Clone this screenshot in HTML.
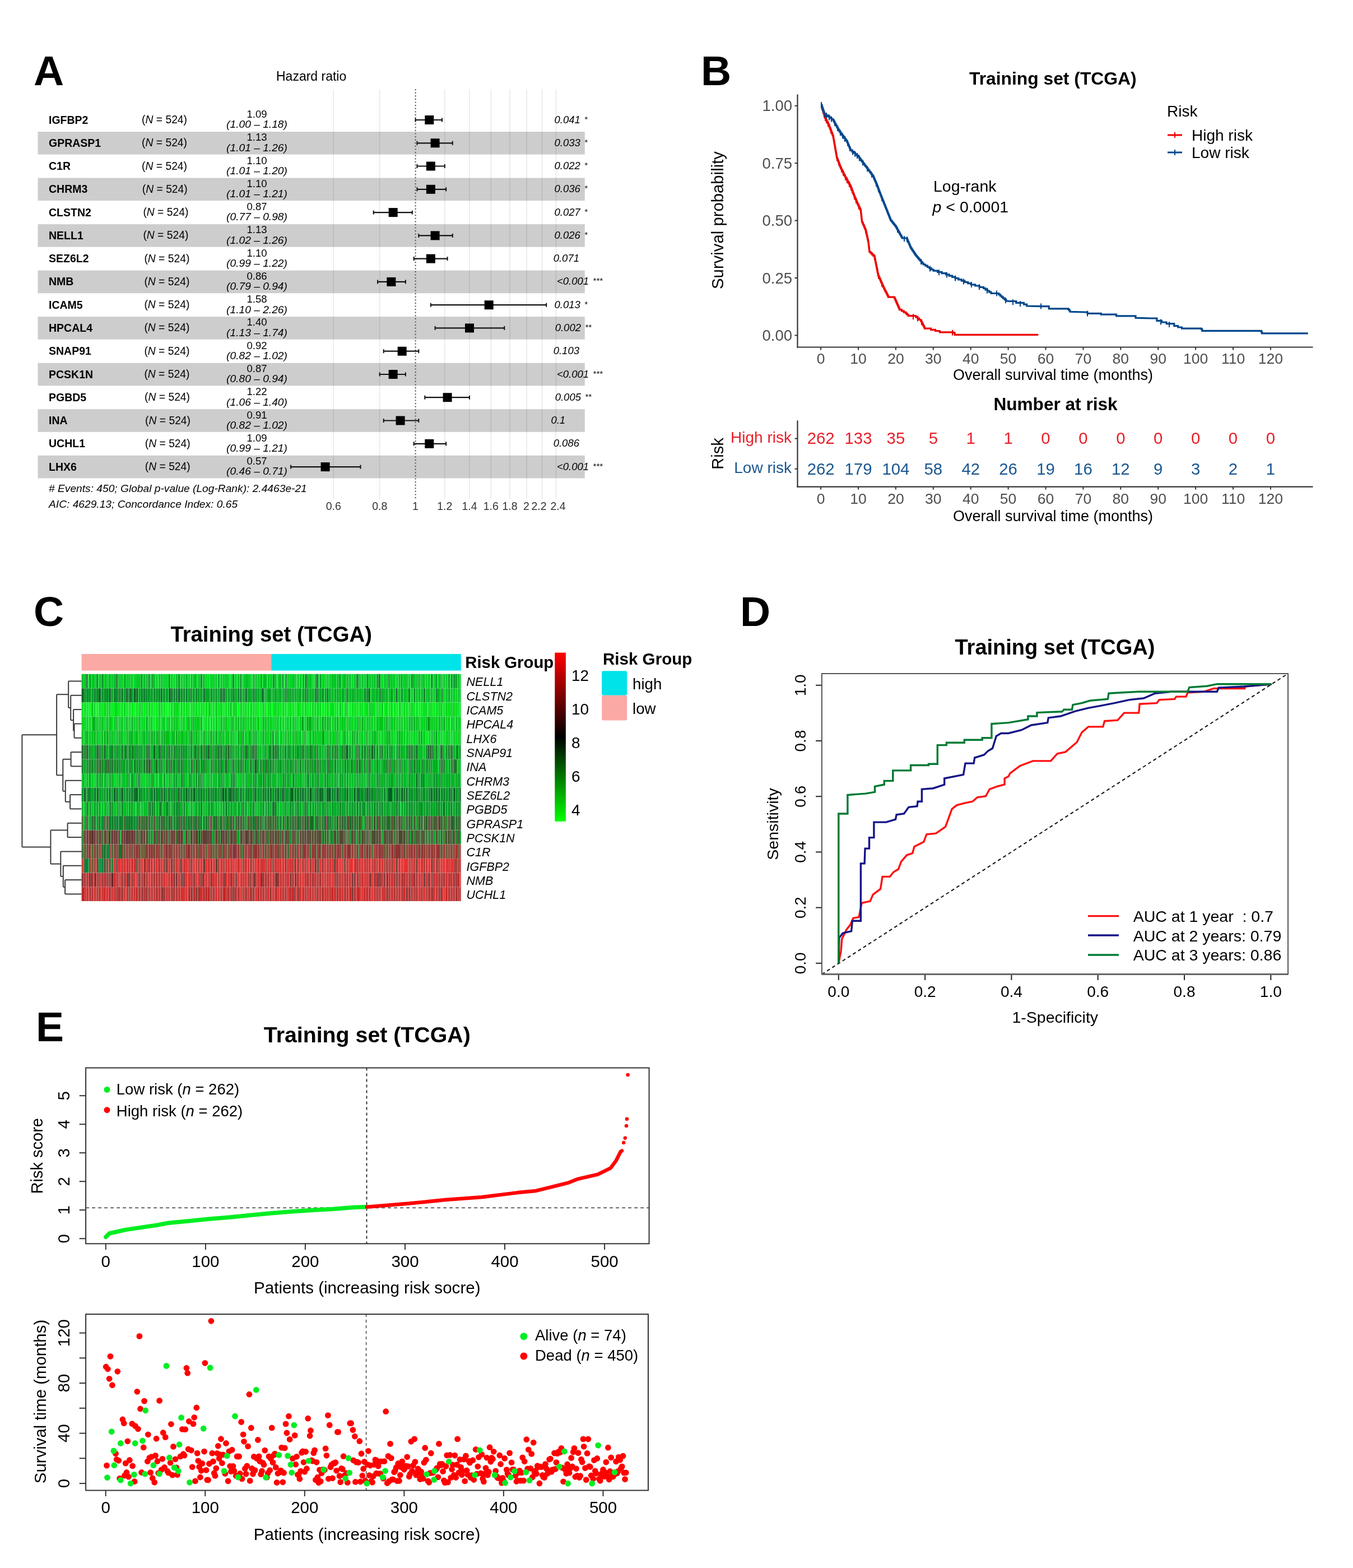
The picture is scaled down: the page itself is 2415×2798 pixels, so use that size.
<!DOCTYPE html>
<html><head><meta charset="utf-8"><title>Figure</title>
<style>html,body{margin:0;padding:0;background:#fff;}svg{display:block;}
text{font-family:"Liberation Sans",Arial,Helvetica,sans-serif;}</style></head>
<body><svg width="2415" height="2798" viewBox="0 0 2415 2798">
<rect width="2415" height="2798" fill="#fff"/>
<text x="60.0" y="152.0" font-size="75" font-weight="bold">A</text>
<text x="493.0" y="143.7" font-size="23">Hazard ratio</text>
<rect x="67.5" y="235.0" width="976.3" height="40.6" fill="#cdcdcd" />
<rect x="67.5" y="317.5" width="976.3" height="40.6" fill="#cdcdcd" />
<rect x="67.5" y="400.1" width="976.3" height="40.6" fill="#cdcdcd" />
<rect x="67.5" y="482.6" width="976.3" height="40.6" fill="#cdcdcd" />
<rect x="67.5" y="565.1" width="976.3" height="40.6" fill="#cdcdcd" />
<rect x="67.5" y="647.7" width="976.3" height="40.6" fill="#cdcdcd" />
<rect x="67.5" y="730.2" width="976.3" height="40.6" fill="#cdcdcd" />
<rect x="67.5" y="812.8" width="976.3" height="40.6" fill="#cdcdcd" />
<line x1="595.2" y1="159.0" x2="595.2" y2="890.0" stroke="rgba(0,0,0,0.09)" stroke-width="1.6" />
<line x1="677.7" y1="159.0" x2="677.7" y2="890.0" stroke="rgba(0,0,0,0.09)" stroke-width="1.6" />
<line x1="793.8" y1="159.0" x2="793.8" y2="890.0" stroke="rgba(0,0,0,0.09)" stroke-width="1.6" />
<line x1="838.0" y1="159.0" x2="838.0" y2="890.0" stroke="rgba(0,0,0,0.09)" stroke-width="1.6" />
<line x1="876.3" y1="159.0" x2="876.3" y2="890.0" stroke="rgba(0,0,0,0.09)" stroke-width="1.6" />
<line x1="910.0" y1="159.0" x2="910.0" y2="890.0" stroke="rgba(0,0,0,0.09)" stroke-width="1.6" />
<line x1="940.2" y1="159.0" x2="940.2" y2="890.0" stroke="rgba(0,0,0,0.09)" stroke-width="1.6" />
<line x1="967.5" y1="159.0" x2="967.5" y2="890.0" stroke="rgba(0,0,0,0.09)" stroke-width="1.6" />
<line x1="992.4" y1="159.0" x2="992.4" y2="890.0" stroke="rgba(0,0,0,0.09)" stroke-width="1.6" />
<line x1="741.6" y1="159.0" x2="741.6" y2="890.0" stroke="#555" stroke-width="2" stroke-dasharray="2.2,3.4"/>
<text x="87.0" y="220.5" font-size="19.5" font-weight="bold">IGFBP2</text>
<text x="253.1" y="220.0" font-size="19.3">(<tspan font-style="italic">N</tspan> = 524)</text>
<text x="458.5" y="210.0" font-size="18.5" text-anchor="middle">1.09</text>
<text x="458.5" y="228.3" font-size="19.2" font-style="italic" text-anchor="middle">(1.00 – 1.18)</text>
<line x1="741.6" y1="214.0" x2="789.0" y2="214.0" stroke="#111" stroke-width="2.2" />
<line x1="741.6" y1="210.5" x2="741.6" y2="217.5" stroke="#111" stroke-width="2" />
<line x1="789.0" y1="210.5" x2="789.0" y2="217.5" stroke="#111" stroke-width="2" />
<rect x="758.3" y="206.0" width="16.0" height="16.0" fill="#000" />
<text x="989.5" y="219.5" font-size="18.5" font-style="italic">0.041<tspan dx="7" dy="-2" font-size="15">*</tspan></text>
<text x="87.0" y="261.8" font-size="19.5" font-weight="bold">GPRASP1</text>
<text x="253.1" y="261.3" font-size="19.3">(<tspan font-style="italic">N</tspan> = 524)</text>
<text x="458.5" y="251.3" font-size="18.5" text-anchor="middle">1.13</text>
<text x="458.5" y="269.6" font-size="19.2" font-style="italic" text-anchor="middle">(1.01 – 1.26)</text>
<line x1="744.5" y1="255.3" x2="807.8" y2="255.3" stroke="#111" stroke-width="2.2" />
<line x1="744.5" y1="251.8" x2="744.5" y2="258.8" stroke="#111" stroke-width="2" />
<line x1="807.8" y1="251.8" x2="807.8" y2="258.8" stroke="#111" stroke-width="2" />
<rect x="768.6" y="247.3" width="16.0" height="16.0" fill="#000" />
<text x="989.5" y="260.8" font-size="18.5" font-style="italic">0.033<tspan dx="7" dy="-2" font-size="15">*</tspan></text>
<text x="87.0" y="303.0" font-size="19.5" font-weight="bold">C1R</text>
<text x="253.1" y="302.5" font-size="19.3">(<tspan font-style="italic">N</tspan> = 524)</text>
<text x="458.5" y="292.5" font-size="18.5" text-anchor="middle">1.10</text>
<text x="458.5" y="310.8" font-size="19.2" font-style="italic" text-anchor="middle">(1.01 – 1.20)</text>
<line x1="744.5" y1="296.5" x2="793.8" y2="296.5" stroke="#111" stroke-width="2.2" />
<line x1="744.5" y1="293.0" x2="744.5" y2="300.0" stroke="#111" stroke-width="2" />
<line x1="793.8" y1="293.0" x2="793.8" y2="300.0" stroke="#111" stroke-width="2" />
<rect x="760.9" y="288.5" width="16.0" height="16.0" fill="#000" />
<text x="989.5" y="302.0" font-size="18.5" font-style="italic">0.022<tspan dx="7" dy="-2" font-size="15">*</tspan></text>
<text x="87.0" y="344.3" font-size="19.5" font-weight="bold">CHRM3</text>
<text x="253.8" y="343.8" font-size="19.3">(<tspan font-style="italic">N</tspan> = 524)</text>
<text x="458.5" y="333.8" font-size="18.5" text-anchor="middle">1.10</text>
<text x="458.5" y="352.1" font-size="19.2" font-style="italic" text-anchor="middle">(1.01 – 1.21)</text>
<line x1="744.5" y1="337.8" x2="796.2" y2="337.8" stroke="#111" stroke-width="2.2" />
<line x1="744.5" y1="334.3" x2="744.5" y2="341.3" stroke="#111" stroke-width="2" />
<line x1="796.2" y1="334.3" x2="796.2" y2="341.3" stroke="#111" stroke-width="2" />
<rect x="760.9" y="329.8" width="16.0" height="16.0" fill="#000" />
<text x="989.5" y="343.3" font-size="18.5" font-style="italic">0.036<tspan dx="7" dy="-2" font-size="15">*</tspan></text>
<text x="87.0" y="385.6" font-size="19.5" font-weight="bold">CLSTN2</text>
<text x="255.4" y="385.1" font-size="19.3">(<tspan font-style="italic">N</tspan> = 524)</text>
<text x="458.5" y="375.1" font-size="18.5" text-anchor="middle">0.87</text>
<text x="458.5" y="393.4" font-size="19.2" font-style="italic" text-anchor="middle">(0.77 – 0.98)</text>
<line x1="666.7" y1="379.1" x2="735.8" y2="379.1" stroke="#111" stroke-width="2.2" />
<line x1="666.7" y1="375.6" x2="666.7" y2="382.6" stroke="#111" stroke-width="2" />
<line x1="735.8" y1="375.6" x2="735.8" y2="382.6" stroke="#111" stroke-width="2" />
<rect x="693.7" y="371.1" width="16.0" height="16.0" fill="#000" />
<text x="989.5" y="384.6" font-size="18.5" font-style="italic">0.027<tspan dx="7" dy="-2" font-size="15">*</tspan></text>
<text x="87.0" y="426.9" font-size="19.5" font-weight="bold">NELL1</text>
<text x="255.4" y="426.4" font-size="19.3">(<tspan font-style="italic">N</tspan> = 524)</text>
<text x="458.5" y="416.4" font-size="18.5" text-anchor="middle">1.13</text>
<text x="458.5" y="434.7" font-size="19.2" font-style="italic" text-anchor="middle">(1.02 – 1.26)</text>
<line x1="747.3" y1="420.4" x2="807.8" y2="420.4" stroke="#111" stroke-width="2.2" />
<line x1="747.3" y1="416.9" x2="747.3" y2="423.9" stroke="#111" stroke-width="2" />
<line x1="807.8" y1="416.9" x2="807.8" y2="423.9" stroke="#111" stroke-width="2" />
<rect x="768.6" y="412.4" width="16.0" height="16.0" fill="#000" />
<text x="989.5" y="425.9" font-size="18.5" font-style="italic">0.026<tspan dx="7" dy="-2" font-size="15">*</tspan></text>
<text x="87.0" y="468.1" font-size="19.5" font-weight="bold">SEZ6L2</text>
<text x="257.4" y="467.6" font-size="19.3">(<tspan font-style="italic">N</tspan> = 524)</text>
<text x="458.5" y="457.6" font-size="18.5" text-anchor="middle">1.10</text>
<text x="458.5" y="475.9" font-size="19.2" font-style="italic" text-anchor="middle">(0.99 – 1.22)</text>
<line x1="738.7" y1="461.6" x2="798.6" y2="461.6" stroke="#111" stroke-width="2.2" />
<line x1="738.7" y1="458.1" x2="738.7" y2="465.1" stroke="#111" stroke-width="2" />
<line x1="798.6" y1="458.1" x2="798.6" y2="465.1" stroke="#111" stroke-width="2" />
<rect x="760.9" y="453.6" width="16.0" height="16.0" fill="#000" />
<text x="987.7" y="467.1" font-size="18.5" font-style="italic">0.071</text>
<text x="87.0" y="509.4" font-size="19.5" font-weight="bold">NMB</text>
<text x="257.4" y="508.9" font-size="19.3">(<tspan font-style="italic">N</tspan> = 524)</text>
<text x="458.5" y="498.9" font-size="18.5" text-anchor="middle">0.86</text>
<text x="458.5" y="517.2" font-size="19.2" font-style="italic" text-anchor="middle">(0.79 – 0.94)</text>
<line x1="674.1" y1="502.9" x2="723.9" y2="502.9" stroke="#111" stroke-width="2.2" />
<line x1="674.1" y1="499.4" x2="674.1" y2="506.4" stroke="#111" stroke-width="2" />
<line x1="723.9" y1="499.4" x2="723.9" y2="506.4" stroke="#111" stroke-width="2" />
<rect x="690.4" y="494.9" width="16.0" height="16.0" fill="#000" />
<text x="994.0" y="508.4" font-size="18.5" font-style="italic">&lt;0.001<tspan dx="7" dy="-2" font-size="15">***</tspan></text>
<text x="87.0" y="550.7" font-size="19.5" font-weight="bold">ICAM5</text>
<text x="257.4" y="550.2" font-size="19.3">(<tspan font-style="italic">N</tspan> = 524)</text>
<text x="458.5" y="540.2" font-size="18.5" text-anchor="middle">1.58</text>
<text x="458.5" y="558.5" font-size="19.2" font-style="italic" text-anchor="middle">(1.10 – 2.26)</text>
<line x1="768.9" y1="544.2" x2="975.2" y2="544.2" stroke="#111" stroke-width="2.2" />
<line x1="768.9" y1="540.7" x2="768.9" y2="547.7" stroke="#111" stroke-width="2" />
<line x1="975.2" y1="540.7" x2="975.2" y2="547.7" stroke="#111" stroke-width="2" />
<rect x="864.7" y="536.2" width="16.0" height="16.0" fill="#000" />
<text x="989.5" y="549.7" font-size="18.5" font-style="italic">0.013<tspan dx="7" dy="-2" font-size="15">*</tspan></text>
<text x="87.0" y="591.9" font-size="19.5" font-weight="bold">HPCAL4</text>
<text x="257.4" y="591.4" font-size="19.3">(<tspan font-style="italic">N</tspan> = 524)</text>
<text x="458.5" y="581.4" font-size="18.5" text-anchor="middle">1.40</text>
<text x="458.5" y="599.7" font-size="19.2" font-style="italic" text-anchor="middle">(1.13 – 1.74)</text>
<line x1="776.6" y1="585.4" x2="900.3" y2="585.4" stroke="#111" stroke-width="2.2" />
<line x1="776.6" y1="581.9" x2="776.6" y2="588.9" stroke="#111" stroke-width="2" />
<line x1="900.3" y1="581.9" x2="900.3" y2="588.9" stroke="#111" stroke-width="2" />
<rect x="830.0" y="577.4" width="16.0" height="16.0" fill="#000" />
<text x="990.7" y="590.9" font-size="18.5" font-style="italic">0.002<tspan dx="7" dy="-2" font-size="15">**</tspan></text>
<text x="87.0" y="633.2" font-size="19.5" font-weight="bold">SNAP91</text>
<text x="257.4" y="632.7" font-size="19.3">(<tspan font-style="italic">N</tspan> = 524)</text>
<text x="458.5" y="622.7" font-size="18.5" text-anchor="middle">0.92</text>
<text x="458.5" y="641.0" font-size="19.2" font-style="italic" text-anchor="middle">(0.82 – 1.02)</text>
<line x1="684.7" y1="626.7" x2="747.3" y2="626.7" stroke="#111" stroke-width="2.2" />
<line x1="684.7" y1="623.2" x2="684.7" y2="630.2" stroke="#111" stroke-width="2" />
<line x1="747.3" y1="623.2" x2="747.3" y2="630.2" stroke="#111" stroke-width="2" />
<rect x="709.7" y="618.7" width="16.0" height="16.0" fill="#000" />
<text x="987.7" y="632.2" font-size="18.5" font-style="italic">0.103</text>
<text x="87.0" y="674.5" font-size="19.5" font-weight="bold">PCSK1N</text>
<text x="257.4" y="674.0" font-size="19.3">(<tspan font-style="italic">N</tspan> = 524)</text>
<text x="458.5" y="664.0" font-size="18.5" text-anchor="middle">0.87</text>
<text x="458.5" y="682.3" font-size="19.2" font-style="italic" text-anchor="middle">(0.80 – 0.94)</text>
<line x1="677.7" y1="668.0" x2="723.9" y2="668.0" stroke="#111" stroke-width="2.2" />
<line x1="677.7" y1="664.5" x2="677.7" y2="671.5" stroke="#111" stroke-width="2" />
<line x1="723.9" y1="664.5" x2="723.9" y2="671.5" stroke="#111" stroke-width="2" />
<rect x="693.7" y="660.0" width="16.0" height="16.0" fill="#000" />
<text x="994.0" y="673.5" font-size="18.5" font-style="italic">&lt;0.001<tspan dx="7" dy="-2" font-size="15">***</tspan></text>
<text x="87.0" y="715.7" font-size="19.5" font-weight="bold">PGBD5</text>
<text x="258.1" y="715.2" font-size="19.3">(<tspan font-style="italic">N</tspan> = 524)</text>
<text x="458.5" y="705.2" font-size="18.5" text-anchor="middle">1.22</text>
<text x="458.5" y="723.5" font-size="19.2" font-style="italic" text-anchor="middle">(1.06 – 1.40)</text>
<line x1="758.3" y1="709.2" x2="838.0" y2="709.2" stroke="#111" stroke-width="2.2" />
<line x1="758.3" y1="705.7" x2="758.3" y2="712.7" stroke="#111" stroke-width="2" />
<line x1="838.0" y1="705.7" x2="838.0" y2="712.7" stroke="#111" stroke-width="2" />
<rect x="790.6" y="701.2" width="16.0" height="16.0" fill="#000" />
<text x="990.7" y="714.7" font-size="18.5" font-style="italic">0.005<tspan dx="7" dy="-2" font-size="15">**</tspan></text>
<text x="87.0" y="757.0" font-size="19.5" font-weight="bold">INA</text>
<text x="259.1" y="756.5" font-size="19.3">(<tspan font-style="italic">N</tspan> = 524)</text>
<text x="458.5" y="746.5" font-size="18.5" text-anchor="middle">0.91</text>
<text x="458.5" y="764.8" font-size="19.2" font-style="italic" text-anchor="middle">(0.82 – 1.02)</text>
<line x1="684.7" y1="750.5" x2="747.3" y2="750.5" stroke="#111" stroke-width="2.2" />
<line x1="684.7" y1="747.0" x2="684.7" y2="754.0" stroke="#111" stroke-width="2" />
<line x1="747.3" y1="747.0" x2="747.3" y2="754.0" stroke="#111" stroke-width="2" />
<rect x="706.6" y="742.5" width="16.0" height="16.0" fill="#000" />
<text x="983.4" y="756.0" font-size="18.5" font-style="italic">0.1</text>
<text x="87.0" y="798.3" font-size="19.5" font-weight="bold">UCHL1</text>
<text x="258.8" y="797.8" font-size="19.3">(<tspan font-style="italic">N</tspan> = 524)</text>
<text x="458.5" y="787.8" font-size="18.5" text-anchor="middle">1.09</text>
<text x="458.5" y="806.1" font-size="19.2" font-style="italic" text-anchor="middle">(0.99 – 1.21)</text>
<line x1="738.7" y1="791.8" x2="796.2" y2="791.8" stroke="#111" stroke-width="2.2" />
<line x1="738.7" y1="788.3" x2="738.7" y2="795.3" stroke="#111" stroke-width="2" />
<line x1="796.2" y1="788.3" x2="796.2" y2="795.3" stroke="#111" stroke-width="2" />
<rect x="758.3" y="783.8" width="16.0" height="16.0" fill="#000" />
<text x="987.7" y="797.3" font-size="18.5" font-style="italic">0.086</text>
<text x="87.0" y="839.6" font-size="19.5" font-weight="bold">LHX6</text>
<text x="258.8" y="839.1" font-size="19.3">(<tspan font-style="italic">N</tspan> = 524)</text>
<text x="458.5" y="829.1" font-size="18.5" text-anchor="middle">0.57</text>
<text x="458.5" y="847.4" font-size="19.2" font-style="italic" text-anchor="middle">(0.46 – 0.71)</text>
<line x1="519.1" y1="833.1" x2="643.5" y2="833.1" stroke="#111" stroke-width="2.2" />
<line x1="519.1" y1="829.6" x2="519.1" y2="836.6" stroke="#111" stroke-width="2" />
<line x1="643.5" y1="829.6" x2="643.5" y2="836.6" stroke="#111" stroke-width="2" />
<rect x="572.6" y="825.1" width="16.0" height="16.0" fill="#000" />
<text x="994.0" y="838.6" font-size="18.5" font-style="italic">&lt;0.001<tspan dx="7" dy="-2" font-size="15">***</tspan></text>
<text x="87.0" y="877.7" font-size="19.2" font-style="italic"># Events: 450; Global p-value (Log-Rank): 2.4463e-21</text>
<text x="87.0" y="905.6" font-size="19.2" font-style="italic">AIC: 4629.13; Concordance Index: 0.65</text>
<text x="595.2" y="910.0" font-size="19.5" text-anchor="middle" fill="#333">0.6</text>
<text x="677.7" y="910.0" font-size="19.5" text-anchor="middle" fill="#333">0.8</text>
<text x="741.5" y="910.0" font-size="19.5" text-anchor="middle" fill="#333">1</text>
<text x="793.8" y="910.0" font-size="19.5" text-anchor="middle" fill="#333">1.2</text>
<text x="838.0" y="910.0" font-size="19.5" text-anchor="middle" fill="#333">1.4</text>
<text x="876.3" y="910.0" font-size="19.5" text-anchor="middle" fill="#333">1.6</text>
<text x="910.0" y="910.0" font-size="19.5" text-anchor="middle" fill="#333">1.8</text>
<text x="939.5" y="910.0" font-size="19.5" text-anchor="middle" fill="#333">2</text>
<text x="962.0" y="910.0" font-size="19.5" text-anchor="middle" fill="#333">2.2</text>
<text x="996.0" y="910.0" font-size="19.5" text-anchor="middle" fill="#333">2.4</text>
<text x="1251.0" y="152.0" font-size="75" font-weight="bold">B</text>
<text x="1730.0" y="150.8" font-size="31.8" font-weight="bold">Training set (TCGA)</text>
<line x1="1423.5" y1="168.5" x2="1423.5" y2="620.5" stroke="#333333" stroke-width="2.2" />
<line x1="1422.4" y1="619.5" x2="2343.5" y2="619.5" stroke="#333333" stroke-width="2.2" />
<line x1="1418.5" y1="188.8" x2="1423.5" y2="188.8" stroke="#333333" stroke-width="2" />
<text x="1414.0" y="198.4" font-size="27.5" text-anchor="end" fill="#4D4D4D">1.00</text>
<line x1="1418.5" y1="291.2" x2="1423.5" y2="291.2" stroke="#333333" stroke-width="2" />
<text x="1414.0" y="300.8" font-size="27.5" text-anchor="end" fill="#4D4D4D">0.75</text>
<line x1="1418.5" y1="393.6" x2="1423.5" y2="393.6" stroke="#333333" stroke-width="2" />
<text x="1414.0" y="403.2" font-size="27.5" text-anchor="end" fill="#4D4D4D">0.50</text>
<line x1="1418.5" y1="496.0" x2="1423.5" y2="496.0" stroke="#333333" stroke-width="2" />
<text x="1414.0" y="505.6" font-size="27.5" text-anchor="end" fill="#4D4D4D">0.25</text>
<line x1="1418.5" y1="598.4" x2="1423.5" y2="598.4" stroke="#333333" stroke-width="2" />
<text x="1414.0" y="608.0" font-size="27.5" text-anchor="end" fill="#4D4D4D">0.00</text>
<line x1="1465.1" y1="619.5" x2="1465.1" y2="624.5" stroke="#333333" stroke-width="2" />
<text x="1465.1" y="648.5" font-size="26.5" text-anchor="middle" fill="#4D4D4D">0</text>
<line x1="1532.0" y1="619.5" x2="1532.0" y2="624.5" stroke="#333333" stroke-width="2" />
<text x="1532.0" y="648.5" font-size="26.5" text-anchor="middle" fill="#4D4D4D">10</text>
<line x1="1598.9" y1="619.5" x2="1598.9" y2="624.5" stroke="#333333" stroke-width="2" />
<text x="1598.9" y="648.5" font-size="26.5" text-anchor="middle" fill="#4D4D4D">20</text>
<line x1="1665.8" y1="619.5" x2="1665.8" y2="624.5" stroke="#333333" stroke-width="2" />
<text x="1665.8" y="648.5" font-size="26.5" text-anchor="middle" fill="#4D4D4D">30</text>
<line x1="1732.7" y1="619.5" x2="1732.7" y2="624.5" stroke="#333333" stroke-width="2" />
<text x="1732.7" y="648.5" font-size="26.5" text-anchor="middle" fill="#4D4D4D">40</text>
<line x1="1799.6" y1="619.5" x2="1799.6" y2="624.5" stroke="#333333" stroke-width="2" />
<text x="1799.6" y="648.5" font-size="26.5" text-anchor="middle" fill="#4D4D4D">50</text>
<line x1="1866.5" y1="619.5" x2="1866.5" y2="624.5" stroke="#333333" stroke-width="2" />
<text x="1866.5" y="648.5" font-size="26.5" text-anchor="middle" fill="#4D4D4D">60</text>
<line x1="1933.4" y1="619.5" x2="1933.4" y2="624.5" stroke="#333333" stroke-width="2" />
<text x="1933.4" y="648.5" font-size="26.5" text-anchor="middle" fill="#4D4D4D">70</text>
<line x1="2000.3" y1="619.5" x2="2000.3" y2="624.5" stroke="#333333" stroke-width="2" />
<text x="2000.3" y="648.5" font-size="26.5" text-anchor="middle" fill="#4D4D4D">80</text>
<line x1="2067.2" y1="619.5" x2="2067.2" y2="624.5" stroke="#333333" stroke-width="2" />
<text x="2067.2" y="648.5" font-size="26.5" text-anchor="middle" fill="#4D4D4D">90</text>
<line x1="2134.1" y1="619.5" x2="2134.1" y2="624.5" stroke="#333333" stroke-width="2" />
<text x="2134.1" y="648.5" font-size="26.5" text-anchor="middle" fill="#4D4D4D">100</text>
<line x1="2201.0" y1="619.5" x2="2201.0" y2="624.5" stroke="#333333" stroke-width="2" />
<text x="2201.0" y="648.5" font-size="26.5" text-anchor="middle" fill="#4D4D4D">110</text>
<line x1="2267.9" y1="619.5" x2="2267.9" y2="624.5" stroke="#333333" stroke-width="2" />
<text x="2267.9" y="648.5" font-size="26.5" text-anchor="middle" fill="#4D4D4D">120</text>
<text x="1879.5" y="677.6" font-size="27" text-anchor="middle">Overall survival time (months)</text>
<text transform="translate(1291.0,393.0) rotate(-90)" font-size="29.3" text-anchor="middle" >Survival probability</text>
<text x="2083.0" y="208.0" font-size="28">Risk</text>
<line x1="2084.0" y1="241.0" x2="2110.0" y2="241.0" stroke="#ED0000" stroke-width="3" />
<line x1="2097.0" y1="236.0" x2="2097.0" y2="246.0" stroke="#ED0000" stroke-width="2" />
<line x1="2084.0" y1="272.0" x2="2110.0" y2="272.0" stroke="#00468B" stroke-width="3" />
<line x1="2097.0" y1="267.0" x2="2097.0" y2="277.0" stroke="#00468B" stroke-width="2" />
<text x="2127.0" y="251.0" font-size="28">High risk</text>
<text x="2127.0" y="282.0" font-size="28">Low risk</text>
<text x="1666.0" y="341.7" font-size="28.5">Log-rank</text>
<text x="1664.6" y="379" font-size="28.5"><tspan font-style="italic">p</tspan> &lt; 0.0001</text>
<polyline points="1465.9,187.9 1466.6,187.9 1466.6,190.1 1467.2,190.1 1467.2,192.4 1467.9,192.4 1467.9,194.6 1468.6,194.6 1468.6,196.9 1469.2,196.9 1469.2,199.1 1469.9,199.1 1469.9,201.3 1470.6,201.3 1470.6,203.6 1471.3,203.6 1471.3,205.8 1471.9,205.8 1471.9,208.1 1472.6,208.1 1472.6,210.3 1473.7,210.3 1473.7,212.5 1474.8,212.5 1474.8,214.8 1475.9,214.8 1475.9,217.0 1477.1,217.0 1477.1,219.2 1478.2,219.2 1478.2,221.5 1479.3,221.5 1479.3,223.7 1480.2,223.7 1480.2,225.9 1481.0,225.9 1481.0,228.2 1481.9,228.2 1481.9,230.4 1482.8,230.4 1482.8,232.6 1483.6,232.6 1483.6,234.9 1484.5,234.9 1484.5,237.1 1485.4,237.1 1485.4,239.3 1486.2,239.3 1486.2,241.6 1487.1,241.6 1487.1,243.8 1487.5,243.8 1487.5,246.0 1487.9,246.0 1487.9,248.3 1488.3,248.3 1488.3,250.5 1488.7,250.5 1488.7,252.8 1489.1,252.8 1489.1,255.0 1489.5,255.0 1489.5,257.2 1489.9,257.2 1489.9,259.5 1490.3,259.5 1490.3,261.7 1490.6,261.7 1490.6,264.0 1491.0,264.0 1491.0,266.2 1491.4,266.2 1491.4,268.5 1491.8,268.5 1491.8,270.7 1492.2,270.7 1492.2,272.9 1492.6,272.9 1492.6,275.2 1493.0,275.2 1493.0,277.4 1493.4,277.4 1493.4,279.7 1493.8,279.7 1493.8,281.9 1494.6,281.9 1494.6,284.1 1495.5,284.1 1495.5,286.4 1496.3,286.4 1496.3,288.6 1497.2,288.6 1497.2,290.9 1498.0,290.9 1498.0,293.1 1498.8,293.1 1498.8,295.3 1499.7,295.3 1499.7,297.6 1500.5,297.6 1500.5,299.8 1501.6,299.8 1501.6,302.0 1502.8,302.0 1502.8,304.3 1503.9,304.3 1503.9,306.5 1505.0,306.5 1505.0,308.8 1506.1,308.8 1506.1,311.0 1507.2,311.0 1507.2,313.2 1508.4,313.2 1508.4,315.5 1509.5,315.5 1509.5,317.7 1510.8,317.7 1510.8,319.9 1512.0,319.9 1512.0,322.2 1513.3,322.2 1513.3,324.4 1514.6,324.4 1514.6,326.6 1515.9,326.6 1515.9,328.8 1517.1,328.8 1517.1,331.1 1518.4,331.1 1518.4,333.3 1519.2,333.3 1519.2,335.5 1520.1,335.5 1520.1,337.8 1520.9,337.8 1520.9,340.0 1521.8,340.0 1521.8,342.2 1522.6,342.2 1522.6,344.5 1523.4,344.5 1523.4,346.7 1524.3,346.7 1524.3,349.0 1525.1,349.0 1525.1,351.2 1526.1,351.2 1526.1,353.4 1527.0,353.4 1527.0,355.7 1528.0,355.7 1528.0,357.9 1529.0,357.9 1529.0,360.2 1530.0,360.2 1530.0,362.4 1530.9,362.4 1530.9,364.7 1531.9,364.7 1531.9,366.9 1533.0,366.9 1533.0,369.1 1534.1,369.1 1534.1,371.4 1535.2,371.4 1535.2,373.6 1536.3,373.6 1536.3,375.8 1536.6,375.8 1536.6,378.0 1536.8,378.0 1536.8,380.3 1537.1,380.3 1537.1,382.5 1537.3,382.5 1537.3,384.8 1537.6,384.8 1537.6,387.0 1537.8,387.0 1537.8,389.3 1538.1,389.3 1538.1,391.5 1538.3,391.5 1538.3,393.8 1538.6,393.8 1538.6,396.0 1539.6,396.0 1539.6,398.2 1540.5,398.2 1540.5,400.5 1541.5,400.5 1541.5,402.7 1542.4,402.7 1542.4,404.9 1543.4,404.9 1543.4,407.1 1544.3,407.1 1544.3,409.4 1545.3,409.4 1545.3,411.6 1545.8,411.6 1545.8,413.8 1546.3,413.8 1546.3,416.1 1546.8,416.1 1546.8,418.3 1547.3,418.3 1547.3,420.5 1547.8,420.5 1547.8,422.8 1548.3,422.8 1548.3,425.0 1548.8,425.0 1548.8,427.2 1549.3,427.2 1549.3,429.5 1549.8,429.5 1549.8,431.7 1550.1,431.7 1550.1,433.9 1550.3,433.9 1550.3,436.2 1550.6,436.2 1550.6,438.4 1550.9,438.4 1550.9,440.6 1551.2,440.6 1551.2,442.9 1551.5,442.9 1551.5,445.1 1551.7,445.1 1551.7,447.4 1552.0,447.4 1552.0,449.6 1554.2,449.6 1554.2,451.9 1556.5,451.9 1556.5,454.1 1558.7,454.1 1558.7,456.4 1560.9,456.4 1560.9,458.6 1561.4,458.6 1561.4,460.8 1561.8,460.8 1561.8,463.1 1562.3,463.1 1562.3,465.3 1562.7,465.3 1562.7,467.5 1563.2,467.5 1563.2,469.8 1563.6,469.8 1563.6,472.0 1564.1,472.0 1564.1,474.2 1564.5,474.2 1564.5,476.5 1565.0,476.5 1565.0,478.7 1565.4,478.7 1565.4,480.9 1565.9,480.9 1565.9,483.2 1566.3,483.2 1566.3,485.4 1566.8,485.4 1566.8,487.6 1567.2,487.6 1567.2,489.9 1567.7,489.9 1567.7,492.1 1568.7,492.1 1568.7,494.3 1569.7,494.3 1569.7,496.6 1570.7,496.6 1570.7,498.8 1571.7,498.8 1571.7,501.1 1572.6,501.1 1572.6,503.3 1573.6,503.3 1573.6,505.6 1574.6,505.6 1574.6,507.8 1575.6,507.8 1575.6,510.1 1576.6,510.1 1576.6,512.3 1577.7,512.3 1577.7,514.5 1578.8,514.5 1578.8,516.8 1579.9,516.8 1579.9,519.0 1581.0,519.0 1581.0,521.2 1582.2,521.2 1582.2,523.5 1583.3,523.5 1583.3,525.7 1584.4,525.7 1584.4,528.0 1585.5,528.0 1585.5,530.2 1596.7,530.2 1596.7,532.4 1597.7,532.4 1597.7,534.6 1598.7,534.6 1598.7,536.9 1599.7,536.9 1599.7,539.1 1600.7,539.1 1600.7,541.4 1601.7,541.4 1601.7,543.6 1602.7,543.6 1602.7,545.9 1603.7,545.9 1603.7,548.1 1604.7,548.1 1604.7,550.4 1605.7,550.4 1605.7,552.6 1609.4,552.6 1609.4,554.8 1613.2,554.8 1613.2,557.1 1616.9,557.1 1616.9,559.3 1619.1,559.3 1619.1,561.5 1621.3,561.5 1621.3,563.7 1634.8,563.7 1634.8,566.0 1637.8,566.0 1637.8,568.2 1640.7,568.2 1640.7,570.5 1643.7,570.5 1643.7,572.7 1644.8,572.7 1644.8,574.9 1645.9,574.9 1645.9,577.2 1647.1,577.2 1647.1,579.4 1648.2,579.4 1648.2,581.6 1649.3,581.6 1649.3,583.9 1650.4,583.9 1650.4,586.1 1661.6,586.1 1661.6,588.3 1669.4,588.3 1669.4,590.5 1677.3,590.5 1677.3,592.8 1701.9,592.8 1701.9,593.9 1704.1,593.9 1704.1,597.3 1853.3,597.3" fill="none" stroke="#ED0000" stroke-width="3.2" stroke-linejoin="miter"/>
<polyline points="1465.9,186.8 1466.7,186.8 1466.7,189.2 1467.5,189.2 1467.5,191.6 1468.3,191.6 1468.3,194.0 1469.1,194.0 1469.1,196.4 1469.9,196.4 1469.9,198.8 1470.7,198.8 1470.7,201.2 1471.5,201.2 1471.5,203.6 1474.6,203.6 1474.6,205.8 1477.7,205.8 1477.7,208.0 1480.9,208.0 1480.9,210.3 1484.0,210.3 1484.0,212.5 1487.1,212.5 1487.1,214.7 1488.3,214.7 1488.3,216.9 1489.6,216.9 1489.6,219.2 1490.8,219.2 1490.8,221.4 1492.1,221.4 1492.1,223.7 1493.3,223.7 1493.3,225.9 1494.6,225.9 1494.6,228.2 1495.8,228.2 1495.8,230.4 1497.1,230.4 1497.1,232.7 1498.3,232.7 1498.3,234.9 1500.0,234.9 1500.0,237.1 1501.7,237.1 1501.7,239.4 1503.3,239.4 1503.3,241.6 1505.0,241.6 1505.0,243.9 1506.7,243.9 1506.7,246.1 1508.3,246.1 1508.3,248.3 1510.0,248.3 1510.0,250.6 1511.7,250.6 1511.7,252.8 1512.7,252.8 1512.7,255.0 1513.6,255.0 1513.6,257.3 1514.6,257.3 1514.6,259.5 1515.5,259.5 1515.5,261.7 1516.5,261.7 1516.5,263.9 1517.4,263.9 1517.4,266.2 1518.4,266.2 1518.4,268.4 1521.1,268.4 1521.1,270.6 1523.8,270.6 1523.8,272.9 1526.5,272.9 1526.5,275.1 1529.2,275.1 1529.2,277.4 1531.9,277.4 1531.9,279.6 1533.6,279.6 1533.6,281.8 1535.2,281.8 1535.2,284.1 1536.9,284.1 1536.9,286.3 1538.6,286.3 1538.6,288.6 1540.3,288.6 1540.3,290.8 1542.0,290.8 1542.0,293.0 1543.6,293.0 1543.6,295.3 1545.3,295.3 1545.3,297.5 1547.0,297.5 1547.0,299.7 1548.7,299.7 1548.7,302.0 1550.3,302.0 1550.3,304.2 1552.0,304.2 1552.0,306.4 1553.7,306.4 1553.7,308.7 1555.3,308.7 1555.3,310.9 1557.0,310.9 1557.0,313.2 1558.7,313.2 1558.7,315.4 1559.7,315.4 1559.7,317.6 1560.6,317.6 1560.6,319.9 1561.6,319.9 1561.6,322.1 1562.5,322.1 1562.5,324.4 1563.5,324.4 1563.5,326.6 1564.4,326.6 1564.4,328.9 1565.4,328.9 1565.4,331.1 1566.2,331.1 1566.2,333.3 1567.1,333.3 1567.1,335.6 1567.9,335.6 1567.9,337.8 1568.8,337.8 1568.8,340.1 1569.6,340.1 1569.6,342.3 1570.4,342.3 1570.4,344.5 1571.3,344.5 1571.3,346.8 1572.1,346.8 1572.1,349.0 1573.0,349.0 1573.0,351.2 1573.9,351.2 1573.9,353.5 1574.8,353.5 1574.8,355.7 1575.7,355.7 1575.7,357.9 1576.6,357.9 1576.6,360.1 1577.5,360.1 1577.5,362.4 1578.4,362.4 1578.4,364.6 1579.3,364.6 1579.3,366.8 1580.2,366.8 1580.2,369.1 1581.1,369.1 1581.1,371.3 1582.0,371.3 1582.0,373.5 1582.9,373.5 1582.9,375.8 1583.8,375.8 1583.8,378.0 1584.7,378.0 1584.7,380.3 1585.5,380.3 1585.5,382.5 1586.4,382.5 1586.4,384.7 1587.3,384.7 1587.3,387.0 1588.2,387.0 1588.2,389.2 1589.1,389.2 1589.1,391.5 1590.0,391.5 1590.0,393.7 1591.8,393.7 1591.8,395.9 1593.6,395.9 1593.6,398.2 1595.4,398.2 1595.4,400.4 1597.2,400.4 1597.2,402.7 1599.0,402.7 1599.0,404.9 1600.2,404.9 1600.2,407.1 1601.5,407.1 1601.5,409.4 1602.7,409.4 1602.7,411.6 1604.0,411.6 1604.0,413.8 1605.2,413.8 1605.2,416.1 1606.5,416.1 1606.5,418.3 1607.7,418.3 1607.7,420.5 1609.0,420.5 1609.0,422.8 1610.2,422.8 1610.2,425.0 1619.1,425.0 1619.1,427.3 1620.1,427.3 1620.1,429.5 1621.0,429.5 1621.0,431.8 1622.0,431.8 1622.0,434.0 1622.9,434.0 1622.9,436.2 1623.9,436.2 1623.9,438.4 1624.8,438.4 1624.8,440.7 1625.8,440.7 1625.8,442.9 1627.3,442.9 1627.3,445.1 1628.8,445.1 1628.8,447.4 1630.3,447.4 1630.3,449.6 1631.8,449.6 1631.8,451.9 1633.3,451.9 1633.3,454.1 1634.8,454.1 1634.8,456.4 1636.7,456.4 1636.7,458.6 1638.6,458.6 1638.6,460.9 1640.5,460.9 1640.5,463.1 1642.5,463.1 1642.5,465.3 1644.4,465.3 1644.4,467.5 1646.3,467.5 1646.3,469.8 1648.2,469.8 1648.2,472.0 1651.8,472.0 1651.8,474.2 1655.4,474.2 1655.4,476.5 1658.9,476.5 1658.9,478.7 1662.5,478.7 1662.5,481.0 1666.1,481.0 1666.1,483.2 1673.6,483.2 1673.6,485.4 1681.0,485.4 1681.0,487.7 1688.5,487.7 1688.5,489.9 1694.1,489.9 1694.1,492.1 1699.7,492.1 1699.7,494.4 1705.2,494.4 1705.2,496.6 1710.8,496.6 1710.8,498.9 1716.4,498.9 1716.4,501.1 1722.0,501.1 1722.0,503.4 1727.6,503.4 1727.6,505.6 1733.2,505.6 1733.2,507.8 1740.7,507.8 1740.7,510.0 1748.1,510.0 1748.1,512.3 1755.6,512.3 1755.6,514.5 1758.9,514.5 1758.9,516.8 1762.3,516.8 1762.3,519.0 1765.7,519.0 1765.7,521.2 1769.0,521.2 1769.0,523.5 1780.2,523.5 1782.8,523.5 1782.8,525.7 1785.4,525.7 1785.4,528.0 1788.0,528.0 1788.0,530.2 1790.6,530.2 1790.6,532.4 1793.2,532.4 1793.2,534.7 1795.8,534.7 1795.8,536.9 1800.0,537.5 1813.8,537.5 1813.8,540.4 1827.5,540.4 1827.5,543.2 1832.7,543.2 1832.7,546.0 1858.5,546.6 1872.2,546.6 1872.2,550.8 1906.6,550.8 1906.6,551.8 1908.3,551.8 1908.3,554.0 1910.0,554.0 1910.0,556.3 1937.6,557.0 1941.0,557.0 1941.0,559.4 1965.1,559.4 1965.1,561.1 1992.6,561.1 1992.6,563.8 2027.0,563.8 2027.0,567.3 2054.6,568.0 2064.9,568.0 2064.9,572.4 2073.5,572.4 2073.5,575.0 2082.1,575.0 2082.1,577.6 2095.8,577.6 2095.8,581.7 2102.7,581.7 2102.7,584.0 2109.6,584.0 2109.6,586.2 2144.0,586.2 2144.0,587.2 2145.7,587.2 2145.7,590.3 2250.6,590.3 2251.5,590.3 2251.5,592.5 2252.4,592.5 2252.4,594.8 2333.0,594.8 2333.0,596.5" fill="none" stroke="#00468B" stroke-width="3.2" stroke-linejoin="miter"/>
<path d="M1466.0 183.2v10M1467.0 186.6v10M1469.0 193.3v10M1471.0 200.0v10M1473.0 206.1v10M1475.0 210.1v10M1478.0 216.1v10M1483.0 228.2v10M1490.0 255.3v10M1494.0 277.4v10M1497.0 285.4v10M1502.0 297.8v10M1505.0 303.8v10M1509.0 311.7v10M1512.0 317.1v10M1516.0 324.1v10M1519.0 329.9v10M1521.0 335.2v10M1525.0 345.9v10M1528.0 352.9v10M1533.0 364.1v10M1545.0 405.9v10M1561.0 454.1v10M1568.0 487.8v10M1574.0 501.4v10M1630.0 560.2v10M1638.0 563.4v10M1645.0 570.3v10M1700.0 588.8v10" stroke="#ED0000" stroke-width="2" fill="none"/>
<path d="M1466.0 182.1v10M1467.5 186.6v10M1469.0 191.1v10M1472.0 199.0v10M1475.0 201.1v10M1480.0 204.6v10M1484.0 207.5v10M1490.0 214.9v10M1495.0 223.9v10M1500.0 232.2v10M1504.0 237.5v10M1508.0 242.9v10M1513.0 250.8v10M1517.0 260.1v10M1522.0 266.4v10M1526.0 269.7v10M1530.0 273.0v10M1534.0 277.4v10M1540.0 285.4v10M1548.0 296.1v10M1556.0 306.8v10M1564.0 322.8v10M1568.0 333.0v10M1574.0 348.7v10M1602.0 405.3v10M1614.0 421.0v10M1619.0 422.3v10M1644.0 462.1v10M1660.0 474.4v10M1676.0 481.2v10M1690.0 485.5v10M1705.0 491.6v10M1720.0 497.6v10M1734.0 503.0v10M1748.0 507.2v10M1762.0 513.8v10M1779.0 518.5v10M1795.0 531.2v10M1808.0 534.2v10M1821.0 536.9v10M1858.0 541.6v10M1941.0 554.4v10M2072.0 569.5v10M2087.0 574.1v10" stroke="#00468B" stroke-width="2" fill="none"/>
<text x="1884.0" y="732.0" font-size="31.6" font-weight="bold" text-anchor="middle">Number at risk</text>
<line x1="1423.5" y1="750.3" x2="1423.5" y2="869.6" stroke="#333333" stroke-width="2.2" />
<line x1="1422.4" y1="868.6" x2="2343.5" y2="868.6" stroke="#333333" stroke-width="2.2" />
<line x1="1418.6" y1="782.6" x2="1423.5" y2="782.6" stroke="#333333" stroke-width="2" />
<line x1="1418.6" y1="836.7" x2="1423.5" y2="836.7" stroke="#333333" stroke-width="2" />
<text x="1413.0" y="789.8" font-size="28" text-anchor="end" fill="#E8202A">High risk</text>
<text x="1413.0" y="843.5" font-size="28" text-anchor="end" fill="#1B5790">Low risk</text>
<text transform="translate(1291.0,809.5) rotate(-90)" font-size="29.3" text-anchor="middle" >Risk</text>
<text x="1465.1" y="792.3" font-size="29.3" text-anchor="middle" fill="#E8202A">262</text>
<text x="1465.1" y="847.0" font-size="29.3" text-anchor="middle" fill="#1B5790">262</text>
<line x1="1465.1" y1="868.6" x2="1465.1" y2="873.6" stroke="#333333" stroke-width="2" />
<text x="1465.1" y="898.5" font-size="26.5" text-anchor="middle" fill="#4D4D4D">0</text>
<text x="1532.0" y="792.3" font-size="29.3" text-anchor="middle" fill="#E8202A">133</text>
<text x="1532.0" y="847.0" font-size="29.3" text-anchor="middle" fill="#1B5790">179</text>
<line x1="1532.0" y1="868.6" x2="1532.0" y2="873.6" stroke="#333333" stroke-width="2" />
<text x="1532.0" y="898.5" font-size="26.5" text-anchor="middle" fill="#4D4D4D">10</text>
<text x="1598.9" y="792.3" font-size="29.3" text-anchor="middle" fill="#E8202A">35</text>
<text x="1598.9" y="847.0" font-size="29.3" text-anchor="middle" fill="#1B5790">104</text>
<line x1="1598.9" y1="868.6" x2="1598.9" y2="873.6" stroke="#333333" stroke-width="2" />
<text x="1598.9" y="898.5" font-size="26.5" text-anchor="middle" fill="#4D4D4D">20</text>
<text x="1665.8" y="792.3" font-size="29.3" text-anchor="middle" fill="#E8202A">5</text>
<text x="1665.8" y="847.0" font-size="29.3" text-anchor="middle" fill="#1B5790">58</text>
<line x1="1665.8" y1="868.6" x2="1665.8" y2="873.6" stroke="#333333" stroke-width="2" />
<text x="1665.8" y="898.5" font-size="26.5" text-anchor="middle" fill="#4D4D4D">30</text>
<text x="1732.7" y="792.3" font-size="29.3" text-anchor="middle" fill="#E8202A">1</text>
<text x="1732.7" y="847.0" font-size="29.3" text-anchor="middle" fill="#1B5790">42</text>
<line x1="1732.7" y1="868.6" x2="1732.7" y2="873.6" stroke="#333333" stroke-width="2" />
<text x="1732.7" y="898.5" font-size="26.5" text-anchor="middle" fill="#4D4D4D">40</text>
<text x="1799.6" y="792.3" font-size="29.3" text-anchor="middle" fill="#E8202A">1</text>
<text x="1799.6" y="847.0" font-size="29.3" text-anchor="middle" fill="#1B5790">26</text>
<line x1="1799.6" y1="868.6" x2="1799.6" y2="873.6" stroke="#333333" stroke-width="2" />
<text x="1799.6" y="898.5" font-size="26.5" text-anchor="middle" fill="#4D4D4D">50</text>
<text x="1866.5" y="792.3" font-size="29.3" text-anchor="middle" fill="#E8202A">0</text>
<text x="1866.5" y="847.0" font-size="29.3" text-anchor="middle" fill="#1B5790">19</text>
<line x1="1866.5" y1="868.6" x2="1866.5" y2="873.6" stroke="#333333" stroke-width="2" />
<text x="1866.5" y="898.5" font-size="26.5" text-anchor="middle" fill="#4D4D4D">60</text>
<text x="1933.4" y="792.3" font-size="29.3" text-anchor="middle" fill="#E8202A">0</text>
<text x="1933.4" y="847.0" font-size="29.3" text-anchor="middle" fill="#1B5790">16</text>
<line x1="1933.4" y1="868.6" x2="1933.4" y2="873.6" stroke="#333333" stroke-width="2" />
<text x="1933.4" y="898.5" font-size="26.5" text-anchor="middle" fill="#4D4D4D">70</text>
<text x="2000.3" y="792.3" font-size="29.3" text-anchor="middle" fill="#E8202A">0</text>
<text x="2000.3" y="847.0" font-size="29.3" text-anchor="middle" fill="#1B5790">12</text>
<line x1="2000.3" y1="868.6" x2="2000.3" y2="873.6" stroke="#333333" stroke-width="2" />
<text x="2000.3" y="898.5" font-size="26.5" text-anchor="middle" fill="#4D4D4D">80</text>
<text x="2067.2" y="792.3" font-size="29.3" text-anchor="middle" fill="#E8202A">0</text>
<text x="2067.2" y="847.0" font-size="29.3" text-anchor="middle" fill="#1B5790">9</text>
<line x1="2067.2" y1="868.6" x2="2067.2" y2="873.6" stroke="#333333" stroke-width="2" />
<text x="2067.2" y="898.5" font-size="26.5" text-anchor="middle" fill="#4D4D4D">90</text>
<text x="2134.1" y="792.3" font-size="29.3" text-anchor="middle" fill="#E8202A">0</text>
<text x="2134.1" y="847.0" font-size="29.3" text-anchor="middle" fill="#1B5790">3</text>
<line x1="2134.1" y1="868.6" x2="2134.1" y2="873.6" stroke="#333333" stroke-width="2" />
<text x="2134.1" y="898.5" font-size="26.5" text-anchor="middle" fill="#4D4D4D">100</text>
<text x="2201.0" y="792.3" font-size="29.3" text-anchor="middle" fill="#E8202A">0</text>
<text x="2201.0" y="847.0" font-size="29.3" text-anchor="middle" fill="#1B5790">2</text>
<line x1="2201.0" y1="868.6" x2="2201.0" y2="873.6" stroke="#333333" stroke-width="2" />
<text x="2201.0" y="898.5" font-size="26.5" text-anchor="middle" fill="#4D4D4D">110</text>
<text x="2267.9" y="792.3" font-size="29.3" text-anchor="middle" fill="#E8202A">0</text>
<text x="2267.9" y="847.0" font-size="29.3" text-anchor="middle" fill="#1B5790">1</text>
<line x1="2267.9" y1="868.6" x2="2267.9" y2="873.6" stroke="#333333" stroke-width="2" />
<text x="2267.9" y="898.5" font-size="26.5" text-anchor="middle" fill="#4D4D4D">120</text>
<text x="1879.5" y="930.0" font-size="27" text-anchor="middle">Overall survival time (months)</text>
<text x="60.0" y="1116.5" font-size="75" font-weight="bold">C</text>
<text x="304.4" y="1145.4" font-size="38.3" font-weight="bold">Training set (TCGA)</text>
<rect x="145.6" y="1167.0" width="338.6" height="29.6" fill="#FBA9A4" />
<rect x="484.2" y="1167.0" width="338.6" height="29.6" fill="#00E3E8" />
<g filter="url(#hblur)"><g transform="translate(145.60,1202.80) scale(1.29237,25.330)" fill="none" stroke-width="1">
<path d="M0 0.5h1M173 0.5h1M365 0.5h1M17 2.5h1M30 2.5h1M33 2.5h1M242 2.5h1M357 2.5h1M365 2.5h1M399 2.5h1M519 2.5h1M67 3.5h1M69 3.5h1M108 3.5h1M197 3.5h1M214 3.5h1M329 3.5h1M333 3.5h1M354 3.5h1M418 3.5h1M452 3.5h1M468 3.5h1M493 3.5h1M0 4.5h1M2 4.5h1M14 4.5h1M17 4.5h2M20 4.5h1M47 4.5h1M53 4.5h1M65 4.5h1M67 4.5h2M94 4.5h1M103 4.5h1M114 4.5h1M125 4.5h2M130 4.5h1M149 4.5h1M151 4.5h1M161 4.5h1M171 4.5h1M175 4.5h1M181 4.5h1M185 4.5h1M187 4.5h1M202 4.5h1M205 4.5h1M259 4.5h1M280 4.5h1M283 4.5h1M304 4.5h1M355 4.5h1M396 4.5h1M433 4.5h1" stroke="#00b418"/>
<path d="M1 0.5h2M15 0.5h3M29 0.5h1M37 0.5h2M41 0.5h1M55 0.5h1M58 0.5h2M63 0.5h1M67 0.5h1M74 0.5h2M81 0.5h1M84 0.5h1M86 0.5h1M90 0.5h1M94 0.5h1M99 0.5h1M107 0.5h1M110 0.5h1M118 0.5h1M130 0.5h1M136 0.5h1M139 0.5h1M145 0.5h1M149 0.5h1M153 0.5h1M161 0.5h1M166 0.5h1M179 0.5h1M194 0.5h1M196 0.5h1M217 0.5h1M220 0.5h1M227 0.5h2M231 0.5h2M237 0.5h1M241 0.5h1M251 0.5h5M264 0.5h1M268 0.5h1M272 0.5h3M279 0.5h1M283 0.5h1M292 0.5h2M299 0.5h1M302 0.5h2M311 0.5h2M316 0.5h2M323 0.5h1M337 0.5h1M342 0.5h1M345 0.5h2M351 0.5h1M361 0.5h4M366 0.5h1M378 0.5h1M385 0.5h1M389 0.5h1M395 0.5h2M406 0.5h1M414 0.5h1M418 0.5h1M423 0.5h1M434 0.5h1M439 0.5h1M443 0.5h1M448 0.5h1M451 0.5h1M462 0.5h1M464 0.5h1M467 0.5h1M471 0.5h2M475 0.5h1M486 0.5h1M490 0.5h1M494 0.5h1M498 0.5h1M501 0.5h1M503 0.5h1M505 0.5h1M509 0.5h1M512 0.5h1M515 0.5h2M521 0.5h1M201 1.5h1M229 1.5h1M246 1.5h1M254 1.5h1M262 1.5h1M265 1.5h1M271 1.5h1M277 1.5h1M289 1.5h2M297 1.5h2M304 1.5h1M322 1.5h1M327 1.5h1M345 1.5h2M348 1.5h1M352 1.5h1M355 1.5h4M364 1.5h1M370 1.5h1M373 1.5h1M378 1.5h2M383 1.5h4M388 1.5h1M400 1.5h2M408 1.5h3M413 1.5h3M417 1.5h1M419 1.5h1M425 1.5h3M429 1.5h1M432 1.5h1M437 1.5h2M441 1.5h1M446 1.5h3M450 1.5h2M455 1.5h1M457 1.5h1M462 1.5h2M465 1.5h3M469 1.5h1M476 1.5h1M478 1.5h3M483 1.5h1M486 1.5h1M488 1.5h1M505 1.5h1M516 1.5h1M521 1.5h1M523 1.5h1M64 3.5h1M250 3.5h1M284 3.5h1M426 3.5h1M12 5.5h1M43 5.5h2M63 5.5h1M72 5.5h1M97 5.5h2M148 5.5h2M162 5.5h1M167 5.5h1M209 5.5h1M211 5.5h1M213 5.5h1M217 5.5h1M231 5.5h1M243 5.5h1M246 5.5h2M250 5.5h2M257 5.5h1M278 5.5h2M291 5.5h1M293 5.5h1M309 5.5h2M312 5.5h2M319 5.5h1M326 5.5h1M332 5.5h1M334 5.5h1M336 5.5h1M344 5.5h1M347 5.5h1M369 5.5h1M389 5.5h1M394 5.5h1M406 5.5h1M410 5.5h1M416 5.5h1M421 5.5h1M424 5.5h1M440 5.5h1M442 5.5h5M458 5.5h1M461 5.5h1M464 5.5h2M467 5.5h3M471 5.5h1M475 5.5h1M487 5.5h1M502 5.5h1M513 5.5h1M517 5.5h1M521 5.5h1M60 6.5h1M71 6.5h1M114 6.5h1M163 6.5h1M176 6.5h1M206 6.5h1M224 6.5h1M227 6.5h1M231 6.5h1M246 6.5h1M262 6.5h1M267 6.5h1M297 6.5h1M314 6.5h1M316 6.5h1M319 6.5h1M352 6.5h1M360 6.5h1M362 6.5h1M388 6.5h1M400 6.5h2M409 6.5h2M412 6.5h1M422 6.5h1M435 6.5h1M441 6.5h1M467 6.5h2M474 6.5h1M483 6.5h1M493 6.5h1M502 6.5h1M506 6.5h1M509 6.5h1M518 6.5h1M520 6.5h1M523 6.5h1M4 7.5h1M6 7.5h1M8 7.5h1M20 7.5h1M23 7.5h2M31 7.5h2M34 7.5h1M37 7.5h2M51 7.5h2M58 7.5h2M61 7.5h3M70 7.5h1M73 7.5h1M88 7.5h1M92 7.5h2M95 7.5h3M103 7.5h2M107 7.5h4M115 7.5h1M119 7.5h1M121 7.5h2M125 7.5h1M133 7.5h1M135 7.5h1M144 7.5h1M148 7.5h1M152 7.5h1M154 7.5h3M159 7.5h1M167 7.5h1M169 7.5h1M171 7.5h1M177 7.5h1M179 7.5h1M181 7.5h1M183 7.5h2M186 7.5h1M188 7.5h1M191 7.5h2M196 7.5h1M198 7.5h1M200 7.5h3M204 7.5h1M221 7.5h1M225 7.5h1M227 7.5h1M229 7.5h3M234 7.5h2M244 7.5h1M253 7.5h1M261 7.5h1M265 7.5h4M271 7.5h1M285 7.5h1M287 7.5h2M291 7.5h1M295 7.5h1M299 7.5h2M306 7.5h1M309 7.5h2M317 7.5h1M323 7.5h2M326 7.5h1M329 7.5h1M332 7.5h1M335 7.5h1M338 7.5h1M343 7.5h1M350 7.5h1M352 7.5h1M354 7.5h1M356 7.5h1M362 7.5h1M370 7.5h2M373 7.5h2M377 7.5h1M380 7.5h1M385 7.5h1M388 7.5h1M392 7.5h1M399 7.5h1M402 7.5h2M405 7.5h1M407 7.5h1M411 7.5h1M418 7.5h1M422 7.5h2M429 7.5h1M440 7.5h1M446 7.5h3M451 7.5h1M458 7.5h2M467 7.5h1M477 7.5h1M480 7.5h1M500 7.5h1M506 7.5h2M515 7.5h1M3 9.5h1M11 9.5h1M13 9.5h1M15 9.5h1M20 9.5h1M22 9.5h1M25 9.5h2M29 9.5h1M34 9.5h1M46 9.5h2M53 9.5h1M61 9.5h1M65 9.5h1M67 9.5h1M72 9.5h2M80 9.5h1M84 9.5h1M86 9.5h2M89 9.5h2M93 9.5h1M111 9.5h1M114 9.5h3M120 9.5h1M124 9.5h2M129 9.5h2M138 9.5h1M140 9.5h1M143 9.5h1M148 9.5h1M150 9.5h1M152 9.5h1M154 9.5h1M161 9.5h1M168 9.5h2M171 9.5h2M189 9.5h1M191 9.5h1M193 9.5h1M195 9.5h1M198 9.5h1M201 9.5h1M205 9.5h1M213 9.5h1M215 9.5h1M225 9.5h1M230 9.5h1M242 9.5h1M244 9.5h1M257 9.5h1M262 9.5h1M273 9.5h1M278 9.5h1M285 9.5h1M293 9.5h1M304 9.5h1M313 9.5h1M318 9.5h1M337 9.5h1M339 9.5h1M343 9.5h2M364 9.5h1M369 9.5h1M383 9.5h1M439 9.5h1M444 9.5h1M502 9.5h1M11 10.5h1M26 10.5h1M103 10.5h1M176 10.5h1M189 10.5h1M195 10.5h1M346 10.5h1M351 10.5h1M414 10.5h1M436 10.5h1M471 10.5h1M499 10.5h1" stroke="#00c024"/>
<path d="M3 0.5h3M9 0.5h1M12 0.5h2M19 0.5h2M24 0.5h2M32 0.5h1M36 0.5h1M39 0.5h2M45 0.5h2M49 0.5h1M53 0.5h2M57 0.5h1M61 0.5h1M64 0.5h2M68 0.5h2M71 0.5h1M76 0.5h5M83 0.5h1M96 0.5h2M101 0.5h1M103 0.5h1M113 0.5h1M115 0.5h2M119 0.5h2M124 0.5h2M127 0.5h1M135 0.5h1M138 0.5h1M147 0.5h1M152 0.5h1M154 0.5h3M160 0.5h1M162 0.5h1M167 0.5h1M169 0.5h1M183 0.5h1M186 0.5h1M190 0.5h1M192 0.5h2M195 0.5h1M201 0.5h2M204 0.5h1M207 0.5h2M212 0.5h2M216 0.5h1M221 0.5h1M224 0.5h3M235 0.5h1M239 0.5h1M244 0.5h1M257 0.5h3M263 0.5h1M266 0.5h2M269 0.5h1M275 0.5h1M278 0.5h1M284 0.5h1M297 0.5h1M300 0.5h1M305 0.5h1M307 0.5h1M313 0.5h3M318 0.5h1M321 0.5h1M327 0.5h1M329 0.5h1M338 0.5h1M341 0.5h1M347 0.5h3M357 0.5h2M360 0.5h1M370 0.5h1M374 0.5h1M376 0.5h2M381 0.5h1M384 0.5h1M386 0.5h1M393 0.5h1M397 0.5h3M405 0.5h1M407 0.5h1M419 0.5h2M422 0.5h1M426 0.5h3M431 0.5h2M442 0.5h1M444 0.5h2M453 0.5h1M460 0.5h2M463 0.5h1M466 0.5h1M468 0.5h1M470 0.5h1M473 0.5h1M476 0.5h1M478 0.5h2M481 0.5h1M491 0.5h1M500 0.5h1M510 0.5h1M519 0.5h2M523 0.5h1M210 1.5h1M302 1.5h1M325 1.5h1M335 1.5h1M363 1.5h1M377 1.5h1M393 1.5h1M404 1.5h1M430 1.5h2M436 1.5h1M439 1.5h1M443 1.5h1M445 1.5h1M449 1.5h1M461 1.5h1M464 1.5h1M471 1.5h2M475 1.5h1M481 1.5h1M495 1.5h3M513 1.5h3M13 2.5h1M60 2.5h1M84 2.5h1M91 2.5h1M102 2.5h1M185 2.5h1M203 2.5h1M279 2.5h1M304 2.5h1M325 2.5h1M334 2.5h1M350 2.5h1M352 2.5h1M358 2.5h1M360 2.5h1M372 2.5h1M388 2.5h1M395 2.5h1M397 2.5h1M401 2.5h1M439 2.5h1M456 2.5h1M463 2.5h1M485 2.5h1M497 2.5h1M1 4.5h1M8 4.5h1M11 4.5h2M15 4.5h2M19 4.5h1M21 4.5h3M27 4.5h1M30 4.5h1M40 4.5h2M45 4.5h1M49 4.5h1M56 4.5h1M58 4.5h1M61 4.5h1M63 4.5h1M73 4.5h1M80 4.5h1M83 4.5h1M88 4.5h4M99 4.5h1M107 4.5h1M135 4.5h1M142 4.5h1M156 4.5h2M163 4.5h1M165 4.5h1M167 4.5h1M174 4.5h1M183 4.5h1M189 4.5h2M192 4.5h2M213 4.5h1M215 4.5h1M243 4.5h1M250 4.5h1M256 4.5h2M262 4.5h1M271 4.5h1M281 4.5h1M291 4.5h1M322 4.5h1M248 5.5h1M349 5.5h1M385 5.5h1M393 5.5h1M418 5.5h1M447 5.5h2M473 5.5h2M477 5.5h1M480 5.5h1M483 5.5h1M492 5.5h1M509 5.5h1M520 5.5h1M371 6.5h1M404 6.5h1M449 6.5h1M481 6.5h1M513 6.5h1M1 7.5h1M14 7.5h1M17 7.5h1M19 7.5h1M22 7.5h1M27 7.5h1M29 7.5h1M35 7.5h1M42 7.5h1M44 7.5h1M46 7.5h1M54 7.5h1M56 7.5h1M65 7.5h2M68 7.5h1M72 7.5h1M74 7.5h1M77 7.5h1M84 7.5h2M89 7.5h1M91 7.5h1M94 7.5h1M105 7.5h1M111 7.5h1M113 7.5h1M116 7.5h1M120 7.5h1M126 7.5h2M129 7.5h2M132 7.5h1M136 7.5h2M145 7.5h1M147 7.5h1M157 7.5h1M162 7.5h1M170 7.5h1M172 7.5h1M180 7.5h1M187 7.5h1M203 7.5h1M206 7.5h1M209 7.5h1M212 7.5h1M214 7.5h1M218 7.5h2M224 7.5h1M226 7.5h1M236 7.5h1M239 7.5h1M242 7.5h1M249 7.5h1M255 7.5h1M262 7.5h1M270 7.5h1M274 7.5h1M283 7.5h1M290 7.5h1M298 7.5h1M308 7.5h1M314 7.5h1M328 7.5h1M333 7.5h1M347 7.5h1M365 7.5h1M391 7.5h1M394 7.5h1M432 7.5h1M449 7.5h1M466 7.5h1M483 7.5h1M510 7.5h1M522 7.5h1M4 9.5h2M14 9.5h1M16 9.5h2M23 9.5h1M31 9.5h1M35 9.5h1M37 9.5h2M41 9.5h1M48 9.5h2M51 9.5h1M58 9.5h2M63 9.5h2M70 9.5h1M74 9.5h1M81 9.5h1M91 9.5h1M103 9.5h1M123 9.5h1M147 9.5h1M177 9.5h1M183 9.5h1M190 9.5h1M209 9.5h1M240 9.5h1M249 9.5h1M253 9.5h1M270 9.5h1M274 9.5h1M322 9.5h1M20 10.5h1M211 10.5h1M272 10.5h1M282 10.5h1M355 10.5h1M395 10.5h1M406 10.5h1M472 10.5h1" stroke="#00cc24"/>
<path d="M6 0.5h1M21 0.5h1M44 0.5h1M47 0.5h1M60 0.5h1M189 0.5h1M229 0.5h1M282 0.5h1M306 0.5h1M309 0.5h1M354 0.5h1M394 0.5h1M408 0.5h1M411 0.5h1M430 0.5h1M447 0.5h1M483 0.5h2M495 0.5h1M511 0.5h1M75 7.5h1M78 7.5h1M81 7.5h1M114 7.5h1M131 7.5h1M138 7.5h1M166 7.5h1M174 7.5h1M228 7.5h1M240 7.5h1M260 7.5h1M293 7.5h1M303 7.5h1M313 7.5h1M325 7.5h1M336 7.5h1M367 7.5h1M408 7.5h1M417 7.5h1M471 7.5h2M491 7.5h1M309 8.5h1M1 9.5h1M18 9.5h1M33 9.5h1M39 9.5h1M44 9.5h1M56 9.5h1M66 9.5h1M101 9.5h1M119 9.5h1M131 9.5h2M165 9.5h2M196 9.5h1M199 9.5h2M218 9.5h1M222 9.5h1M238 9.5h1M250 9.5h1M255 9.5h1M264 9.5h1M266 9.5h1M287 9.5h1M291 9.5h1M299 9.5h1M323 9.5h1M333 9.5h1M381 9.5h1M385 9.5h1M389 9.5h2M407 9.5h1M457 9.5h1M491 9.5h1M496 9.5h1M499 9.5h3M508 9.5h1M5 10.5h1M36 10.5h1M38 10.5h1M62 10.5h1M64 10.5h2M68 10.5h2M76 10.5h1M0 12.5h1M3 12.5h1M7 12.5h1M27 12.5h1M29 12.5h1M32 12.5h1M36 12.5h2M42 12.5h1M53 12.5h3M58 12.5h1M27 13.5h1M42 13.5h1" stroke="#007824"/>
<path d="M7 0.5h1M28 0.5h1M30 0.5h1M82 0.5h1M92 0.5h1M134 0.5h1M157 0.5h1M265 0.5h1M380 0.5h1M1 1.5h2M16 1.5h1M23 1.5h2M30 1.5h1M32 1.5h1M35 1.5h1M38 1.5h1M40 1.5h1M45 1.5h1M51 1.5h1M56 1.5h1M61 1.5h1M67 1.5h2M73 1.5h2M88 1.5h1M100 1.5h1M110 1.5h1M138 1.5h1M154 1.5h1M227 1.5h1M311 1.5h1M337 1.5h1M392 1.5h1M396 1.5h2M416 1.5h1M459 1.5h1M498 1.5h1M69 7.5h1M248 7.5h1M4 8.5h1M9 8.5h2M21 8.5h1M35 8.5h1M44 8.5h1M55 8.5h1M69 8.5h1M74 8.5h2M97 8.5h1M101 8.5h1M115 8.5h1M128 8.5h1M132 8.5h1M134 8.5h1M152 8.5h1M155 8.5h2M162 8.5h1M164 8.5h1M177 8.5h1M185 8.5h1M191 8.5h1M194 8.5h2M204 8.5h2M231 8.5h1M257 8.5h1M261 8.5h1M265 8.5h1M268 8.5h1M276 8.5h1M289 8.5h3M294 8.5h1M299 8.5h1M313 8.5h1M315 8.5h1M324 8.5h1M330 8.5h1M334 8.5h1M338 8.5h1M340 8.5h1M355 8.5h1M367 8.5h1M394 8.5h1M397 8.5h1M399 8.5h1M438 8.5h1M449 8.5h1M461 8.5h1M471 8.5h1M474 8.5h1M482 8.5h1M486 8.5h1M489 8.5h1M491 8.5h1M494 8.5h1M497 8.5h1M501 8.5h1M522 8.5h1M92 9.5h1M265 9.5h1" stroke="#006018"/>
<path d="M8 0.5h1M10 0.5h1M18 0.5h1M43 0.5h1M105 0.5h1M122 0.5h1M126 0.5h1M128 0.5h1M137 0.5h1M140 0.5h2M158 0.5h1M171 0.5h2M188 0.5h1M191 0.5h1M203 0.5h1M223 0.5h1M240 0.5h1M243 0.5h1M250 0.5h1M256 0.5h1M285 0.5h1M296 0.5h1M298 0.5h1M301 0.5h1M319 0.5h1M331 0.5h1M368 0.5h1M373 0.5h1M390 0.5h1M415 0.5h2M429 0.5h1M437 0.5h1M487 0.5h1M496 0.5h2M508 0.5h1M518 0.5h1M454 1.5h1M458 1.5h1M501 1.5h1M509 1.5h1M519 1.5h1M156 2.5h1M197 2.5h1M4 3.5h1M7 3.5h1M10 3.5h1M13 3.5h1M24 3.5h1M27 3.5h1M29 3.5h1M31 3.5h1M37 3.5h1M42 3.5h2M59 3.5h1M68 3.5h1M71 3.5h1M82 3.5h1M87 3.5h1M92 3.5h1M102 3.5h2M110 3.5h1M135 3.5h1M138 3.5h1M155 3.5h1M178 3.5h1M181 3.5h1M189 3.5h1M195 3.5h1M203 3.5h1M206 3.5h1M215 3.5h1M217 3.5h1M226 3.5h1M235 3.5h1M263 3.5h2M273 3.5h1M276 3.5h1M281 3.5h2M286 3.5h1M290 3.5h1M294 3.5h1M298 3.5h1M308 3.5h1M319 3.5h1M330 3.5h1M337 3.5h1M344 3.5h1M351 3.5h1M355 3.5h1M364 3.5h1M366 3.5h1M374 3.5h1M376 3.5h1M379 3.5h2M383 3.5h1M389 3.5h1M396 3.5h2M402 3.5h1M405 3.5h1M419 3.5h1M422 3.5h1M434 3.5h1M441 3.5h1M444 3.5h1M451 3.5h1M486 3.5h1M492 3.5h1M496 3.5h1M499 3.5h1M503 3.5h1M510 3.5h1M4 4.5h1M29 4.5h1M109 4.5h1M176 4.5h1M224 4.5h1M230 4.5h1M245 4.5h2M266 4.5h1M277 4.5h1M284 4.5h1M300 4.5h1M306 4.5h1M309 4.5h1M312 4.5h1M317 4.5h2M335 4.5h2M350 4.5h1M357 4.5h1M359 4.5h1M365 4.5h1M372 4.5h1M384 4.5h1M400 4.5h1M412 4.5h1M418 4.5h1M434 4.5h1M447 4.5h1M451 4.5h2M457 4.5h1M463 4.5h1M467 4.5h1M470 4.5h1M476 4.5h1M483 4.5h1M485 4.5h1M488 4.5h1M491 4.5h1M496 4.5h1M504 4.5h1M506 4.5h1M512 4.5h1M516 4.5h2M522 4.5h1M45 7.5h1M80 7.5h1M100 7.5h1M106 7.5h1M160 7.5h1M165 7.5h1M216 7.5h1M0 9.5h1M2 9.5h1M388 10.5h1M402 10.5h1M462 10.5h1" stroke="#00e424"/>
<path d="M11 0.5h1M33 0.5h1M121 0.5h1M165 0.5h1M219 0.5h1M277 0.5h1M324 0.5h1M382 0.5h1M441 0.5h1M517 0.5h1M18 1.5h1M25 1.5h1M39 1.5h1M53 1.5h1M83 1.5h1M86 1.5h1M89 1.5h1M123 1.5h1M131 1.5h1M141 1.5h1M169 1.5h1M191 1.5h1M196 1.5h1M228 1.5h1M236 1.5h1M280 1.5h1M287 1.5h1M306 1.5h1M390 1.5h1M435 1.5h1M16 8.5h1M19 8.5h1M54 8.5h1M62 8.5h1M65 8.5h1M137 8.5h1M169 8.5h1M203 8.5h1M210 8.5h1M219 8.5h1M238 8.5h1M260 8.5h1M271 8.5h2M304 8.5h1M328 8.5h1M372 8.5h1M395 8.5h1M402 8.5h1M431 8.5h1M434 8.5h1M468 8.5h1M481 8.5h1M484 8.5h1M493 8.5h1M509 8.5h1M80 10.5h1M31 12.5h1M33 12.5h1M32 13.5h1" stroke="#006c24"/>
<path d="M14 0.5h1M23 0.5h1M27 0.5h1M34 0.5h2M51 0.5h2M56 0.5h1M62 0.5h1M66 0.5h1M70 0.5h1M72 0.5h2M88 0.5h1M91 0.5h1M95 0.5h1M102 0.5h1M104 0.5h1M106 0.5h1M109 0.5h1M111 0.5h1M114 0.5h1M117 0.5h1M123 0.5h1M129 0.5h1M132 0.5h2M143 0.5h1M148 0.5h1M159 0.5h1M174 0.5h2M177 0.5h2M180 0.5h3M185 0.5h1M187 0.5h1M197 0.5h3M205 0.5h1M211 0.5h1M218 0.5h1M222 0.5h1M230 0.5h1M233 0.5h1M236 0.5h1M246 0.5h2M249 0.5h1M260 0.5h2M271 0.5h1M276 0.5h1M281 0.5h1M287 0.5h5M295 0.5h1M308 0.5h1M320 0.5h1M322 0.5h1M328 0.5h1M332 0.5h4M339 0.5h2M343 0.5h1M352 0.5h2M355 0.5h1M359 0.5h1M372 0.5h1M375 0.5h1M383 0.5h1M387 0.5h1M392 0.5h1M400 0.5h1M402 0.5h2M413 0.5h1M417 0.5h1M421 0.5h1M425 0.5h1M433 0.5h1M435 0.5h2M440 0.5h1M446 0.5h1M449 0.5h2M452 0.5h1M454 0.5h1M457 0.5h1M459 0.5h1M469 0.5h1M474 0.5h1M480 0.5h1M482 0.5h1M492 0.5h2M499 0.5h1M502 0.5h1M504 0.5h1M506 0.5h1M513 0.5h1M522 0.5h1M399 1.5h1M405 1.5h1M423 1.5h1M433 1.5h1M456 1.5h1M468 1.5h1M485 1.5h1M487 1.5h1M500 1.5h1M502 1.5h2M510 1.5h1M512 1.5h1M517 1.5h2M522 1.5h1M0 2.5h1M9 2.5h1M85 2.5h1M161 2.5h1M180 2.5h1M271 2.5h1M276 2.5h1M339 2.5h1M341 2.5h1M407 2.5h1M409 2.5h1M461 2.5h1M476 2.5h1M500 2.5h1M520 2.5h1M18 3.5h1M21 3.5h1M46 3.5h1M51 3.5h1M73 3.5h1M77 3.5h1M80 3.5h2M83 3.5h2M93 3.5h1M97 3.5h1M111 3.5h2M117 3.5h1M123 3.5h1M136 3.5h1M142 3.5h1M153 3.5h1M158 3.5h1M166 3.5h1M171 3.5h1M176 3.5h1M182 3.5h2M191 3.5h1M194 3.5h1M211 3.5h1M221 3.5h2M236 3.5h1M248 3.5h1M266 3.5h2M271 3.5h1M275 3.5h1M278 3.5h2M287 3.5h1M289 3.5h1M291 3.5h1M295 3.5h2M299 3.5h1M303 3.5h1M310 3.5h1M324 3.5h1M327 3.5h1M342 3.5h1M356 3.5h4M370 3.5h2M392 3.5h1M394 3.5h1M399 3.5h1M409 3.5h3M424 3.5h1M429 3.5h2M436 3.5h1M439 3.5h1M443 3.5h1M448 3.5h1M458 3.5h1M461 3.5h1M469 3.5h3M474 3.5h1M477 3.5h1M483 3.5h1M488 3.5h2M505 3.5h1M512 3.5h2M515 3.5h1M518 3.5h1M520 3.5h1M522 3.5h2M3 4.5h1M9 4.5h1M24 4.5h2M33 4.5h1M38 4.5h1M42 4.5h1M46 4.5h1M59 4.5h1M72 4.5h1M79 4.5h1M81 4.5h2M87 4.5h1M93 4.5h1M122 4.5h2M129 4.5h1M132 4.5h1M147 4.5h1M160 4.5h1M162 4.5h1M164 4.5h1M168 4.5h1M172 4.5h1M188 4.5h1M197 4.5h1M199 4.5h1M208 4.5h3M212 4.5h1M225 4.5h1M228 4.5h2M235 4.5h1M237 4.5h1M239 4.5h2M242 4.5h1M244 4.5h1M247 4.5h1M252 4.5h1M258 4.5h1M269 4.5h1M272 4.5h1M274 4.5h1M279 4.5h1M290 4.5h1M294 4.5h1M298 4.5h1M302 4.5h1M305 4.5h1M313 4.5h1M319 4.5h1M326 4.5h4M337 4.5h2M340 4.5h1M342 4.5h1M352 4.5h2M356 4.5h1M358 4.5h1M360 4.5h1M368 4.5h1M370 4.5h2M375 4.5h1M377 4.5h1M379 4.5h1M381 4.5h1M388 4.5h1M390 4.5h2M398 4.5h1M402 4.5h1M404 4.5h1M410 4.5h1M428 4.5h1M431 4.5h1M435 4.5h1M444 4.5h1M448 4.5h1M453 4.5h1M455 4.5h1M458 4.5h3M471 4.5h2M477 4.5h1M481 4.5h1M492 4.5h3M497 4.5h1M502 4.5h1M508 4.5h1M511 4.5h1M513 4.5h1M376 5.5h1M411 5.5h1M501 5.5h1M0 7.5h1M3 7.5h1M5 7.5h1M9 7.5h1M12 7.5h2M15 7.5h2M18 7.5h1M25 7.5h1M30 7.5h1M36 7.5h1M39 7.5h1M41 7.5h1M48 7.5h3M55 7.5h1M67 7.5h1M76 7.5h1M82 7.5h2M86 7.5h2M101 7.5h1M112 7.5h1M117 7.5h1M124 7.5h1M175 7.5h1M277 7.5h1M305 7.5h1M355 7.5h1M368 7.5h1M9 9.5h2M27 9.5h1M45 9.5h1M75 9.5h1M82 9.5h1M102 9.5h1M105 9.5h1M112 9.5h1M144 9.5h1M149 9.5h1M155 9.5h1M167 9.5h1M187 9.5h1M219 9.5h1M2 10.5h1M4 10.5h1M9 10.5h1M126 10.5h1M167 10.5h1M203 10.5h1M227 10.5h1M251 10.5h1M277 10.5h1M321 10.5h1M330 10.5h1M390 10.5h1M446 10.5h1M457 10.5h1M504 10.5h1" stroke="#00d824"/>
<path d="M22 0.5h1M42 0.5h1M85 0.5h1M87 0.5h1M89 0.5h1M100 0.5h1M108 0.5h1M112 0.5h1M131 0.5h1M142 0.5h1M144 0.5h1M146 0.5h1M151 0.5h1M163 0.5h1M168 0.5h1M170 0.5h1M184 0.5h1M200 0.5h1M210 0.5h1M215 0.5h1M242 0.5h1M245 0.5h1M294 0.5h1M326 0.5h1M344 0.5h1M367 0.5h1M369 0.5h1M371 0.5h1M379 0.5h1M388 0.5h1M391 0.5h1M401 0.5h1M404 0.5h1M409 0.5h1M438 0.5h1M455 0.5h1M488 0.5h1M31 1.5h1M115 1.5h1M127 1.5h1M137 1.5h1M152 1.5h1M159 1.5h1M162 1.5h1M177 1.5h1M181 1.5h1M190 1.5h1M195 1.5h1M205 1.5h1M213 1.5h2M218 1.5h1M222 1.5h1M224 1.5h1M230 1.5h1M232 1.5h2M237 1.5h1M239 1.5h2M243 1.5h1M248 1.5h1M251 1.5h1M253 1.5h1M255 1.5h1M258 1.5h1M261 1.5h1M263 1.5h1M269 1.5h2M272 1.5h1M274 1.5h2M278 1.5h1M281 1.5h1M293 1.5h1M295 1.5h2M299 1.5h1M303 1.5h1M305 1.5h1M307 1.5h1M312 1.5h1M315 1.5h3M319 1.5h2M328 1.5h2M332 1.5h1M334 1.5h1M336 1.5h1M338 1.5h1M341 1.5h2M344 1.5h1M349 1.5h3M359 1.5h2M362 1.5h1M367 1.5h2M371 1.5h2M380 1.5h3M387 1.5h1M389 1.5h1M395 1.5h1M398 1.5h1M411 1.5h1M420 1.5h3M424 1.5h1M440 1.5h1M453 1.5h1M470 1.5h1M474 1.5h1M477 1.5h1M482 1.5h1M484 1.5h1M489 1.5h1M491 1.5h4M499 1.5h1M504 1.5h1M507 1.5h2M511 1.5h1M520 1.5h1M15 3.5h1M23 3.5h1M26 3.5h1M36 3.5h1M48 3.5h1M61 3.5h1M198 3.5h1M219 3.5h1M229 3.5h1M234 3.5h1M251 3.5h1M254 3.5h1M270 3.5h1M274 3.5h1M306 3.5h1M320 3.5h1M325 3.5h1M423 3.5h1M460 3.5h1M511 3.5h1M14 5.5h1M16 5.5h2M25 5.5h1M36 5.5h1M46 5.5h1M53 5.5h1M64 5.5h1M69 5.5h1M76 5.5h1M83 5.5h1M88 5.5h1M111 5.5h3M115 5.5h1M125 5.5h1M127 5.5h1M133 5.5h1M136 5.5h1M141 5.5h1M153 5.5h1M155 5.5h1M163 5.5h2M168 5.5h1M177 5.5h3M201 5.5h1M206 5.5h1M215 5.5h1M218 5.5h1M222 5.5h1M224 5.5h2M230 5.5h1M233 5.5h1M240 5.5h1M244 5.5h1M249 5.5h1M252 5.5h3M261 5.5h2M272 5.5h1M275 5.5h1M282 5.5h1M285 5.5h1M288 5.5h2M296 5.5h2M299 5.5h3M304 5.5h1M320 5.5h3M324 5.5h1M328 5.5h3M337 5.5h1M345 5.5h1M351 5.5h1M354 5.5h1M356 5.5h4M361 5.5h1M364 5.5h1M371 5.5h1M373 5.5h1M375 5.5h1M377 5.5h2M380 5.5h2M384 5.5h1M388 5.5h1M391 5.5h1M396 5.5h1M398 5.5h1M405 5.5h1M407 5.5h1M409 5.5h1M413 5.5h2M420 5.5h1M423 5.5h1M430 5.5h1M432 5.5h1M434 5.5h1M437 5.5h1M439 5.5h1M450 5.5h1M452 5.5h1M456 5.5h1M459 5.5h1M470 5.5h1M472 5.5h1M486 5.5h1M488 5.5h2M493 5.5h1M499 5.5h2M505 5.5h1M514 5.5h2M5 6.5h1M35 6.5h1M38 6.5h1M84 6.5h1M105 6.5h1M113 6.5h1M130 6.5h1M142 6.5h3M150 6.5h1M154 6.5h1M161 6.5h1M164 6.5h1M172 6.5h1M177 6.5h1M182 6.5h1M186 6.5h1M196 6.5h1M203 6.5h2M207 6.5h1M218 6.5h1M230 6.5h1M234 6.5h2M237 6.5h1M244 6.5h1M249 6.5h1M264 6.5h1M272 6.5h3M276 6.5h1M279 6.5h1M281 6.5h1M286 6.5h2M292 6.5h1M295 6.5h1M298 6.5h1M300 6.5h1M304 6.5h1M310 6.5h1M329 6.5h1M331 6.5h1M333 6.5h1M338 6.5h1M347 6.5h1M349 6.5h1M356 6.5h1M359 6.5h1M366 6.5h1M370 6.5h1M375 6.5h3M389 6.5h1M392 6.5h2M395 6.5h1M402 6.5h1M407 6.5h1M413 6.5h1M415 6.5h1M424 6.5h2M429 6.5h2M433 6.5h1M436 6.5h1M438 6.5h1M443 6.5h1M447 6.5h2M451 6.5h1M453 6.5h1M458 6.5h1M462 6.5h1M464 6.5h2M469 6.5h1M476 6.5h1M479 6.5h1M484 6.5h1M487 6.5h4M494 6.5h1M500 6.5h1M503 6.5h3M507 6.5h1M510 6.5h1M519 6.5h1M522 6.5h1M7 7.5h1M10 7.5h1M47 7.5h1M53 7.5h1M60 7.5h1M90 7.5h1M102 7.5h1M118 7.5h1M123 7.5h1M134 7.5h1M140 7.5h3M146 7.5h1M150 7.5h2M153 7.5h1M168 7.5h1M173 7.5h1M176 7.5h1M178 7.5h1M182 7.5h1M193 7.5h1M195 7.5h1M197 7.5h1M199 7.5h1M205 7.5h1M213 7.5h1M215 7.5h1M217 7.5h1M220 7.5h1M223 7.5h1M233 7.5h1M243 7.5h1M246 7.5h2M250 7.5h1M256 7.5h1M258 7.5h2M263 7.5h2M269 7.5h1M275 7.5h2M281 7.5h2M294 7.5h1M296 7.5h2M302 7.5h1M304 7.5h1M311 7.5h1M315 7.5h2M321 7.5h1M330 7.5h1M341 7.5h2M345 7.5h2M353 7.5h1M358 7.5h1M360 7.5h2M366 7.5h1M372 7.5h1M375 7.5h1M379 7.5h1M381 7.5h1M383 7.5h1M387 7.5h1M390 7.5h1M393 7.5h1M400 7.5h2M406 7.5h1M412 7.5h1M414 7.5h3M419 7.5h1M421 7.5h1M426 7.5h2M431 7.5h1M433 7.5h1M436 7.5h1M438 7.5h1M441 7.5h1M445 7.5h1M453 7.5h2M473 7.5h2M476 7.5h1M478 7.5h2M485 7.5h1M488 7.5h2M492 7.5h2M496 7.5h1M498 7.5h2M501 7.5h2M504 7.5h1M511 7.5h3M516 7.5h3M520 7.5h1M523 7.5h1M8 8.5h1M20 8.5h1M28 8.5h1M93 8.5h1M102 8.5h1M187 8.5h1M281 8.5h1M296 8.5h1M311 8.5h1M336 8.5h1M359 8.5h1M375 8.5h1M421 8.5h1M470 8.5h1M475 8.5h1M19 9.5h1M28 9.5h1M30 9.5h1M32 9.5h1M36 9.5h1M43 9.5h1M52 9.5h1M55 9.5h1M62 9.5h1M68 9.5h1M76 9.5h1M79 9.5h1M83 9.5h1M85 9.5h1M106 9.5h2M122 9.5h1M135 9.5h3M141 9.5h1M146 9.5h1M153 9.5h1M156 9.5h2M159 9.5h1M163 9.5h2M173 9.5h1M178 9.5h1M182 9.5h1M185 9.5h1M192 9.5h1M194 9.5h1M197 9.5h1M203 9.5h2M207 9.5h2M210 9.5h2M214 9.5h1M216 9.5h1M220 9.5h1M231 9.5h1M235 9.5h1M239 9.5h1M241 9.5h1M243 9.5h1M246 9.5h2M252 9.5h1M254 9.5h1M256 9.5h1M261 9.5h1M272 9.5h1M275 9.5h1M277 9.5h1M279 9.5h2M284 9.5h1M286 9.5h1M289 9.5h2M295 9.5h1M302 9.5h2M305 9.5h2M314 9.5h1M317 9.5h1M321 9.5h1M325 9.5h1M327 9.5h1M330 9.5h1M347 9.5h3M352 9.5h2M356 9.5h1M365 9.5h1M367 9.5h1M371 9.5h1M375 9.5h2M378 9.5h1M386 9.5h1M391 9.5h1M393 9.5h1M399 9.5h1M403 9.5h1M406 9.5h1M410 9.5h1M425 9.5h1M437 9.5h1M441 9.5h1M445 9.5h1M447 9.5h1M472 9.5h1M474 9.5h1M498 9.5h1M166 10.5h1M348 10.5h1M443 10.5h1M30 11.5h1M54 11.5h1M142 11.5h1M275 11.5h1M381 11.5h1M397 11.5h1M478 11.5h1M488 11.5h1M492 11.5h1M505 11.5h1" stroke="#00b424"/>
<path d="M26 0.5h1M50 0.5h1M93 0.5h1M164 0.5h1M238 0.5h1M262 0.5h1M286 0.5h1M350 0.5h1M412 0.5h1M465 0.5h1M14 2.5h1M415 2.5h1M56 3.5h1M125 3.5h1M193 3.5h1M207 3.5h1M225 3.5h1M269 3.5h1M288 3.5h1M318 3.5h1M326 3.5h1M408 3.5h1M421 3.5h1M455 3.5h1M459 3.5h1M475 3.5h1M146 4.5h1M216 4.5h1M223 4.5h1M286 4.5h1M519 4.5h1M143 7.5h1M237 7.5h1M180 10.5h1M382 10.5h1" stroke="#00a818"/>
<path d="M31 0.5h1M150 0.5h1M176 0.5h1M206 0.5h1M214 0.5h1M234 0.5h1M270 0.5h1M280 0.5h1M304 0.5h1M336 0.5h1M477 0.5h1M485 0.5h1M380 2.5h1M9 3.5h1M32 3.5h1M53 3.5h1M57 3.5h1M63 3.5h1M66 3.5h1M98 3.5h1M100 3.5h1M109 3.5h1M116 3.5h1M134 3.5h1M144 3.5h1M150 3.5h2M167 3.5h1M169 3.5h1M173 3.5h1M180 3.5h1M188 3.5h1M202 3.5h1M210 3.5h1M231 3.5h1M256 3.5h1M258 3.5h1M268 3.5h1M280 3.5h1M300 3.5h1M322 3.5h1M328 3.5h1M345 3.5h1M466 3.5h2M516 3.5h1M204 4.5h1M214 4.5h1M267 4.5h1M273 4.5h1M303 4.5h1M311 4.5h1M346 4.5h1M369 4.5h1M395 4.5h1M413 4.5h2M432 4.5h1M475 4.5h1M498 4.5h1M500 4.5h1" stroke="#00f024"/>
<path d="M48 0.5h1M98 0.5h1M209 0.5h1M248 0.5h1M310 0.5h1M325 0.5h1M330 0.5h1M356 0.5h1M410 0.5h1M424 0.5h1M456 0.5h1M458 0.5h1M489 0.5h1M507 0.5h1M514 0.5h1M2 7.5h1M26 7.5h1M40 7.5h1M43 7.5h1M71 7.5h1M149 7.5h1M158 7.5h1M161 7.5h1M207 7.5h1M238 7.5h1M245 7.5h1M252 7.5h1M278 7.5h1M292 7.5h1M312 7.5h1M327 7.5h1M396 7.5h1M430 7.5h1M462 7.5h2M465 7.5h1M469 7.5h1M495 7.5h1M505 7.5h1M508 7.5h1M8 9.5h1M12 9.5h1M40 9.5h1M97 9.5h1M104 9.5h1M108 9.5h2M134 9.5h1M142 9.5h1M176 9.5h1M258 9.5h1M267 9.5h1M297 9.5h1M311 9.5h1M361 9.5h1M373 9.5h1M415 9.5h1M438 9.5h1M453 9.5h1M469 9.5h1" stroke="#006c18"/>
<path d="M0 1.5h1M21 1.5h1M62 1.5h1M76 1.5h1M134 1.5h1M150 1.5h1M158 1.5h1M170 1.5h1M194 1.5h1M197 1.5h1M211 1.5h1M301 1.5h1M324 1.5h1M333 1.5h1M428 1.5h1M434 1.5h1M452 1.5h1M473 1.5h1M3 8.5h1M13 8.5h1M23 8.5h1M48 8.5h1M57 8.5h1M76 8.5h1M85 8.5h1M91 8.5h1M108 8.5h1M111 8.5h1M120 8.5h1M133 8.5h1M145 8.5h1M147 8.5h1M150 8.5h1M175 8.5h1M184 8.5h1M196 8.5h1M198 8.5h2M206 8.5h1M214 8.5h1M239 8.5h1M252 8.5h1M254 8.5h1M270 8.5h1M278 8.5h1M280 8.5h1M302 8.5h1M325 8.5h1M329 8.5h1M353 8.5h1M358 8.5h1M366 8.5h1M381 8.5h1M393 8.5h1M403 8.5h1M406 8.5h1M443 8.5h1M445 8.5h1M448 8.5h1M455 8.5h1M472 8.5h1M508 8.5h1M514 8.5h2M523 8.5h1" stroke="#005418"/>
<path d="M3 1.5h1M26 1.5h1M64 1.5h1M72 1.5h1M77 1.5h1M82 1.5h1M85 1.5h1M102 1.5h1M107 1.5h1M109 1.5h1M113 1.5h1M118 1.5h1M121 1.5h2M125 1.5h1M128 1.5h1M133 1.5h1M145 1.5h1M192 1.5h1M209 1.5h1M216 1.5h1M219 1.5h1M231 1.5h1M238 1.5h1M249 1.5h2M273 1.5h1M283 1.5h1M323 1.5h1M326 1.5h1M339 1.5h1M361 1.5h1M366 1.5h1M394 1.5h1M403 1.5h1M412 1.5h1M442 1.5h1M490 1.5h1M5 8.5h1M18 8.5h1M22 8.5h1M39 8.5h1M45 8.5h2M56 8.5h1M67 8.5h1M71 8.5h1M73 8.5h1M77 8.5h1M80 8.5h1M100 8.5h1M103 8.5h1M114 8.5h1M125 8.5h1M136 8.5h1M140 8.5h1M144 8.5h1M154 8.5h1M160 8.5h1M165 8.5h1M181 8.5h1M188 8.5h1M201 8.5h1M215 8.5h1M220 8.5h1M229 8.5h1M240 8.5h1M243 8.5h1M245 8.5h1M277 8.5h1M287 8.5h1M295 8.5h1M305 8.5h1M307 8.5h1M316 8.5h2M327 8.5h1M331 8.5h2M339 8.5h1M341 8.5h3M346 8.5h1M352 8.5h1M354 8.5h1M364 8.5h1M376 8.5h2M382 8.5h2M396 8.5h1M418 8.5h1M423 8.5h6M435 8.5h2M457 8.5h1M464 8.5h1M483 8.5h1M490 8.5h1M30 12.5h1" stroke="#006024"/>
<path d="M4 1.5h1M6 1.5h2M9 1.5h4M14 1.5h1M36 1.5h2M41 1.5h1M43 1.5h1M49 1.5h1M54 1.5h1M57 1.5h1M59 1.5h2M63 1.5h1M65 1.5h1M69 1.5h1M71 1.5h1M79 1.5h1M84 1.5h1M87 1.5h1M91 1.5h3M99 1.5h1M108 1.5h1M112 1.5h1M119 1.5h1M126 1.5h1M132 1.5h1M135 1.5h2M142 1.5h1M144 1.5h1M146 1.5h1M151 1.5h1M156 1.5h1M160 1.5h2M166 1.5h1M178 1.5h3M185 1.5h2M188 1.5h1M204 1.5h1M212 1.5h1M220 1.5h1M226 1.5h1M234 1.5h1M260 1.5h1M282 1.5h1M286 1.5h1M291 1.5h1M294 1.5h1M300 1.5h1M308 1.5h2M314 1.5h1M51 4.5h1M69 4.5h1M86 4.5h1M92 4.5h1M96 4.5h1M111 4.5h1M127 4.5h1M143 4.5h1M186 4.5h1M217 4.5h1M222 4.5h1M231 4.5h2M241 4.5h1M251 4.5h1M263 4.5h1M270 4.5h1M347 4.5h1M351 4.5h1M363 4.5h1M374 4.5h1M401 4.5h1M425 4.5h1M436 4.5h1M441 4.5h1M484 4.5h1M489 4.5h2M4 5.5h2M9 5.5h1M24 5.5h1M28 5.5h2M35 5.5h1M38 5.5h3M48 5.5h1M52 5.5h1M57 5.5h1M59 5.5h1M66 5.5h3M73 5.5h2M77 5.5h2M81 5.5h2M84 5.5h1M86 5.5h1M93 5.5h1M95 5.5h1M102 5.5h1M105 5.5h2M116 5.5h1M147 5.5h1M154 5.5h1M158 5.5h1M170 5.5h1M172 5.5h2M182 5.5h1M184 5.5h2M190 5.5h1M194 5.5h1M196 5.5h1M219 5.5h1M223 5.5h1M237 5.5h1M242 5.5h1M255 5.5h1M274 5.5h1M277 5.5h1M280 5.5h1M284 5.5h1M295 5.5h1M302 5.5h1M308 5.5h1M338 5.5h1M343 5.5h1M374 5.5h1M497 5.5h1M2 6.5h1M7 6.5h2M11 6.5h1M17 6.5h1M19 6.5h1M21 6.5h1M24 6.5h1M27 6.5h1M29 6.5h1M40 6.5h2M51 6.5h2M57 6.5h3M61 6.5h1M64 6.5h1M66 6.5h2M75 6.5h1M83 6.5h1M85 6.5h1M87 6.5h1M99 6.5h1M107 6.5h1M112 6.5h1M116 6.5h1M119 6.5h1M121 6.5h1M124 6.5h1M128 6.5h2M131 6.5h1M136 6.5h1M146 6.5h1M148 6.5h1M157 6.5h1M174 6.5h1M179 6.5h1M202 6.5h1M205 6.5h1M209 6.5h1M212 6.5h1M214 6.5h1M223 6.5h1M236 6.5h1M238 6.5h1M242 6.5h2M268 6.5h1M270 6.5h1M278 6.5h1M280 6.5h1M288 6.5h1M293 6.5h1M328 6.5h1M332 6.5h1M334 6.5h2M337 6.5h1M348 6.5h1M354 6.5h1M358 6.5h1M363 6.5h1M378 6.5h1M382 6.5h1M399 6.5h1M405 6.5h1M442 6.5h1M445 6.5h1M470 6.5h1M473 6.5h1M301 7.5h1M348 7.5h1M363 7.5h1M386 7.5h1M434 7.5h1M443 7.5h1M455 7.5h1M461 7.5h1M468 7.5h1M487 7.5h1M1 8.5h1M15 8.5h1M24 8.5h1M30 8.5h1M37 8.5h1M41 8.5h1M49 8.5h2M52 8.5h1M60 8.5h1M68 8.5h1M79 8.5h1M81 8.5h3M86 8.5h1M92 8.5h1M94 8.5h3M99 8.5h1M104 8.5h4M109 8.5h2M117 8.5h1M124 8.5h1M138 8.5h1M142 8.5h2M151 8.5h1M153 8.5h1M158 8.5h1M163 8.5h1M171 8.5h3M176 8.5h1M183 8.5h1M186 8.5h1M192 8.5h2M197 8.5h1M200 8.5h1M202 8.5h1M211 8.5h2M216 8.5h1M222 8.5h2M225 8.5h1M232 8.5h4M237 8.5h1M241 8.5h1M247 8.5h2M250 8.5h1M253 8.5h1M259 8.5h1M262 8.5h2M266 8.5h1M269 8.5h1M273 8.5h1M275 8.5h1M282 8.5h3M286 8.5h1M301 8.5h1M308 8.5h1M314 8.5h1M322 8.5h1M333 8.5h1M335 8.5h1M345 8.5h1M347 8.5h1M350 8.5h1M357 8.5h1M362 8.5h2M370 8.5h2M380 8.5h1M384 8.5h1M390 8.5h1M411 8.5h2M420 8.5h1M422 8.5h1M430 8.5h1M432 8.5h2M437 8.5h1M444 8.5h1M453 8.5h2M456 8.5h1M459 8.5h2M465 8.5h2M469 8.5h1M473 8.5h1M479 8.5h1M485 8.5h1M495 8.5h1M498 8.5h2M503 8.5h1M506 8.5h1M511 8.5h1M513 8.5h1M516 8.5h1M518 8.5h2M202 9.5h1M223 9.5h1M236 9.5h2M260 9.5h1M276 9.5h1M283 9.5h1M296 9.5h1M307 9.5h1M309 9.5h1M331 9.5h1M336 9.5h1M340 9.5h1M360 9.5h1M408 9.5h1M411 9.5h1M417 9.5h1M427 9.5h1M431 9.5h1M446 9.5h1M451 9.5h1M461 9.5h1M465 9.5h2M480 9.5h1M482 9.5h2M486 9.5h1M489 9.5h2M494 9.5h1M503 9.5h2M506 9.5h2M512 9.5h1M523 9.5h1M5 11.5h1M19 11.5h1M28 11.5h1M35 11.5h1M40 11.5h1M75 11.5h1M79 11.5h1M98 11.5h1M237 11.5h2M244 11.5h1M265 11.5h1M288 11.5h1M317 11.5h1M371 11.5h1M394 11.5h1M436 11.5h1M487 11.5h1M494 11.5h1M498 11.5h1M522 11.5h2" stroke="#009c24"/>
<path d="M5 1.5h1M17 1.5h1M28 1.5h1M33 1.5h2M46 1.5h3M70 1.5h1M96 1.5h2M114 1.5h1M124 1.5h1M130 1.5h1M139 1.5h1M165 1.5h1M168 1.5h1M183 1.5h1M198 1.5h1M203 1.5h1M139 5.5h1M142 5.5h1M145 5.5h1M192 5.5h1M214 5.5h1M0 6.5h1M6 6.5h1M13 6.5h1M18 6.5h1M32 6.5h1M44 6.5h1M62 6.5h1M78 6.5h1M98 6.5h1M106 6.5h1M120 6.5h1M137 6.5h2M151 6.5h1M260 6.5h1M28 7.5h1M0 8.5h1M2 8.5h1M7 8.5h1M11 8.5h2M17 8.5h1M29 8.5h1M31 8.5h1M33 8.5h1M38 8.5h1M42 8.5h1M47 8.5h1M53 8.5h1M59 8.5h1M63 8.5h1M70 8.5h1M88 8.5h1M98 8.5h1M112 8.5h1M121 8.5h1M146 8.5h1M148 8.5h1M159 8.5h1M161 8.5h1M168 8.5h1M174 8.5h1M179 8.5h2M182 8.5h1M207 8.5h1M209 8.5h1M213 8.5h1M218 8.5h1M227 8.5h2M230 8.5h1M249 8.5h1M256 8.5h1M267 8.5h1M274 8.5h1M285 8.5h1M292 8.5h1M297 8.5h2M303 8.5h1M310 8.5h1M318 8.5h1M320 8.5h1M323 8.5h1M344 8.5h1M348 8.5h2M351 8.5h1M356 8.5h1M360 8.5h2M365 8.5h1M369 8.5h1M378 8.5h1M385 8.5h5M391 8.5h2M405 8.5h1M407 8.5h1M409 8.5h2M414 8.5h1M416 8.5h1M419 8.5h1M440 8.5h1M446 8.5h1M451 8.5h1M458 8.5h1M476 8.5h1M478 8.5h1M480 8.5h1M487 8.5h2M492 8.5h1M500 8.5h1M502 8.5h1M504 8.5h2M507 8.5h1M510 8.5h1M512 8.5h1M517 8.5h1M520 8.5h1M158 9.5h1M342 9.5h1M380 9.5h1M388 9.5h1M409 9.5h1M412 9.5h1M420 9.5h1M456 9.5h1M459 9.5h1M467 9.5h2M475 9.5h1M514 9.5h1M516 9.5h1M520 9.5h1M10 10.5h1M15 10.5h1M21 10.5h1M92 11.5h1M113 11.5h1M213 11.5h1M217 11.5h1M281 11.5h1M346 11.5h1M380 11.5h1M474 11.5h1" stroke="#009024"/>
<path d="M8 1.5h1M50 1.5h1M104 1.5h1M225 1.5h1M36 4.5h1M85 4.5h1M307 4.5h1M393 4.5h1M420 4.5h1M469 4.5h1M50 6.5h1M133 6.5h1M265 6.5h1M116 8.5h1M119 8.5h1M141 8.5h1M246 8.5h1M279 8.5h1M288 8.5h1M300 8.5h1M492 9.5h1M522 9.5h1" stroke="#008418"/>
<path d="M13 1.5h1M15 1.5h1M19 1.5h2M22 1.5h1M27 1.5h1M42 1.5h1M44 1.5h1M52 1.5h1M58 1.5h1M78 1.5h1M80 1.5h2M90 1.5h1M94 1.5h2M98 1.5h1M101 1.5h1M103 1.5h1M105 1.5h2M111 1.5h1M116 1.5h2M120 1.5h1M129 1.5h1M140 1.5h1M143 1.5h1M147 1.5h3M153 1.5h1M155 1.5h1M157 1.5h1M163 1.5h2M167 1.5h1M171 1.5h6M182 1.5h1M184 1.5h1M187 1.5h1M189 1.5h1M193 1.5h1M199 1.5h2M202 1.5h1M206 1.5h3M215 1.5h1M217 1.5h1M221 1.5h1M223 1.5h1M235 1.5h1M241 1.5h2M244 1.5h2M247 1.5h1M252 1.5h1M256 1.5h2M264 1.5h1M266 1.5h3M276 1.5h1M279 1.5h1M284 1.5h1M288 1.5h1M292 1.5h1M313 1.5h1M318 1.5h1M321 1.5h1M330 1.5h2M340 1.5h1M343 1.5h1M347 1.5h1M353 1.5h2M365 1.5h1M369 1.5h1M375 1.5h2M391 1.5h1M402 1.5h1M406 1.5h2M418 1.5h1M444 1.5h1M460 1.5h1M506 1.5h1M34 3.5h1M62 3.5h1M70 3.5h1M89 3.5h2M113 3.5h1M119 3.5h1M121 3.5h1M140 3.5h1M163 3.5h1M201 3.5h1M257 3.5h1M311 3.5h2M339 3.5h1M343 3.5h1M350 3.5h1M369 3.5h1M372 3.5h1M395 3.5h1M454 3.5h1M457 3.5h1M495 3.5h1M501 3.5h1M517 3.5h1M71 4.5h1M100 4.5h1M112 4.5h1M207 4.5h1M249 4.5h1M422 4.5h1M2 5.5h1M10 5.5h1M15 5.5h1M18 5.5h1M20 5.5h1M27 5.5h1M30 5.5h1M33 5.5h2M37 5.5h1M45 5.5h1M49 5.5h3M54 5.5h2M58 5.5h1M62 5.5h1M79 5.5h2M85 5.5h1M87 5.5h1M90 5.5h1M94 5.5h1M96 5.5h1M103 5.5h2M110 5.5h1M117 5.5h1M119 5.5h1M121 5.5h1M126 5.5h1M129 5.5h3M135 5.5h1M138 5.5h1M144 5.5h1M146 5.5h1M150 5.5h1M152 5.5h1M159 5.5h1M181 5.5h1M183 5.5h1M186 5.5h1M195 5.5h1M197 5.5h2M204 5.5h1M207 5.5h2M210 5.5h1M212 5.5h1M220 5.5h1M234 5.5h2M245 5.5h1M256 5.5h1M258 5.5h1M263 5.5h1M266 5.5h1M268 5.5h1M270 5.5h1M273 5.5h1M276 5.5h1M283 5.5h1M290 5.5h1M294 5.5h1M307 5.5h1M315 5.5h1M327 5.5h1M331 5.5h1M333 5.5h1M335 5.5h1M339 5.5h1M341 5.5h1M355 5.5h1M363 5.5h1M368 5.5h1M372 5.5h1M386 5.5h1M399 5.5h1M403 5.5h1M417 5.5h1M425 5.5h2M428 5.5h2M431 5.5h1M435 5.5h2M454 5.5h1M466 5.5h1M491 5.5h1M504 5.5h1M507 5.5h1M511 5.5h1M516 5.5h1M523 5.5h1M3 6.5h2M9 6.5h1M15 6.5h2M31 6.5h1M45 6.5h1M48 6.5h1M53 6.5h1M55 6.5h2M63 6.5h1M65 6.5h1M69 6.5h2M72 6.5h1M76 6.5h1M79 6.5h1M81 6.5h2M88 6.5h1M96 6.5h2M100 6.5h2M109 6.5h3M115 6.5h1M125 6.5h1M135 6.5h1M140 6.5h2M145 6.5h1M147 6.5h1M149 6.5h1M155 6.5h2M166 6.5h3M170 6.5h2M175 6.5h1M178 6.5h1M183 6.5h1M187 6.5h1M189 6.5h1M191 6.5h1M193 6.5h3M197 6.5h1M211 6.5h1M213 6.5h1M215 6.5h2M220 6.5h1M222 6.5h1M225 6.5h1M228 6.5h2M232 6.5h1M245 6.5h1M251 6.5h3M258 6.5h1M266 6.5h1M269 6.5h1M277 6.5h1M283 6.5h1M285 6.5h1M291 6.5h1M294 6.5h1M299 6.5h1M303 6.5h1M305 6.5h1M309 6.5h1M312 6.5h1M320 6.5h3M324 6.5h1M326 6.5h1M336 6.5h1M339 6.5h1M343 6.5h2M346 6.5h1M351 6.5h1M353 6.5h1M355 6.5h1M357 6.5h1M365 6.5h1M368 6.5h2M374 6.5h1M381 6.5h1M385 6.5h1M387 6.5h1M391 6.5h1M394 6.5h1M403 6.5h1M406 6.5h1M411 6.5h1M414 6.5h1M416 6.5h5M428 6.5h1M432 6.5h1M437 6.5h1M439 6.5h1M444 6.5h1M446 6.5h1M450 6.5h1M452 6.5h1M455 6.5h3M460 6.5h2M485 6.5h2M496 6.5h2M521 6.5h1M185 7.5h1M189 7.5h1M222 7.5h1M241 7.5h1M272 7.5h1M279 7.5h1M289 7.5h1M307 7.5h1M318 7.5h3M322 7.5h1M334 7.5h1M337 7.5h1M340 7.5h1M344 7.5h1M349 7.5h1M364 7.5h1M369 7.5h1M376 7.5h1M378 7.5h1M382 7.5h1M384 7.5h1M389 7.5h1M395 7.5h1M397 7.5h2M404 7.5h1M409 7.5h1M420 7.5h1M424 7.5h2M435 7.5h1M437 7.5h1M439 7.5h1M442 7.5h1M444 7.5h1M450 7.5h1M456 7.5h2M460 7.5h1M464 7.5h1M470 7.5h1M475 7.5h1M481 7.5h2M484 7.5h1M494 7.5h1M497 7.5h1M503 7.5h1M509 7.5h1M514 7.5h1M6 8.5h1M14 8.5h1M25 8.5h3M32 8.5h1M34 8.5h1M36 8.5h1M40 8.5h1M43 8.5h1M51 8.5h1M58 8.5h1M61 8.5h1M64 8.5h1M66 8.5h1M78 8.5h1M84 8.5h1M87 8.5h1M89 8.5h2M113 8.5h1M118 8.5h1M122 8.5h2M126 8.5h2M129 8.5h3M135 8.5h1M139 8.5h1M149 8.5h1M166 8.5h2M170 8.5h1M178 8.5h1M189 8.5h2M217 8.5h1M221 8.5h1M224 8.5h1M226 8.5h1M236 8.5h1M242 8.5h1M244 8.5h1M255 8.5h1M264 8.5h1M293 8.5h1M319 8.5h1M326 8.5h1M337 8.5h1M368 8.5h1M373 8.5h2M398 8.5h1M404 8.5h1M408 8.5h1M415 8.5h1M417 8.5h1M429 8.5h1M439 8.5h1M447 8.5h1M450 8.5h1M467 8.5h1M496 8.5h1M521 8.5h1M7 9.5h1M54 9.5h1M77 9.5h2M110 9.5h1M121 9.5h1M127 9.5h1M151 9.5h1M160 9.5h1M170 9.5h1M175 9.5h1M179 9.5h3M184 9.5h1M186 9.5h1M188 9.5h1M224 9.5h1M226 9.5h1M229 9.5h1M232 9.5h3M245 9.5h1M251 9.5h1M259 9.5h1M268 9.5h2M271 9.5h1M281 9.5h2M292 9.5h1M294 9.5h1M298 9.5h1M300 9.5h1M312 9.5h1M315 9.5h1M319 9.5h1M324 9.5h1M329 9.5h1M332 9.5h1M334 9.5h2M341 9.5h1M345 9.5h1M350 9.5h2M354 9.5h2M359 9.5h1M362 9.5h2M368 9.5h1M372 9.5h1M374 9.5h1M379 9.5h1M382 9.5h1M387 9.5h1M392 9.5h1M394 9.5h1M396 9.5h1M398 9.5h1M401 9.5h2M414 9.5h1M416 9.5h1M418 9.5h2M421 9.5h4M426 9.5h1M428 9.5h2M432 9.5h2M436 9.5h1M442 9.5h2M449 9.5h2M452 9.5h1M454 9.5h2M458 9.5h1M460 9.5h1M463 9.5h2M470 9.5h2M476 9.5h1M479 9.5h1M481 9.5h1M484 9.5h2M487 9.5h2M495 9.5h1M497 9.5h1M505 9.5h1M509 9.5h1M511 9.5h1M513 9.5h1M515 9.5h1M518 9.5h2M22 11.5h1M36 11.5h1M49 11.5h1M93 11.5h1M97 11.5h1M103 11.5h1M108 11.5h1M119 11.5h1M121 11.5h1M130 11.5h1M147 11.5h1M154 11.5h1M161 11.5h1M164 11.5h1M180 11.5h2M183 11.5h1M188 11.5h1M191 11.5h1M203 11.5h1M209 11.5h1M215 11.5h2M218 11.5h1M223 11.5h1M248 11.5h1M257 11.5h1M289 11.5h1M295 11.5h1M297 11.5h1M335 11.5h1M338 11.5h1M340 11.5h1M347 11.5h1M355 11.5h1M366 11.5h1M370 11.5h1M385 11.5h2M392 11.5h1M398 11.5h1M431 11.5h1M433 11.5h1M449 11.5h2M453 11.5h2M459 11.5h1M466 11.5h1M468 11.5h1M475 11.5h1M477 11.5h1M480 11.5h1M486 11.5h1M495 11.5h1M500 11.5h1M517 11.5h1" stroke="#00a824"/>
<path d="M29 1.5h1M55 1.5h1M66 1.5h1M75 1.5h1M21 7.5h1M33 7.5h1M57 7.5h1M64 7.5h1M79 7.5h1M99 7.5h1M128 7.5h1M164 7.5h1M194 7.5h1M208 7.5h1M211 7.5h1M251 7.5h1M254 7.5h1M339 7.5h1M351 7.5h1M357 7.5h1M359 7.5h1M413 7.5h1M452 7.5h1M486 7.5h1M490 7.5h1M519 7.5h1M72 8.5h1M157 8.5h1M258 8.5h1M306 8.5h1M312 8.5h1M321 8.5h1M379 8.5h1M400 8.5h2M413 8.5h1M441 8.5h1M452 8.5h1M463 8.5h1M477 8.5h1M21 9.5h1M24 9.5h1M88 9.5h1M99 9.5h1M113 9.5h1M126 9.5h1M133 9.5h1M139 9.5h1M162 9.5h1M248 9.5h1M288 9.5h1M310 9.5h1M316 9.5h1M346 9.5h1M358 9.5h1M377 9.5h1M395 9.5h1M397 9.5h1M405 9.5h1M413 9.5h1M434 9.5h1M473 9.5h1M478 9.5h1M517 9.5h1M521 9.5h1M3 10.5h1M12 10.5h1M23 10.5h1M25 10.5h1M29 10.5h2M35 10.5h1M39 10.5h2M42 10.5h2M48 10.5h1M50 10.5h1M52 10.5h3M56 10.5h1M58 10.5h1M60 10.5h2M66 10.5h2M70 10.5h1M75 10.5h1M77 10.5h1M298 11.5h1" stroke="#008424"/>
<path d="M259 1.5h1M208 8.5h1M442 8.5h1" stroke="#004818"/>
<path d="M285 1.5h1M374 1.5h1M28 3.5h1M30 3.5h1M47 3.5h1M54 3.5h1M146 3.5h1M152 3.5h1M154 3.5h1M216 3.5h1M242 3.5h1M259 3.5h1M293 3.5h1M304 3.5h2M314 3.5h2M332 3.5h1M334 3.5h1M341 3.5h1M353 3.5h1M382 3.5h1M420 3.5h1M478 3.5h3M500 3.5h1M472 6.5h1M478 6.5h1M273 7.5h1M71 9.5h1M100 9.5h1M174 9.5h1" stroke="#009c18"/>
<path d="M310 1.5h1M16 3.5h2M147 3.5h1M165 3.5h1M336 3.5h1M388 3.5h1M7 4.5h1M28 4.5h1M32 4.5h1M43 4.5h1M98 4.5h1M106 4.5h1M115 4.5h1M131 4.5h1M150 4.5h1M152 4.5h1M159 4.5h1M169 4.5h1M178 4.5h1M191 4.5h1M221 4.5h1M238 4.5h1M264 4.5h1M268 4.5h1M293 4.5h1M315 4.5h1M331 4.5h1M333 4.5h2M344 4.5h1M376 4.5h1M380 4.5h1M386 4.5h1M403 4.5h1M405 4.5h1M438 4.5h1M466 4.5h1M505 4.5h1M8 5.5h1M216 5.5h1M353 5.5h1M181 6.5h1M210 6.5h1M248 6.5h1M257 6.5h1M271 6.5h1M282 6.5h1M301 6.5h1M306 6.5h1M397 6.5h1M480 6.5h1M206 9.5h1M301 9.5h1M326 9.5h1M400 9.5h1M462 9.5h1" stroke="#009018"/>
<path d="M1 2.5h1M5 2.5h1M7 2.5h1M24 2.5h2M31 2.5h1M38 2.5h1M40 2.5h1M43 2.5h2M52 2.5h1M55 2.5h2M63 2.5h1M65 2.5h1M68 2.5h1M70 2.5h2M77 2.5h1M80 2.5h1M97 2.5h1M99 2.5h1M105 2.5h1M115 2.5h1M127 2.5h1M129 2.5h3M141 2.5h2M151 2.5h1M154 2.5h2M157 2.5h2M165 2.5h2M171 2.5h1M178 2.5h1M182 2.5h1M184 2.5h1M187 2.5h1M193 2.5h2M199 2.5h1M215 2.5h1M219 2.5h1M237 2.5h2M241 2.5h1M247 2.5h1M250 2.5h1M252 2.5h1M257 2.5h1M259 2.5h2M265 2.5h3M272 2.5h2M275 2.5h1M281 2.5h1M284 2.5h1M288 2.5h2M292 2.5h1M296 2.5h1M299 2.5h2M303 2.5h1M305 2.5h2M309 2.5h2M313 2.5h1M323 2.5h1M333 2.5h1M343 2.5h4M356 2.5h1M359 2.5h1M362 2.5h1M370 2.5h1M379 2.5h1M385 2.5h2M389 2.5h1M392 2.5h3M396 2.5h1M402 2.5h3M411 2.5h1M416 2.5h1M419 2.5h3M432 2.5h2M435 2.5h1M438 2.5h1M444 2.5h1M446 2.5h1M451 2.5h1M453 2.5h1M457 2.5h2M469 2.5h1M471 2.5h3M478 2.5h1M488 2.5h1M493 2.5h3M498 2.5h1M502 2.5h1M505 2.5h3M510 2.5h2M515 2.5h2M518 2.5h1" stroke="#00e418"/>
<path d="M2 2.5h1M4 2.5h1M15 2.5h1M26 2.5h1M29 2.5h1M39 2.5h1M46 2.5h3M54 2.5h1M58 2.5h1M61 2.5h1M67 2.5h1M89 2.5h1M94 2.5h1M98 2.5h1M106 2.5h2M110 2.5h1M112 2.5h1M114 2.5h1M125 2.5h1M137 2.5h2M140 2.5h1M170 2.5h1M172 2.5h2M175 2.5h1M181 2.5h1M188 2.5h1M198 2.5h1M200 2.5h1M202 2.5h1M208 2.5h1M210 2.5h2M218 2.5h1M222 2.5h1M226 2.5h1M228 2.5h1M234 2.5h1M239 2.5h1M249 2.5h1M253 2.5h1M258 2.5h1M261 2.5h1M268 2.5h1M270 2.5h1M282 2.5h1M290 2.5h1M293 2.5h1M308 2.5h1M316 2.5h1M318 2.5h1M320 2.5h1M326 2.5h2M330 2.5h1M336 2.5h1M340 2.5h1M347 2.5h2M353 2.5h1M374 2.5h1M376 2.5h1M384 2.5h1M391 2.5h1M406 2.5h1M410 2.5h1M414 2.5h1M423 2.5h1M425 2.5h1M427 2.5h2M455 2.5h1M459 2.5h1M468 2.5h1M474 2.5h2M479 2.5h1M481 2.5h2M489 2.5h1M492 2.5h1M504 2.5h1M508 2.5h2M513 2.5h2M517 2.5h1M522 2.5h1M0 3.5h2M5 3.5h1M12 3.5h1M14 3.5h1M22 3.5h1M35 3.5h1M44 3.5h1M55 3.5h1M60 3.5h1M65 3.5h1M85 3.5h2M88 3.5h1M94 3.5h1M104 3.5h1M106 3.5h2M115 3.5h1M120 3.5h1M124 3.5h1M127 3.5h1M129 3.5h2M137 3.5h1M139 3.5h1M143 3.5h1M148 3.5h2M162 3.5h1M164 3.5h1M172 3.5h1M174 3.5h1M218 3.5h1M228 3.5h1M239 3.5h2M247 3.5h1M252 3.5h2M260 3.5h1M272 3.5h1M277 3.5h1M309 3.5h1M335 3.5h1M347 3.5h1M368 3.5h1M385 3.5h1M403 3.5h1M406 3.5h1M417 3.5h1M425 3.5h1M438 3.5h1M445 3.5h1M456 3.5h1M502 3.5h1M514 3.5h1M408 4.5h1M456 4.5h1M462 4.5h1M482 4.5h1M518 4.5h1M520 4.5h1" stroke="#00d818"/>
<path d="M3 2.5h1M6 2.5h1M16 2.5h1M18 2.5h1M20 2.5h1M23 2.5h1M34 2.5h1M36 2.5h1M45 2.5h1M49 2.5h3M53 2.5h1M57 2.5h1M66 2.5h1M76 2.5h1M78 2.5h2M82 2.5h2M86 2.5h2M90 2.5h1M92 2.5h1M101 2.5h1M103 2.5h2M109 2.5h1M111 2.5h1M116 2.5h1M118 2.5h1M120 2.5h1M136 2.5h1M139 2.5h1M143 2.5h1M146 2.5h1M148 2.5h1M150 2.5h1M152 2.5h1M162 2.5h1M167 2.5h2M183 2.5h1M189 2.5h3M196 2.5h1M209 2.5h1M214 2.5h1M221 2.5h1M223 2.5h2M227 2.5h1M229 2.5h1M231 2.5h1M240 2.5h1M243 2.5h2M246 2.5h1M248 2.5h1M256 2.5h1M262 2.5h1M274 2.5h1M277 2.5h1M280 2.5h1M291 2.5h1M294 2.5h1M297 2.5h1M311 2.5h2M321 2.5h1M324 2.5h1M328 2.5h1M331 2.5h1M355 2.5h1M368 2.5h1M373 2.5h1M381 2.5h2M387 2.5h1M390 2.5h1M405 2.5h1M408 2.5h1M412 2.5h2M418 2.5h1M422 2.5h1M426 2.5h1M429 2.5h1M431 2.5h1M434 2.5h1M436 2.5h1M441 2.5h1M443 2.5h1M447 2.5h1M449 2.5h2M462 2.5h1M464 2.5h1M470 2.5h1M480 2.5h1M483 2.5h2M486 2.5h2M490 2.5h1M499 2.5h1M501 2.5h1M523 2.5h1" stroke="#00f018"/>
<path d="M8 2.5h1M10 2.5h2M28 2.5h1M42 2.5h1M72 2.5h1M74 2.5h1M100 2.5h1M117 2.5h1M123 2.5h1M149 2.5h1M174 2.5h1M204 2.5h1M216 2.5h1M232 2.5h1M283 2.5h1M295 2.5h1M317 2.5h1M332 2.5h1M335 2.5h1M337 2.5h2M363 2.5h1M371 2.5h1M437 2.5h1" stroke="#00ff18"/>
<path d="M12 2.5h1M19 2.5h1M21 2.5h2M62 2.5h1M64 2.5h1M69 2.5h1M73 2.5h1M95 2.5h2M113 2.5h1M119 2.5h1M121 2.5h2M126 2.5h1M134 2.5h2M144 2.5h1M160 2.5h1M164 2.5h1M169 2.5h1M179 2.5h1M195 2.5h1M201 2.5h1M207 2.5h1M217 2.5h1M236 2.5h1M245 2.5h1M254 2.5h2M263 2.5h2M285 2.5h1M302 2.5h1M307 2.5h1M314 2.5h2M342 2.5h1M349 2.5h1M351 2.5h1M354 2.5h1M361 2.5h1M367 2.5h1M369 2.5h1M377 2.5h1M383 2.5h1M417 2.5h1M424 2.5h1M430 2.5h1M442 2.5h1M452 2.5h1M460 2.5h1M465 2.5h3M477 2.5h1M521 2.5h1" stroke="#00fc18"/>
<path d="M27 2.5h1M81 2.5h1M93 2.5h1M124 2.5h1M128 2.5h1M145 2.5h1M186 2.5h1M205 2.5h2M213 2.5h1M220 2.5h1M286 2.5h1M301 2.5h1M375 2.5h1M378 2.5h1M400 2.5h1M440 2.5h1M491 2.5h1M503 2.5h1M512 2.5h1M38 3.5h1M45 3.5h1M75 3.5h1M79 3.5h1M96 3.5h1M128 3.5h1M131 3.5h1M156 3.5h2M170 3.5h1M179 3.5h1M185 3.5h1M187 3.5h1M204 3.5h1M208 3.5h2M212 3.5h1M232 3.5h1M255 3.5h1M283 3.5h1M313 3.5h1M316 3.5h2M321 3.5h1M348 3.5h1M360 3.5h2M365 3.5h1M375 3.5h1M381 3.5h1M384 3.5h1M386 3.5h1M390 3.5h1M398 3.5h1M412 3.5h3M432 3.5h1M440 3.5h1M442 3.5h1M447 3.5h1M450 3.5h1M462 3.5h2M476 3.5h1M487 3.5h1M494 3.5h1M504 3.5h1M519 3.5h1M521 3.5h1M5 4.5h2M10 4.5h1M13 4.5h1M31 4.5h1M34 4.5h2M37 4.5h1M39 4.5h1M44 4.5h1M48 4.5h1M54 4.5h2M57 4.5h1M60 4.5h1M62 4.5h1M64 4.5h1M66 4.5h1M70 4.5h1M74 4.5h4M84 4.5h1M97 4.5h1M101 4.5h1M104 4.5h2M108 4.5h1M113 4.5h1M116 4.5h5M133 4.5h2M138 4.5h3M144 4.5h2M153 4.5h1M158 4.5h1M170 4.5h1M177 4.5h1M179 4.5h1M182 4.5h1M198 4.5h1M200 4.5h2M203 4.5h1M211 4.5h1M226 4.5h2M234 4.5h1M236 4.5h1M260 4.5h2M275 4.5h2M285 4.5h1M288 4.5h1M296 4.5h2M299 4.5h1M310 4.5h1M325 4.5h1M330 4.5h1M332 4.5h1M341 4.5h1M354 4.5h1M361 4.5h2M373 4.5h1M383 4.5h1M409 4.5h1M415 4.5h1M417 4.5h1M419 4.5h1M423 4.5h2M427 4.5h1M430 4.5h1M461 4.5h1M465 4.5h1M468 4.5h1M480 4.5h1M487 4.5h1M503 4.5h1M507 4.5h1M515 4.5h1M521 4.5h1M523 4.5h1" stroke="#00c018"/>
<path d="M32 2.5h1M35 2.5h1M37 2.5h1M41 2.5h1M59 2.5h1M75 2.5h1M88 2.5h1M108 2.5h1M132 2.5h2M147 2.5h1M153 2.5h1M159 2.5h1M163 2.5h1M176 2.5h2M192 2.5h1M212 2.5h1M225 2.5h1M230 2.5h1M233 2.5h1M235 2.5h1M251 2.5h1M269 2.5h1M278 2.5h1M287 2.5h1M298 2.5h1M319 2.5h1M322 2.5h1M329 2.5h1M364 2.5h1M366 2.5h1M398 2.5h1M445 2.5h1M448 2.5h1M454 2.5h1M496 2.5h1M2 3.5h2M6 3.5h1M8 3.5h1M11 3.5h1M19 3.5h2M25 3.5h1M33 3.5h1M39 3.5h3M50 3.5h1M52 3.5h1M58 3.5h1M72 3.5h1M74 3.5h1M76 3.5h1M78 3.5h1M91 3.5h1M95 3.5h1M99 3.5h1M105 3.5h1M114 3.5h1M118 3.5h1M126 3.5h1M132 3.5h2M141 3.5h1M145 3.5h1M159 3.5h3M175 3.5h1M186 3.5h1M190 3.5h1M192 3.5h1M196 3.5h1M199 3.5h2M205 3.5h1M213 3.5h1M220 3.5h1M223 3.5h2M227 3.5h1M230 3.5h1M233 3.5h1M237 3.5h2M243 3.5h3M249 3.5h1M261 3.5h2M265 3.5h1M285 3.5h1M292 3.5h1M297 3.5h1M301 3.5h2M307 3.5h1M323 3.5h1M331 3.5h1M338 3.5h1M340 3.5h1M346 3.5h1M349 3.5h1M352 3.5h1M362 3.5h2M367 3.5h1M373 3.5h1M377 3.5h2M387 3.5h1M391 3.5h1M393 3.5h1M400 3.5h2M404 3.5h1M407 3.5h1M415 3.5h2M427 3.5h2M431 3.5h1M433 3.5h1M435 3.5h1M437 3.5h1M446 3.5h1M449 3.5h1M453 3.5h1M464 3.5h2M472 3.5h2M481 3.5h2M484 3.5h2M490 3.5h2M497 3.5h2M506 3.5h3M26 4.5h1M50 4.5h1M52 4.5h1M78 4.5h1M95 4.5h1M102 4.5h1M110 4.5h1M121 4.5h1M124 4.5h1M128 4.5h1M136 4.5h2M141 4.5h1M148 4.5h1M154 4.5h2M166 4.5h1M173 4.5h1M180 4.5h1M184 4.5h1M194 4.5h3M206 4.5h1M218 4.5h3M233 4.5h1M248 4.5h1M253 4.5h3M265 4.5h1M278 4.5h1M282 4.5h1M287 4.5h1M289 4.5h1M292 4.5h1M295 4.5h1M308 4.5h1M314 4.5h1M316 4.5h1M321 4.5h1M323 4.5h2M339 4.5h1M343 4.5h1M345 4.5h1M348 4.5h2M364 4.5h1M366 4.5h2M378 4.5h1M382 4.5h1M385 4.5h1M387 4.5h1M389 4.5h1M392 4.5h1M394 4.5h1M397 4.5h1M399 4.5h1M406 4.5h2M411 4.5h1M416 4.5h1M421 4.5h1M426 4.5h1M429 4.5h1M437 4.5h1M439 4.5h2M442 4.5h2M445 4.5h2M449 4.5h2M454 4.5h1M464 4.5h1M473 4.5h2M478 4.5h1M486 4.5h1M495 4.5h1M499 4.5h1M501 4.5h1M509 4.5h1M514 4.5h1" stroke="#00cc18"/>
<path d="M49 3.5h1M122 3.5h1M168 3.5h1M177 3.5h1M184 3.5h1M241 3.5h1M246 3.5h1M509 3.5h1M510 4.5h1" stroke="#00fc24"/>
<path d="M101 3.5h1M479 4.5h1" stroke="#00ff24"/>
<path d="M301 4.5h1M320 4.5h1M11 7.5h1M98 7.5h1M139 7.5h1M163 7.5h1M190 7.5h1M210 7.5h1M232 7.5h1M257 7.5h1M280 7.5h1M284 7.5h1M286 7.5h1M331 7.5h1M410 7.5h1M428 7.5h1M521 7.5h1M251 8.5h1M462 8.5h1M6 9.5h1M42 9.5h1M50 9.5h1M57 9.5h1M60 9.5h1M69 9.5h1M94 9.5h2M98 9.5h1M117 9.5h2M128 9.5h1M145 9.5h1M212 9.5h1M217 9.5h1M221 9.5h1M227 9.5h1M263 9.5h1M308 9.5h1M320 9.5h1M328 9.5h1M338 9.5h1M357 9.5h1M366 9.5h1M370 9.5h1M384 9.5h1M404 9.5h1M430 9.5h1M435 9.5h1M448 9.5h1M477 9.5h1M493 9.5h1M510 9.5h1" stroke="#007818"/>
<path d="M0 5.5h1M3 5.5h1M13 5.5h1M19 5.5h1M21 5.5h1M31 5.5h2M42 5.5h1M47 5.5h1M60 5.5h2M65 5.5h1M70 5.5h2M75 5.5h1M89 5.5h1M91 5.5h1M99 5.5h3M107 5.5h1M109 5.5h1M114 5.5h1M118 5.5h1M120 5.5h1M122 5.5h1M124 5.5h1M132 5.5h1M134 5.5h1M137 5.5h1M143 5.5h1M156 5.5h2M160 5.5h1M165 5.5h2M169 5.5h1M171 5.5h1M176 5.5h1M189 5.5h1M191 5.5h1M193 5.5h1M200 5.5h1M202 5.5h2M221 5.5h1M228 5.5h1M232 5.5h1M238 5.5h1M241 5.5h1M259 5.5h2M264 5.5h1M267 5.5h1M271 5.5h1M281 5.5h1M287 5.5h1M292 5.5h1M303 5.5h1M305 5.5h1M314 5.5h1M316 5.5h1M318 5.5h1M325 5.5h1M340 5.5h1M346 5.5h1M352 5.5h1M360 5.5h1M365 5.5h3M370 5.5h1M379 5.5h1M382 5.5h1M390 5.5h1M395 5.5h1M397 5.5h1M401 5.5h2M404 5.5h1M408 5.5h1M412 5.5h1M415 5.5h1M422 5.5h1M427 5.5h1M438 5.5h1M441 5.5h1M449 5.5h1M451 5.5h1M453 5.5h1M455 5.5h1M460 5.5h1M463 5.5h1M476 5.5h1M478 5.5h2M481 5.5h2M484 5.5h1M490 5.5h1M495 5.5h1M498 5.5h1M506 5.5h1M512 5.5h1M518 5.5h2M522 5.5h1M30 6.5h1M33 6.5h2M39 6.5h1M42 6.5h1M46 6.5h1M54 6.5h1M73 6.5h1M77 6.5h1M92 6.5h1M94 6.5h1M108 6.5h1M118 6.5h1M123 6.5h1M127 6.5h1M132 6.5h1M134 6.5h1M139 6.5h1M160 6.5h1M165 6.5h1M185 6.5h1M188 6.5h1M190 6.5h1M192 6.5h1M200 6.5h1M208 6.5h1M221 6.5h1M233 6.5h1M239 6.5h3M247 6.5h1M259 6.5h1M261 6.5h1M275 6.5h1M289 6.5h1M296 6.5h1M308 6.5h1M342 6.5h1M345 6.5h1M364 6.5h1M383 6.5h1M386 6.5h1M421 6.5h1M426 6.5h1M440 6.5h1M466 6.5h1M477 6.5h1M482 6.5h1M491 6.5h1M498 6.5h1M501 6.5h1M512 6.5h1M514 6.5h1M293 10.5h1M345 10.5h1M356 10.5h1M363 10.5h1M374 10.5h1M403 10.5h1M412 10.5h1M420 10.5h1M426 10.5h1M453 10.5h1" stroke="#186024"/>
<path d="M1 5.5h1M23 5.5h1M41 5.5h1M92 5.5h1M108 5.5h1M140 5.5h1M229 5.5h1M286 5.5h1M387 5.5h1M392 5.5h1" stroke="#0c5424"/>
<path d="M6 5.5h1M11 5.5h1M22 5.5h1M151 5.5h1M161 5.5h1M180 5.5h1M188 5.5h1M199 5.5h1M205 5.5h1M226 5.5h1M239 5.5h1M306 5.5h1M323 5.5h1M342 5.5h1M348 5.5h1M383 5.5h1M419 5.5h1M503 5.5h1M508 5.5h1M252 10.5h1M263 10.5h1M265 10.5h1M269 10.5h1M273 10.5h1M283 10.5h2M286 10.5h1M288 10.5h1M291 10.5h1M294 10.5h1M296 10.5h1M299 10.5h2M303 10.5h1M307 10.5h1M311 10.5h2M314 10.5h1M316 10.5h5M324 10.5h2M327 10.5h1M333 10.5h1M335 10.5h2M342 10.5h1M344 10.5h1M352 10.5h2M360 10.5h1M362 10.5h1M366 10.5h1M370 10.5h3M375 10.5h1M377 10.5h1M379 10.5h1M401 10.5h1" stroke="#186c24"/>
<path d="M7 5.5h1M174 5.5h1" stroke="#0c5418"/>
<path d="M26 5.5h1M56 5.5h1M128 5.5h1M175 5.5h1M187 5.5h1M227 5.5h1M236 5.5h1M265 5.5h1M298 5.5h1M311 5.5h1M317 5.5h1M350 5.5h1M362 5.5h1M400 5.5h1M457 5.5h1M462 5.5h1M485 5.5h1M510 5.5h1M68 6.5h1M86 6.5h1M256 6.5h1M318 6.5h1M340 6.5h1M408 6.5h1M454 6.5h1M459 6.5h1M471 6.5h1M405 10.5h1" stroke="#185424"/>
<path d="M123 5.5h1M440 9.5h1M342 11.5h1" stroke="#00cc30"/>
<path d="M269 5.5h1M496 5.5h1" stroke="#0c4818"/>
<path d="M433 5.5h1M96 9.5h1" stroke="#00e430"/>
<path d="M494 5.5h1" stroke="#00f030"/>
<path d="M1 6.5h1M12 6.5h1M20 6.5h1M23 6.5h1M25 6.5h2M43 6.5h1M47 6.5h1M80 6.5h1M89 6.5h1M91 6.5h1M102 6.5h2M117 6.5h1M122 6.5h1M126 6.5h1M152 6.5h1M158 6.5h2M169 6.5h1M173 6.5h1M180 6.5h1M184 6.5h1M198 6.5h2M201 6.5h1M217 6.5h1M250 6.5h1M254 6.5h2M263 6.5h1M290 6.5h1M302 6.5h1M311 6.5h1M313 6.5h1M315 6.5h1M317 6.5h1M323 6.5h1M325 6.5h1M330 6.5h1M341 6.5h1M361 6.5h1M367 6.5h1M372 6.5h2M380 6.5h1M398 6.5h1M423 6.5h1M427 6.5h1M434 6.5h1M475 6.5h1M495 6.5h1M499 6.5h1M508 6.5h1M511 6.5h1M515 6.5h3M381 10.5h1M385 10.5h2M389 10.5h1M391 10.5h1M399 10.5h1M407 10.5h2M411 10.5h1M413 10.5h1M415 10.5h2M418 10.5h1M422 10.5h4M430 10.5h3M447 10.5h1M452 10.5h1M458 10.5h1M463 10.5h1M468 10.5h1M484 10.5h1M486 10.5h1M501 10.5h1M509 10.5h1M514 10.5h1M520 10.5h1" stroke="#246c24"/>
<path d="M10 6.5h1M14 6.5h1M22 6.5h1M28 6.5h1M36 6.5h2M49 6.5h1M95 6.5h1M104 6.5h1M153 6.5h1M162 6.5h1M219 6.5h1M284 6.5h1M327 6.5h1M379 6.5h1M390 6.5h1M396 6.5h1M431 6.5h1M463 6.5h1M438 10.5h1M440 10.5h1M444 10.5h1M448 10.5h1M454 10.5h1M456 10.5h1M473 10.5h1M475 10.5h2M478 10.5h1M485 10.5h1M488 10.5h2M494 10.5h2M498 10.5h1M505 10.5h1M511 10.5h3M515 10.5h1M519 10.5h1M521 10.5h1" stroke="#246024"/>
<path d="M74 6.5h1M90 6.5h1M93 6.5h1M226 6.5h1M350 6.5h1M384 6.5h1" stroke="#185418"/>
<path d="M307 6.5h1M492 6.5h1M228 9.5h1" stroke="#00d830"/>
<path d="M0 10.5h1M7 10.5h2M13 10.5h1M16 10.5h2M19 10.5h1M22 10.5h1M27 10.5h2M32 10.5h1M45 10.5h3M51 10.5h1M57 10.5h1M9 13.5h1M16 13.5h1M35 13.5h1" stroke="#009030"/>
<path d="M1 10.5h1M41 10.5h1M397 10.5h1" stroke="#6c4830"/>
<path d="M6 10.5h1M24 10.5h1M55 10.5h1M83 10.5h1M90 10.5h1M165 10.5h1M175 10.5h1M188 10.5h1M201 10.5h2M220 10.5h1M290 10.5h1M301 10.5h1M359 10.5h1M383 10.5h2M396 10.5h1M428 10.5h1M459 10.5h1M487 10.5h1M503 10.5h1M522 10.5h1M145 11.5h1M148 11.5h1M211 11.5h2M259 11.5h1M261 11.5h1M263 11.5h1M286 11.5h1" stroke="#543c24"/>
<path d="M14 10.5h1M18 10.5h1M49 10.5h1M86 10.5h1M104 10.5h1M107 10.5h1M111 10.5h1M115 10.5h1M134 10.5h1M136 10.5h1M141 10.5h1M143 10.5h1M160 10.5h1M178 10.5h1M186 10.5h1M216 10.5h1M232 10.5h1M247 10.5h1M258 10.5h1M261 10.5h1M297 10.5h1M308 10.5h1M313 10.5h1M331 10.5h1M338 10.5h1M361 10.5h1M378 10.5h1M392 10.5h1M434 10.5h1M437 10.5h1M439 10.5h1M442 10.5h1M455 10.5h1M461 10.5h1M470 10.5h1M474 10.5h1M479 10.5h1M481 10.5h1M493 10.5h1M497 10.5h1M143 11.5h1M156 11.5h1M173 11.5h2M176 11.5h1M184 11.5h1M197 11.5h1M199 11.5h2M202 11.5h1M205 11.5h1M210 11.5h1M219 11.5h1M222 11.5h1M226 11.5h4M231 11.5h1M233 11.5h3M239 11.5h1M241 11.5h2M247 11.5h1M251 11.5h1M253 11.5h1M255 11.5h2M260 11.5h1M262 11.5h1M267 11.5h1M274 11.5h1M282 11.5h2M302 11.5h1M308 11.5h1M312 11.5h2" stroke="#543c30"/>
<path d="M31 10.5h1M34 10.5h1M37 10.5h1M44 10.5h1M59 10.5h1M63 10.5h1M81 10.5h1M92 10.5h1M101 10.5h1M109 10.5h1M118 10.5h1M121 10.5h2M135 10.5h1M153 10.5h1M158 10.5h1M177 10.5h1M181 10.5h1M194 10.5h1M206 10.5h1M208 10.5h1M214 10.5h1M219 10.5h1M221 10.5h1M228 10.5h1M230 10.5h1M234 10.5h1M240 10.5h2M254 10.5h1M262 10.5h1M266 10.5h1M278 10.5h2M305 10.5h1M323 10.5h1M339 10.5h1M350 10.5h1M354 10.5h1M358 10.5h1M367 10.5h3M373 10.5h1M394 10.5h1M409 10.5h2M419 10.5h1M429 10.5h1M433 10.5h1M441 10.5h1M445 10.5h1M450 10.5h1M464 10.5h1M477 10.5h1M483 10.5h1M490 10.5h1M496 10.5h1M500 10.5h1M506 10.5h1M508 10.5h1M182 11.5h1M185 11.5h1M224 11.5h1M230 11.5h1M232 11.5h1M236 11.5h1M240 11.5h1M246 11.5h1M249 11.5h2M252 11.5h1M258 11.5h1M271 11.5h2M276 11.5h2M292 11.5h1M310 11.5h1M337 11.5h1" stroke="#604830"/>
<path d="M33 10.5h1M2 13.5h1" stroke="#009c30"/>
<path d="M71 10.5h4M87 10.5h1M96 10.5h1M145 10.5h1M174 10.5h1" stroke="#0c9030"/>
<path d="M78 10.5h1M207 10.5h1M231 10.5h1M404 10.5h1M270 11.5h1M273 11.5h1M287 11.5h1M290 11.5h1M299 11.5h1M304 11.5h1M307 11.5h1M321 11.5h1M324 11.5h1M326 11.5h1M336 11.5h1M339 11.5h1M341 11.5h1M374 11.5h1M382 11.5h1M387 11.5h1M393 11.5h1M401 11.5h1M407 11.5h1M409 11.5h1M418 11.5h1" stroke="#483c24"/>
<path d="M79 10.5h1M84 10.5h2M91 10.5h1M94 10.5h1M97 10.5h1M99 10.5h1M105 10.5h1M114 10.5h1M116 10.5h1M119 10.5h1M128 10.5h1M131 10.5h3M138 10.5h1M144 10.5h1M150 10.5h3M170 10.5h1M179 10.5h1M199 10.5h1" stroke="#0c8424"/>
<path d="M82 10.5h1M108 10.5h1M125 10.5h1M130 10.5h1M155 10.5h1M163 10.5h2M171 10.5h1M190 10.5h1M209 10.5h1M212 10.5h1M218 10.5h1M223 10.5h1" stroke="#0c8430"/>
<path d="M88 10.5h2M95 10.5h1M98 10.5h1M102 10.5h1M106 10.5h1M110 10.5h1M112 10.5h2M117 10.5h1M120 10.5h1M123 10.5h1M127 10.5h1M129 10.5h1M139 10.5h1M142 10.5h1M147 10.5h2M154 10.5h1M159 10.5h1M161 10.5h2M168 10.5h2M172 10.5h2M182 10.5h3M187 10.5h1M191 10.5h3M196 10.5h1M198 10.5h1M200 10.5h1M217 10.5h1M222 10.5h1M224 10.5h1M226 10.5h1M229 10.5h1M236 10.5h2" stroke="#0c7824"/>
<path d="M93 10.5h1M100 10.5h1M329 10.5h1M337 10.5h1M398 10.5h1M482 10.5h1M492 10.5h1M77 11.5h1M81 11.5h2M86 11.5h2M89 11.5h2M94 11.5h1M101 11.5h2M105 11.5h1M107 11.5h1M109 11.5h1M114 11.5h1M117 11.5h2M122 11.5h1M125 11.5h2M129 11.5h1M132 11.5h2M137 11.5h1M144 11.5h1M146 11.5h1M150 11.5h3M157 11.5h4M165 11.5h1M167 11.5h5M175 11.5h1M177 11.5h3M186 11.5h2M189 11.5h2M192 11.5h3M196 11.5h1M198 11.5h1M201 11.5h1M204 11.5h1M206 11.5h3M214 11.5h1M220 11.5h2M225 11.5h1M243 11.5h1M245 11.5h1M75 13.5h1M78 13.5h1M117 13.5h2M149 13.5h1M185 13.5h1M255 13.5h1M334 13.5h1M369 13.5h1M429 13.5h1M444 13.5h1M483 13.5h2" stroke="#603c30"/>
<path d="M124 10.5h1M137 10.5h1M140 10.5h1M146 10.5h1M149 10.5h1M156 10.5h2M185 10.5h1M197 10.5h1M204 10.5h2M210 10.5h1M213 10.5h1M215 10.5h1M235 10.5h1M238 10.5h2M245 10.5h1M249 10.5h1" stroke="#0c6c24"/>
<path d="M225 10.5h1M250 10.5h1M276 10.5h1M289 10.5h1M322 10.5h1" stroke="#188430"/>
<path d="M233 10.5h1M242 10.5h3M246 10.5h1M248 10.5h1M253 10.5h1M255 10.5h1M257 10.5h1M259 10.5h2M264 10.5h1M267 10.5h2M270 10.5h2M275 10.5h1M280 10.5h1M285 10.5h1M287 10.5h1M292 10.5h1M298 10.5h1M306 10.5h1M309 10.5h2M315 10.5h1M328 10.5h1M334 10.5h1M349 10.5h1M364 10.5h1M376 10.5h1" stroke="#187824"/>
<path d="M256 10.5h1M274 10.5h1M281 10.5h1M295 10.5h1M302 10.5h1M304 10.5h1M326 10.5h1M340 10.5h2M343 10.5h1M347 10.5h1M365 10.5h1" stroke="#187830"/>
<path d="M332 10.5h1" stroke="#248430"/>
<path d="M357 10.5h1M380 10.5h1M387 10.5h1M393 10.5h1M400 10.5h1M417 10.5h1M421 10.5h1M451 10.5h1M480 10.5h1" stroke="#247830"/>
<path d="M427 10.5h1M435 10.5h1M449 10.5h1M460 10.5h1M465 10.5h3M469 10.5h1M491 10.5h1M507 10.5h1M517 10.5h1" stroke="#246c30"/>
<path d="M502 10.5h1M518 10.5h1" stroke="#245424"/>
<path d="M510 10.5h1M523 10.5h1" stroke="#306c30"/>
<path d="M516 10.5h1" stroke="#307830"/>
<path d="M0 11.5h1M3 11.5h1M13 11.5h4M18 11.5h1M21 11.5h1M41 11.5h2M47 11.5h2M55 11.5h1M57 11.5h1M59 11.5h1M61 11.5h2M66 11.5h2M70 11.5h2M73 11.5h1M78 11.5h1M83 11.5h1M91 11.5h1M96 11.5h1M100 11.5h1M104 11.5h1M112 11.5h1M115 11.5h1M124 11.5h1M48 13.5h1M123 13.5h1M179 13.5h1M332 13.5h1M405 13.5h1M490 13.5h1" stroke="#603030"/>
<path d="M1 11.5h1M53 11.5h1M149 11.5h1M279 11.5h1M300 11.5h1M367 11.5h1M414 11.5h2M511 11.5h1" stroke="#00c030"/>
<path d="M2 11.5h1M7 11.5h2M10 11.5h1M25 11.5h1M27 11.5h1M32 11.5h2M43 11.5h1M45 11.5h1M50 11.5h1M29 14.5h1M79 14.5h1M84 14.5h1M213 14.5h1M220 14.5h1M233 14.5h1M254 14.5h1M296 14.5h1M370 14.5h1M377 14.5h1M382 14.5h1M425 14.5h1M473 14.5h1M513 14.5h1" stroke="#6c3030"/>
<path d="M4 11.5h1M11 11.5h2M17 11.5h1M23 11.5h1M37 11.5h2M52 11.5h1M58 11.5h1M111 11.5h1M323 13.5h1M378 13.5h1" stroke="#603024"/>
<path d="M6 11.5h1M9 11.5h1M20 11.5h1M34 13.5h1M39 13.5h1M66 13.5h1M125 13.5h1M235 13.5h1M239 13.5h1M282 13.5h1M326 13.5h1M348 13.5h2M362 13.5h1M383 13.5h1M397 13.5h1M407 13.5h1M463 13.5h1" stroke="#783c30"/>
<path d="M24 11.5h1M29 11.5h1M31 11.5h1M34 11.5h1M39 11.5h1M46 11.5h1M51 11.5h1M56 11.5h1M60 11.5h1M63 11.5h3M68 11.5h2M72 11.5h1M74 11.5h1M76 11.5h1M84 11.5h1M99 11.5h1M116 11.5h1M120 11.5h1M123 11.5h1M127 11.5h2M135 11.5h2M153 11.5h1M3 13.5h1M17 13.5h1M21 13.5h1M31 13.5h1M76 13.5h1M81 13.5h1M87 13.5h2M91 13.5h1M115 13.5h1M124 13.5h1M136 13.5h2M151 13.5h1M153 13.5h1M161 13.5h1M168 13.5h3M186 13.5h2M189 13.5h1M197 13.5h1M204 13.5h1M215 13.5h1M222 13.5h1M233 13.5h1M270 13.5h1M281 13.5h1M294 13.5h2M299 13.5h1M305 13.5h1M310 13.5h1M316 13.5h1M322 13.5h1M324 13.5h1M327 13.5h1M340 13.5h1M342 13.5h1M350 13.5h1M359 13.5h1M363 13.5h1M402 13.5h1M411 13.5h1M420 13.5h1M423 13.5h1M434 13.5h2M454 13.5h1M458 13.5h1M462 13.5h1M473 13.5h1M499 13.5h1M515 13.5h2M518 13.5h1M520 13.5h1" stroke="#6c3c30"/>
<path d="M26 11.5h1M44 11.5h1M85 11.5h1M106 11.5h1M110 11.5h1M131 11.5h1M134 11.5h1M138 11.5h2M155 11.5h1M162 11.5h2M166 11.5h1M195 11.5h1M392 13.5h1" stroke="#543024"/>
<path d="M80 11.5h1M88 11.5h1M95 11.5h1M140 11.5h2M254 11.5h1M332 11.5h1M343 11.5h1M352 11.5h1M364 11.5h1M379 11.5h1M482 11.5h1" stroke="#00b430"/>
<path d="M172 11.5h1M264 11.5h1" stroke="#483024"/>
<path d="M266 11.5h1M268 11.5h2M278 11.5h1M280 11.5h1M284 11.5h2M291 11.5h1M293 11.5h2M296 11.5h1M301 11.5h1M303 11.5h1M305 11.5h2M309 11.5h1M311 11.5h1M314 11.5h3M318 11.5h2M322 11.5h2M325 11.5h1M327 11.5h4M333 11.5h2M344 11.5h2M348 11.5h4M353 11.5h1M357 11.5h5M363 11.5h1M365 11.5h1M369 11.5h1M372 11.5h2M383 11.5h2M390 11.5h1M395 11.5h1M405 11.5h1M413 11.5h1M416 11.5h1M425 11.5h2M430 11.5h1M434 11.5h1" stroke="#544830"/>
<path d="M320 11.5h1" stroke="#605430"/>
<path d="M331 11.5h1" stroke="#483c30"/>
<path d="M354 11.5h1M356 11.5h1M406 11.5h1M438 11.5h1M462 11.5h1" stroke="#3c3c24"/>
<path d="M362 11.5h1M368 11.5h1M375 11.5h1M378 11.5h1M388 11.5h2M391 11.5h1M396 11.5h1M400 11.5h1M402 11.5h3M408 11.5h1M410 11.5h1M417 11.5h1M419 11.5h2M422 11.5h1M424 11.5h1M427 11.5h2M432 11.5h1M439 11.5h4M444 11.5h3M451 11.5h1M455 11.5h3M464 11.5h2M467 11.5h1M471 11.5h2M476 11.5h1M481 11.5h1M485 11.5h1M502 11.5h2M521 11.5h1" stroke="#484830"/>
<path d="M376 11.5h2M399 11.5h1M421 11.5h1M429 11.5h1M435 11.5h1M437 11.5h1M443 11.5h1M447 11.5h1M460 11.5h2M463 11.5h1M473 11.5h1M493 11.5h1M508 11.5h1" stroke="#545430"/>
<path d="M411 11.5h2M423 11.5h1M448 11.5h1M452 11.5h1M470 11.5h1" stroke="#484824"/>
<path d="M458 11.5h1M469 11.5h1M479 11.5h1M483 11.5h2M490 11.5h2M496 11.5h2M499 11.5h1M504 11.5h1M509 11.5h2M512 11.5h3M516 11.5h1M518 11.5h2" stroke="#485430"/>
<path d="M489 11.5h1M506 11.5h2M515 11.5h1M520 11.5h1" stroke="#3c4824"/>
<path d="M501 11.5h1" stroke="#546030"/>
<path d="M1 12.5h1M14 12.5h2M20 12.5h1M44 12.5h1M49 12.5h1M70 12.5h1M101 12.5h1M136 12.5h1M138 12.5h1M140 12.5h1M152 12.5h1M161 12.5h1M168 12.5h1M188 12.5h1M194 12.5h2M198 12.5h2M247 12.5h1M252 12.5h1M256 12.5h1M264 12.5h1M275 12.5h1M283 12.5h1M285 12.5h2M296 12.5h1M305 12.5h1M315 12.5h2M324 12.5h1M331 12.5h1M340 12.5h1M347 12.5h1M380 12.5h1M382 12.5h1M389 12.5h1M421 12.5h1M431 12.5h1M444 12.5h2M461 12.5h1M463 12.5h1M468 12.5h1M477 12.5h1M498 12.5h1M508 12.5h1M520 12.5h1" stroke="#3c6c30"/>
<path d="M2 12.5h1M4 12.5h1M6 12.5h1M9 12.5h1M12 12.5h1M17 12.5h2M22 12.5h1M26 12.5h1M41 12.5h1M45 12.5h1M56 12.5h1M67 12.5h2M77 12.5h2M80 12.5h1M84 12.5h2M87 12.5h1M90 12.5h2M95 12.5h4M102 12.5h1M105 12.5h2M110 12.5h1M114 12.5h1M120 12.5h4M127 12.5h1M131 12.5h1M137 12.5h1M150 12.5h1M154 12.5h1M156 12.5h1M158 12.5h3M169 12.5h1M171 12.5h1M174 12.5h1M177 12.5h2M209 12.5h1M215 12.5h1" stroke="#903c30"/>
<path d="M5 12.5h1M8 12.5h1M16 12.5h1M23 12.5h1M40 12.5h1M46 12.5h2M59 12.5h1M61 12.5h1M64 12.5h1M74 12.5h1" stroke="#843c30"/>
<path d="M10 12.5h2M19 12.5h1M21 12.5h1M51 12.5h2M57 12.5h1M62 12.5h1M65 12.5h1M71 12.5h1M73 12.5h1M75 12.5h2M79 12.5h1M82 12.5h1M93 12.5h2M99 12.5h2M103 12.5h2M116 12.5h3M125 12.5h1M130 12.5h1M132 12.5h1M135 12.5h1M146 12.5h4M153 12.5h1M162 12.5h1M165 12.5h1M167 12.5h1M173 12.5h1M185 12.5h1M192 12.5h1M206 12.5h1M210 12.5h3M214 12.5h1M216 12.5h1M223 12.5h1M227 12.5h1M233 12.5h1M253 12.5h1M266 12.5h1M268 12.5h1M280 12.5h1M282 12.5h1M287 12.5h1M289 12.5h1M295 12.5h1M298 12.5h1M303 12.5h1M313 12.5h1M320 12.5h2M333 12.5h2M348 12.5h1M354 12.5h2M357 12.5h1M359 12.5h1M363 12.5h2M385 12.5h1M412 12.5h2M422 12.5h1M425 12.5h1M446 12.5h1M478 12.5h1M496 12.5h1M12 14.5h1M32 14.5h1M37 14.5h1M46 14.5h1M56 14.5h1M66 14.5h1M70 14.5h1M78 14.5h1M90 14.5h1M98 14.5h1M109 14.5h1M127 14.5h1M138 14.5h1M153 14.5h1M171 14.5h1M309 14.5h1M313 14.5h1M319 14.5h1M324 14.5h1M327 14.5h1M356 14.5h1M404 14.5h1M408 14.5h1M435 14.5h1M439 14.5h1M445 14.5h1M450 14.5h1M458 14.5h2M485 14.5h1M494 14.5h1M498 14.5h1M510 14.5h1M518 14.5h1M43 15.5h1M56 15.5h1M67 15.5h1M69 15.5h1M88 15.5h2M113 15.5h1M116 15.5h1M118 15.5h1M124 15.5h1M127 15.5h1M131 15.5h1M148 15.5h2M153 15.5h1M157 15.5h1M160 15.5h1M170 15.5h1M173 15.5h1M176 15.5h1M217 15.5h1M256 15.5h1M283 15.5h1M299 15.5h1M310 15.5h1M334 15.5h1M344 15.5h1M352 15.5h1M363 15.5h1M373 15.5h2M377 15.5h1M389 15.5h1M435 15.5h1M447 15.5h1M454 15.5h1M475 15.5h1M489 15.5h1M495 15.5h1M515 15.5h1M518 15.5h1" stroke="#843030"/>
<path d="M13 12.5h1M63 12.5h1M83 12.5h1M86 12.5h1M108 12.5h1M112 12.5h1M129 12.5h1M172 12.5h1M183 12.5h1M186 12.5h1M203 12.5h1M221 12.5h2M236 12.5h1M258 12.5h1M279 12.5h1M284 12.5h1M290 12.5h1M301 12.5h1M317 12.5h1M330 12.5h1M360 12.5h1M372 12.5h1M376 12.5h1M383 12.5h1M401 12.5h1M441 12.5h1M488 12.5h1M504 12.5h1" stroke="#3c7830"/>
<path d="M24 12.5h1M34 12.5h1M5 13.5h4M11 13.5h1M19 13.5h1M22 13.5h2M25 13.5h1M28 13.5h1M33 13.5h1M36 13.5h1M38 13.5h1M40 13.5h1M43 13.5h1" stroke="#008430"/>
<path d="M25 12.5h1M35 12.5h1M60 12.5h1M66 12.5h1M69 12.5h1M72 12.5h1M92 12.5h1M113 12.5h1M126 12.5h1M128 12.5h1M134 12.5h1M141 12.5h1" stroke="#9c3c3c"/>
<path d="M28 12.5h1M293 12.5h1M323 12.5h1M349 12.5h1M381 12.5h1M390 12.5h1M396 12.5h1M418 12.5h1M449 12.5h1M506 12.5h1M512 12.5h1" stroke="#3c6024"/>
<path d="M38 12.5h1M81 12.5h1M423 12.5h1" stroke="#3c6c24"/>
<path d="M39 12.5h1M43 12.5h1M48 12.5h1" stroke="#903c3c"/>
<path d="M50 12.5h1M124 12.5h1M142 12.5h1M180 12.5h1M219 12.5h1M271 12.5h1M309 12.5h1M495 12.5h1" stroke="#306024"/>
<path d="M88 12.5h2M109 12.5h1M119 12.5h1M143 12.5h1M181 12.5h1M187 12.5h1M208 12.5h1M0 14.5h2M7 14.5h1M10 14.5h2M13 14.5h2M16 14.5h1M30 14.5h1M33 14.5h1M36 14.5h1M39 14.5h1M50 14.5h1M59 14.5h1M63 14.5h2M81 14.5h1M88 14.5h1M96 14.5h1M107 14.5h1M112 14.5h1M128 14.5h1M130 14.5h1M136 14.5h1M139 14.5h1M167 14.5h2M176 14.5h1M178 14.5h2M189 14.5h1M197 14.5h2M206 14.5h2M211 14.5h1M214 14.5h1M230 14.5h1M236 14.5h1M242 14.5h1M251 14.5h1M257 14.5h1M266 14.5h1M268 14.5h3M273 14.5h1M288 14.5h2M291 14.5h1M298 14.5h1M320 14.5h1M348 14.5h1M354 14.5h1M359 14.5h1M365 14.5h1M367 14.5h1M373 14.5h2M376 14.5h1M392 14.5h1M398 14.5h2M409 14.5h2M418 14.5h1M432 14.5h1M434 14.5h1M437 14.5h1M444 14.5h1M447 14.5h1M454 14.5h1M462 14.5h1M472 14.5h1M474 14.5h1M480 14.5h1M484 14.5h1M492 14.5h1M500 14.5h1M514 14.5h1" stroke="#783030"/>
<path d="M107 12.5h1M139 12.5h1M145 12.5h1M151 12.5h1M155 12.5h1M163 12.5h2M170 12.5h1M176 12.5h1M179 12.5h1M184 12.5h1M190 12.5h2M196 12.5h2M202 12.5h1M204 12.5h2M207 12.5h1M213 12.5h1M217 12.5h1M224 12.5h1M226 12.5h1M229 12.5h1M231 12.5h2M234 12.5h1M238 12.5h5M244 12.5h2M249 12.5h1M251 12.5h1M257 12.5h1M261 12.5h3M267 12.5h1M269 12.5h2M272 12.5h2M277 12.5h2M281 12.5h1M291 12.5h2M294 12.5h1M297 12.5h1M302 12.5h1M304 12.5h1M306 12.5h3M310 12.5h1M312 12.5h1M314 12.5h1M318 12.5h2M327 12.5h3M335 12.5h2M339 12.5h1M342 12.5h2M350 12.5h2M353 12.5h1M356 12.5h1M365 12.5h1M367 12.5h5M374 12.5h1M379 12.5h1M386 12.5h3M393 12.5h3M397 12.5h2M400 12.5h1M403 12.5h1M406 12.5h2M409 12.5h1M414 12.5h2M420 12.5h1M427 12.5h1M429 12.5h2M433 12.5h8M443 12.5h1M450 12.5h1M453 12.5h1M458 12.5h1M462 12.5h1M466 12.5h2M470 12.5h2M474 12.5h1M480 12.5h1M482 12.5h1M487 12.5h1M497 12.5h1M499 12.5h1M503 12.5h1M505 12.5h1M509 12.5h1M331 14.5h1M491 14.5h1M11 15.5h1M13 15.5h1M24 15.5h1M35 15.5h1M47 15.5h1M52 15.5h1M54 15.5h1M64 15.5h1M78 15.5h1M80 15.5h1M83 15.5h2M86 15.5h1M92 15.5h1M98 15.5h1M104 15.5h1M108 15.5h1M110 15.5h3M114 15.5h1M122 15.5h1M132 15.5h1M151 15.5h2M159 15.5h1M161 15.5h1M165 15.5h1M177 15.5h1M192 15.5h1M211 15.5h2M214 15.5h1M227 15.5h1M229 15.5h1M232 15.5h1M234 15.5h1M238 15.5h1M243 15.5h1M250 15.5h1M255 15.5h1M260 15.5h2M286 15.5h2M289 15.5h1M293 15.5h2M298 15.5h1M315 15.5h1M318 15.5h1M324 15.5h1M326 15.5h1M328 15.5h1M375 15.5h1M412 15.5h1M419 15.5h1M423 15.5h1M427 15.5h1M432 15.5h1M442 15.5h1M448 15.5h1M450 15.5h1M456 15.5h1M458 15.5h1M478 15.5h1M484 15.5h2M492 15.5h1M496 15.5h1" stroke="#903030"/>
<path d="M111 12.5h1M133 12.5h1M144 12.5h1M166 12.5h1M175 12.5h1M182 12.5h1M189 12.5h1M193 12.5h1M201 12.5h1M218 12.5h1M220 12.5h1M225 12.5h1M228 12.5h1M243 12.5h1M248 12.5h1M250 12.5h1M255 12.5h1M259 12.5h2M265 12.5h1M276 12.5h1M311 12.5h1M325 12.5h1M332 12.5h1M337 12.5h1M345 12.5h2M358 12.5h1M366 12.5h1M375 12.5h1M8 15.5h1M23 15.5h1M65 15.5h1M107 15.5h1M125 15.5h2M178 15.5h1M181 15.5h1M194 15.5h1M206 15.5h1M222 15.5h1M231 15.5h1M235 15.5h1M421 15.5h1" stroke="#9c3c30"/>
<path d="M115 12.5h1M235 12.5h1M237 12.5h1M254 12.5h1M322 12.5h1M361 12.5h1M306 15.5h1M333 15.5h1M449 15.5h1M471 15.5h1" stroke="#783024"/>
<path d="M157 12.5h1M402 12.5h1" stroke="#487830"/>
<path d="M200 12.5h1M230 12.5h1M246 12.5h1M274 12.5h1M299 12.5h1M362 12.5h1M391 12.5h1M404 12.5h2M426 12.5h1M199 15.5h1M203 15.5h1M405 15.5h1M459 15.5h1M476 15.5h1" stroke="#a83c3c"/>
<path d="M288 12.5h1M502 12.5h1M513 12.5h1M523 12.5h1" stroke="#b43c3c"/>
<path d="M300 12.5h1M326 12.5h1M338 12.5h1M341 12.5h1M344 12.5h1M352 12.5h1M373 12.5h1M384 12.5h1M392 12.5h1M399 12.5h1M410 12.5h2M416 12.5h2M419 12.5h1M428 12.5h1M432 12.5h1M442 12.5h1M447 12.5h1M454 12.5h2M457 12.5h1M459 12.5h2M464 12.5h2M469 12.5h1M472 12.5h1M475 12.5h1M481 12.5h1M483 12.5h3M490 12.5h5M500 12.5h2M510 12.5h2M518 12.5h2M522 12.5h1M15 15.5h1M19 15.5h1M40 15.5h1M48 15.5h1M55 15.5h1M58 15.5h1M63 15.5h1M103 15.5h1M183 15.5h1M187 15.5h1M207 15.5h1M224 15.5h1M236 15.5h1M270 15.5h1M277 15.5h1M325 15.5h1M329 15.5h1M353 15.5h1M386 15.5h1M407 15.5h1M420 15.5h1M430 15.5h1M439 15.5h1M453 15.5h1M462 15.5h1M507 15.5h1M509 15.5h1M520 15.5h1" stroke="#9c3030"/>
<path d="M377 12.5h2M408 12.5h1M424 12.5h1M448 12.5h1M452 12.5h1M476 12.5h1M489 12.5h1M507 12.5h1M515 12.5h1M521 12.5h1M79 15.5h1" stroke="#a83c30"/>
<path d="M451 12.5h1M456 12.5h1M473 12.5h1M479 12.5h1M514 12.5h1M158 15.5h1" stroke="#843024"/>
<path d="M486 12.5h1M516 12.5h2" stroke="#a83030"/>
<path d="M0 13.5h1M13 13.5h1M37 13.5h1M41 13.5h1M44 13.5h1M62 13.5h1M77 13.5h1M82 13.5h1M89 13.5h1M99 13.5h1M102 13.5h2M110 13.5h1M122 13.5h1M129 13.5h1M138 13.5h1M144 13.5h1M147 13.5h1M156 13.5h1M160 13.5h1M162 13.5h1M164 13.5h2M172 13.5h2M182 13.5h1M192 13.5h1M198 13.5h1M206 13.5h3M213 13.5h1M220 13.5h1M232 13.5h1M238 13.5h1M251 13.5h3M257 13.5h1M271 13.5h1M275 13.5h1M283 13.5h1M286 13.5h3M301 13.5h1M304 13.5h1M308 13.5h2M318 13.5h1M329 13.5h2M336 13.5h1M338 13.5h1M341 13.5h1M343 13.5h2M347 13.5h1M365 13.5h1M368 13.5h1M376 13.5h1M381 13.5h1M389 13.5h1M394 13.5h1M396 13.5h1M401 13.5h1M404 13.5h1M408 13.5h1M414 13.5h1M417 13.5h1M422 13.5h1M424 13.5h3M430 13.5h2M433 13.5h1M441 13.5h1M446 13.5h5M452 13.5h2M455 13.5h1M467 13.5h1M475 13.5h1M477 13.5h1M489 13.5h1M496 13.5h1M501 13.5h1M504 13.5h3M508 13.5h2M511 13.5h3M21 14.5h1M38 14.5h1M58 14.5h1M75 14.5h1M82 14.5h1M99 14.5h1M108 14.5h1M110 14.5h1M117 14.5h1M122 14.5h1M129 14.5h1M154 14.5h1M158 14.5h1M169 14.5h1M175 14.5h1M183 14.5h2M188 14.5h1M200 14.5h1M202 14.5h1M222 14.5h2M227 14.5h1M235 14.5h1M241 14.5h1M305 14.5h2M314 14.5h1M323 14.5h1M328 14.5h1M330 14.5h1M332 14.5h1M346 14.5h1M353 14.5h1M368 14.5h1M401 14.5h1M426 14.5h1M440 14.5h1M465 14.5h1M481 14.5h1M483 14.5h1M503 14.5h1M10 15.5h1M33 15.5h2M36 15.5h1M61 15.5h1M70 15.5h1M82 15.5h1M90 15.5h1M117 15.5h1M121 15.5h1M123 15.5h1M145 15.5h1M184 15.5h1M188 15.5h1M190 15.5h1M193 15.5h1M223 15.5h1M240 15.5h1M254 15.5h1M264 15.5h1M271 15.5h1M312 15.5h1M322 15.5h1M327 15.5h1M330 15.5h1M337 15.5h2M340 15.5h1M380 15.5h1M387 15.5h1M392 15.5h1M395 15.5h1M401 15.5h1M426 15.5h1M436 15.5h1M440 15.5h1M446 15.5h1M466 15.5h1M474 15.5h1M477 15.5h1M488 15.5h1M505 15.5h1M521 15.5h1" stroke="#e43030"/>
<path d="M1 13.5h1M18 13.5h1M20 13.5h1M24 13.5h1M45 13.5h2M50 13.5h3M58 13.5h2M61 13.5h1M65 13.5h1M70 13.5h2M79 13.5h2M83 13.5h1M94 13.5h1M101 13.5h1M105 13.5h1M108 13.5h1M112 13.5h1M119 13.5h1M121 13.5h1M127 13.5h1M140 13.5h1M145 13.5h1M155 13.5h1M157 13.5h1M159 13.5h1M163 13.5h1M166 13.5h1M174 13.5h2M177 13.5h1M191 13.5h1M193 13.5h2M196 13.5h1M199 13.5h1M210 13.5h1M212 13.5h1M214 13.5h1M217 13.5h2M221 13.5h1M229 13.5h1M234 13.5h1M240 13.5h1M244 13.5h2M247 13.5h4M260 13.5h3M264 13.5h1M268 13.5h2M273 13.5h2M276 13.5h1M278 13.5h2M285 13.5h1M303 13.5h1M306 13.5h1M312 13.5h1M315 13.5h1M321 13.5h1M325 13.5h1M333 13.5h1M335 13.5h1M337 13.5h1M354 13.5h1M356 13.5h2M361 13.5h1M371 13.5h3M384 13.5h1M387 13.5h2M391 13.5h1M398 13.5h1M410 13.5h1M413 13.5h1M415 13.5h2M436 13.5h1M451 13.5h1M456 13.5h1M460 13.5h1M466 13.5h1M470 13.5h2M479 13.5h1M481 13.5h1M485 13.5h3M491 13.5h2M495 13.5h1M497 13.5h1M500 13.5h1M503 13.5h1M507 13.5h1M510 13.5h1M519 13.5h1M521 13.5h1M5 14.5h1M9 14.5h1M15 14.5h1M17 14.5h1M25 14.5h1M44 14.5h2M48 14.5h2M51 14.5h1M54 14.5h2M62 14.5h1M67 14.5h1M69 14.5h1M72 14.5h1M74 14.5h1M76 14.5h1M80 14.5h1M83 14.5h1M91 14.5h1M93 14.5h1M97 14.5h1M113 14.5h3M119 14.5h1M121 14.5h1M125 14.5h2M132 14.5h1M141 14.5h1M144 14.5h1M147 14.5h4M159 14.5h1M161 14.5h1M170 14.5h1M172 14.5h1M174 14.5h1M191 14.5h1M193 14.5h1M204 14.5h2M208 14.5h3M216 14.5h1M225 14.5h2M229 14.5h1M231 14.5h2M237 14.5h1M245 14.5h3M250 14.5h1M256 14.5h1M274 14.5h3M279 14.5h1M283 14.5h4M293 14.5h1M302 14.5h1M304 14.5h1M308 14.5h1M310 14.5h2M315 14.5h1M317 14.5h1M325 14.5h2M334 14.5h1M344 14.5h1M355 14.5h1M358 14.5h1M360 14.5h1M366 14.5h1M369 14.5h1M384 14.5h1M386 14.5h1M388 14.5h2M393 14.5h2M396 14.5h2M419 14.5h1M424 14.5h1M429 14.5h2M433 14.5h1M436 14.5h1M438 14.5h1M446 14.5h1M451 14.5h1M461 14.5h1M463 14.5h1M468 14.5h1M471 14.5h1M478 14.5h1M493 14.5h1M511 14.5h1M523 14.5h1M4 15.5h2M9 15.5h1M21 15.5h1M27 15.5h1M37 15.5h2M45 15.5h1M59 15.5h1M62 15.5h1M66 15.5h1M68 15.5h1M77 15.5h1M87 15.5h1M93 15.5h2M96 15.5h1M99 15.5h1M109 15.5h1M128 15.5h1M130 15.5h1M133 15.5h1M136 15.5h1M138 15.5h4M144 15.5h1M147 15.5h1M154 15.5h1M166 15.5h2M179 15.5h1M200 15.5h1M210 15.5h1M213 15.5h1M219 15.5h1M239 15.5h1M241 15.5h2M246 15.5h1M249 15.5h1M251 15.5h1M265 15.5h1M267 15.5h1M272 15.5h1M274 15.5h1M280 15.5h1M282 15.5h1M284 15.5h1M296 15.5h1M302 15.5h2M309 15.5h1M316 15.5h1M323 15.5h1M335 15.5h1M348 15.5h2M359 15.5h2M362 15.5h1M365 15.5h1M369 15.5h1M378 15.5h1M388 15.5h1M400 15.5h1M402 15.5h1M404 15.5h1M408 15.5h1M411 15.5h1M413 15.5h1M415 15.5h4M434 15.5h1M438 15.5h1M441 15.5h1M455 15.5h1M457 15.5h1M460 15.5h2M468 15.5h3M472 15.5h2M487 15.5h1M490 15.5h2M493 15.5h1M499 15.5h1M501 15.5h1M514 15.5h1M516 15.5h1" stroke="#d83030"/>
<path d="M4 13.5h1M10 13.5h1M14 13.5h1M26 13.5h1M29 13.5h1" stroke="#007830"/>
<path d="M12 13.5h1M57 13.5h1M73 13.5h2M86 13.5h1M92 13.5h2M106 13.5h2M116 13.5h1M139 13.5h1M150 13.5h1M176 13.5h1M200 13.5h1M202 13.5h1M227 13.5h1M242 13.5h1M267 13.5h1M272 13.5h1M297 13.5h1M307 13.5h1M320 13.5h1M328 13.5h1M345 13.5h1M377 13.5h1M382 13.5h1M386 13.5h1M421 13.5h1M522 13.5h1M26 14.5h1M34 14.5h1M57 14.5h1M68 14.5h1M102 14.5h1M106 14.5h1M111 14.5h1M120 14.5h1M134 14.5h1M152 14.5h1M156 14.5h1M163 14.5h1M185 14.5h1M192 14.5h1M196 14.5h1M199 14.5h1M201 14.5h1M203 14.5h1M221 14.5h1M252 14.5h1M255 14.5h1M278 14.5h1M299 14.5h1M301 14.5h1M307 14.5h1M318 14.5h1M338 14.5h1M341 14.5h1M362 14.5h1M364 14.5h1M400 14.5h1M403 14.5h1M431 14.5h1M448 14.5h1M460 14.5h1M475 14.5h1M477 14.5h1M486 14.5h1M496 14.5h1M504 14.5h1M1 15.5h3M6 15.5h1M12 15.5h1M25 15.5h1M29 15.5h1M44 15.5h1M46 15.5h1M71 15.5h1M73 15.5h1M75 15.5h2M85 15.5h1M95 15.5h1M106 15.5h1M119 15.5h1M135 15.5h1M137 15.5h1M143 15.5h1M155 15.5h2M168 15.5h2M171 15.5h2M180 15.5h1M185 15.5h1M196 15.5h3M201 15.5h2M205 15.5h1M209 15.5h1M216 15.5h1M221 15.5h1M226 15.5h1M228 15.5h1M245 15.5h1M252 15.5h1M259 15.5h1M263 15.5h1M268 15.5h2M273 15.5h1M276 15.5h1M292 15.5h1M297 15.5h1M305 15.5h1M314 15.5h1M320 15.5h1M332 15.5h1M345 15.5h2M350 15.5h1M354 15.5h1M358 15.5h1M361 15.5h1M364 15.5h1M366 15.5h1M370 15.5h1M376 15.5h1M379 15.5h1M393 15.5h2M399 15.5h1M406 15.5h1M410 15.5h1M424 15.5h1M451 15.5h1M465 15.5h1M467 15.5h1M481 15.5h1M483 15.5h1M503 15.5h2M508 15.5h1M512 15.5h1M519 15.5h1" stroke="#c02424"/>
<path d="M15 13.5h1M49 13.5h1M56 13.5h1M63 13.5h2M68 13.5h1M85 13.5h1M90 13.5h1M95 13.5h1M97 13.5h1M104 13.5h1M120 13.5h1M130 13.5h2M133 13.5h1M135 13.5h1M141 13.5h3M158 13.5h1M167 13.5h1M171 13.5h1M178 13.5h1M180 13.5h1M188 13.5h1M195 13.5h1M201 13.5h1M205 13.5h1M211 13.5h1M225 13.5h1M237 13.5h1M246 13.5h1M256 13.5h1M258 13.5h1M266 13.5h1M277 13.5h1M289 13.5h2M293 13.5h1M298 13.5h1M311 13.5h1M314 13.5h1M319 13.5h1M331 13.5h1M346 13.5h1M351 13.5h2M366 13.5h2M379 13.5h2M385 13.5h1M390 13.5h1M439 13.5h1M442 13.5h1M457 13.5h1M459 13.5h1M472 13.5h1M480 13.5h1M517 13.5h1M2 14.5h2M6 14.5h1M8 14.5h1M20 14.5h1M22 14.5h1M24 14.5h1M28 14.5h1M31 14.5h1M35 14.5h1M40 14.5h1M53 14.5h1M60 14.5h2M73 14.5h1M77 14.5h1M85 14.5h1M87 14.5h1M89 14.5h1M92 14.5h1M94 14.5h1M104 14.5h1M116 14.5h1M118 14.5h1M133 14.5h1M137 14.5h1M146 14.5h1M151 14.5h1M160 14.5h1M165 14.5h1M173 14.5h1M177 14.5h1M180 14.5h3M186 14.5h1M194 14.5h2M215 14.5h1M218 14.5h1M224 14.5h1M228 14.5h1M240 14.5h1M243 14.5h2M253 14.5h1M258 14.5h1M260 14.5h1M262 14.5h1M264 14.5h2M267 14.5h1M272 14.5h1M277 14.5h1M281 14.5h1M287 14.5h1M290 14.5h1M292 14.5h1M294 14.5h1M297 14.5h1M303 14.5h1M321 14.5h2M336 14.5h1M339 14.5h2M342 14.5h2M345 14.5h1M347 14.5h1M349 14.5h1M351 14.5h1M357 14.5h1M361 14.5h1M363 14.5h1M375 14.5h1M378 14.5h1M380 14.5h1M383 14.5h1M391 14.5h1M395 14.5h1M405 14.5h3M411 14.5h1M413 14.5h3M420 14.5h1M427 14.5h2M441 14.5h1M449 14.5h1M452 14.5h1M455 14.5h3M464 14.5h1M466 14.5h1M469 14.5h2M476 14.5h1M482 14.5h1M487 14.5h1M489 14.5h2M495 14.5h1M497 14.5h1M501 14.5h1M506 14.5h4M512 14.5h1M515 14.5h1M517 14.5h1M521 14.5h1M14 15.5h1M18 15.5h1M20 15.5h1M28 15.5h1M32 15.5h1M49 15.5h1M60 15.5h1M72 15.5h1M74 15.5h1M97 15.5h1M100 15.5h1M146 15.5h1M191 15.5h1M215 15.5h1M253 15.5h1M262 15.5h1M278 15.5h1M308 15.5h1M317 15.5h1M343 15.5h1M368 15.5h1M384 15.5h1M429 15.5h1" stroke="#cc3030"/>
<path d="M30 13.5h1M47 13.5h1M100 13.5h1M132 13.5h1M146 13.5h1M353 13.5h1M427 13.5h1M438 13.5h1" stroke="#783c3c"/>
<path d="M53 13.5h2M67 13.5h1M72 13.5h1M84 13.5h1M98 13.5h1M111 13.5h1M134 13.5h1M148 13.5h1M152 13.5h1M154 13.5h1M181 13.5h1M184 13.5h1M190 13.5h1M203 13.5h1M209 13.5h1M219 13.5h1M223 13.5h1M231 13.5h1M236 13.5h1M241 13.5h1M254 13.5h1M280 13.5h1M292 13.5h1M296 13.5h1M302 13.5h1M339 13.5h1M355 13.5h1M358 13.5h1M364 13.5h1M370 13.5h1M375 13.5h1M399 13.5h1M406 13.5h1M409 13.5h1M419 13.5h1M428 13.5h1M432 13.5h1M437 13.5h1M440 13.5h1M443 13.5h1M465 13.5h1M468 13.5h1M474 13.5h1M478 13.5h1M482 13.5h1M488 13.5h1M498 13.5h1M502 13.5h1M514 13.5h1M95 14.5h1M101 14.5h1M135 14.5h1M145 14.5h1M187 14.5h1M190 14.5h1M212 14.5h1M217 14.5h1M263 14.5h1M300 14.5h1M337 14.5h1M371 14.5h1M379 14.5h1M390 14.5h1M402 14.5h1M522 14.5h1M16 15.5h1M42 15.5h1M186 15.5h1M220 15.5h1M230 15.5h1M258 15.5h1M295 15.5h1M304 15.5h1M319 15.5h1M414 15.5h1M464 15.5h1M510 15.5h1" stroke="#f03030"/>
<path d="M55 13.5h1" stroke="#84483c"/>
<path d="M60 13.5h1M69 13.5h1M96 13.5h1M109 13.5h1M126 13.5h1M183 13.5h1M224 13.5h1M226 13.5h1M243 13.5h1M291 13.5h1M317 13.5h1M27 14.5h1M47 14.5h1M103 14.5h1M143 14.5h1M157 14.5h1M162 14.5h1M166 14.5h1M312 14.5h1M316 14.5h1M350 14.5h1M381 14.5h1M385 14.5h1M387 14.5h1M423 14.5h1M442 14.5h2M453 14.5h1M467 14.5h1M488 14.5h1M499 14.5h1M502 14.5h1M519 14.5h2M39 15.5h1M50 15.5h2M91 15.5h1M101 15.5h1M182 15.5h1M189 15.5h1M244 15.5h1M279 15.5h1M341 15.5h1M356 15.5h1M396 15.5h1M409 15.5h1M422 15.5h1M437 15.5h1M443 15.5h1M452 15.5h1M494 15.5h1M517 15.5h1M523 15.5h1" stroke="#b42424"/>
<path d="M113 13.5h1M216 13.5h1M230 13.5h1M265 13.5h1M284 13.5h1M300 13.5h1M393 13.5h1M395 13.5h1M403 13.5h1M412 13.5h1M461 13.5h1M464 13.5h1M469 13.5h1M476 13.5h1M523 13.5h1M7 15.5h1M17 15.5h1M22 15.5h1M26 15.5h1M30 15.5h2M41 15.5h1M53 15.5h1M57 15.5h1M81 15.5h1M102 15.5h1M105 15.5h1M115 15.5h1M120 15.5h1M129 15.5h1M134 15.5h1M142 15.5h1M150 15.5h1M162 15.5h3M174 15.5h2M195 15.5h1M204 15.5h1M218 15.5h1M225 15.5h1M237 15.5h1M247 15.5h1M257 15.5h1M266 15.5h1M275 15.5h1M281 15.5h1M288 15.5h1M290 15.5h2M300 15.5h2M307 15.5h1M311 15.5h1M313 15.5h1M321 15.5h1M331 15.5h1M336 15.5h1M339 15.5h1M342 15.5h1M347 15.5h1M351 15.5h1M355 15.5h1M357 15.5h1M367 15.5h1M371 15.5h2M381 15.5h3M385 15.5h1M390 15.5h2M397 15.5h2M403 15.5h1M425 15.5h1M428 15.5h1M431 15.5h1M433 15.5h1M444 15.5h2M463 15.5h1M479 15.5h2M482 15.5h1M486 15.5h1M497 15.5h2M502 15.5h1M506 15.5h1M511 15.5h1M513 15.5h1M522 15.5h1" stroke="#cc2424"/>
<path d="M114 13.5h1M128 13.5h1M259 13.5h1M263 13.5h1M418 13.5h1M493 13.5h1" stroke="#78483c"/>
<path d="M228 13.5h1M313 13.5h1M374 13.5h1M400 13.5h1M445 13.5h1M494 13.5h1M234 14.5h1M285 15.5h1M500 15.5h1" stroke="#fc3030"/>
<path d="M360 13.5h1" stroke="#ff3c3c"/>
<path d="M4 14.5h1M0 15.5h1M233 15.5h1M248 15.5h1" stroke="#a82424"/>
<path d="M18 14.5h2M23 14.5h1M41 14.5h3M65 14.5h1M71 14.5h1M86 14.5h1M100 14.5h1M124 14.5h1M131 14.5h1M140 14.5h1M142 14.5h1M155 14.5h1M164 14.5h1M238 14.5h2M248 14.5h2M271 14.5h1M295 14.5h1M352 14.5h1M417 14.5h1M422 14.5h1M479 14.5h1" stroke="#6c2424"/>
<path d="M52 14.5h1M219 14.5h1" stroke="#fc3c3c"/>
<path d="M105 14.5h1M123 14.5h1M259 14.5h1M261 14.5h1M280 14.5h1M282 14.5h1M333 14.5h1M335 14.5h1M372 14.5h1M416 14.5h1M421 14.5h1M505 14.5h1" stroke="#c03030"/>
<path d="M329 14.5h1M412 14.5h1M516 14.5h1" stroke="#602424"/>
<path d="M208 15.5h1" stroke="#782424"/>
</g></g>
<defs><filter id="hblur" filterUnits="userSpaceOnUse" x="145.6" y="1202.8" width="677.2" height="405.3"><feGaussianBlur stdDeviation="0.6 0.3"/></filter><linearGradient id="cbar" x1="0" y1="0" x2="0" y2="1"><stop offset="0" stop-color="#ff0000"/><stop offset="0.5" stop-color="#000"/><stop offset="1" stop-color="#00ff00"/></linearGradient></defs>
<line x1="145.6" y1="1228.1" x2="822.8" y2="1228.1" stroke="rgba(200,200,200,0.25)" stroke-width="1" />
<line x1="145.6" y1="1253.5" x2="822.8" y2="1253.5" stroke="rgba(200,200,200,0.25)" stroke-width="1" />
<line x1="145.6" y1="1278.8" x2="822.8" y2="1278.8" stroke="rgba(200,200,200,0.25)" stroke-width="1" />
<line x1="145.6" y1="1304.1" x2="822.8" y2="1304.1" stroke="rgba(200,200,200,0.25)" stroke-width="1" />
<line x1="145.6" y1="1329.5" x2="822.8" y2="1329.5" stroke="rgba(200,200,200,0.25)" stroke-width="1" />
<line x1="145.6" y1="1354.8" x2="822.8" y2="1354.8" stroke="rgba(200,200,200,0.25)" stroke-width="1" />
<line x1="145.6" y1="1380.1" x2="822.8" y2="1380.1" stroke="rgba(200,200,200,0.25)" stroke-width="1" />
<line x1="145.6" y1="1405.4" x2="822.8" y2="1405.4" stroke="rgba(200,200,200,0.25)" stroke-width="1" />
<line x1="145.6" y1="1430.8" x2="822.8" y2="1430.8" stroke="rgba(200,200,200,0.25)" stroke-width="1" />
<line x1="145.6" y1="1456.1" x2="822.8" y2="1456.1" stroke="rgba(200,200,200,0.25)" stroke-width="1" />
<line x1="145.6" y1="1481.4" x2="822.8" y2="1481.4" stroke="rgba(200,200,200,0.25)" stroke-width="1" />
<line x1="145.6" y1="1506.8" x2="822.8" y2="1506.8" stroke="rgba(200,200,200,0.25)" stroke-width="1" />
<line x1="145.6" y1="1532.1" x2="822.8" y2="1532.1" stroke="rgba(200,200,200,0.25)" stroke-width="1" />
<line x1="145.6" y1="1557.4" x2="822.8" y2="1557.4" stroke="rgba(200,200,200,0.25)" stroke-width="1" />
<line x1="145.6" y1="1582.8" x2="822.8" y2="1582.8" stroke="rgba(200,200,200,0.25)" stroke-width="1" />
<text x="832.6" y="1224.2" font-size="21.5" font-style="italic">NELL1</text>
<text x="832.6" y="1249.5" font-size="21.5" font-style="italic">CLSTN2</text>
<text x="832.6" y="1274.9" font-size="21.5" font-style="italic">ICAM5</text>
<text x="832.6" y="1300.2" font-size="21.5" font-style="italic">HPCAL4</text>
<text x="832.6" y="1325.5" font-size="21.5" font-style="italic">LHX6</text>
<text x="832.6" y="1350.9" font-size="21.5" font-style="italic">SNAP91</text>
<text x="832.6" y="1376.2" font-size="21.5" font-style="italic">INA</text>
<text x="832.6" y="1401.5" font-size="21.5" font-style="italic">CHRM3</text>
<text x="832.6" y="1426.8" font-size="21.5" font-style="italic">SEZ6L2</text>
<text x="832.6" y="1452.2" font-size="21.5" font-style="italic">PGBD5</text>
<text x="832.6" y="1477.5" font-size="21.5" font-style="italic">GPRASP1</text>
<text x="832.6" y="1502.8" font-size="21.5" font-style="italic">PCSK1N</text>
<text x="832.6" y="1528.2" font-size="21.5" font-style="italic">C1R</text>
<text x="832.6" y="1553.5" font-size="21.5" font-style="italic">IGFBP2</text>
<text x="832.6" y="1578.8" font-size="21.5" font-style="italic">NMB</text>
<text x="832.6" y="1604.2" font-size="21.5" font-style="italic">UCHL1</text>
<text x="830.3" y="1191.7" font-size="29.3" font-weight="bold">Risk Group</text>
<line x1="132.5" y1="1291.5" x2="145.6" y2="1291.5" stroke="#3a3a3a" stroke-width="2" />
<line x1="132.5" y1="1316.8" x2="145.6" y2="1316.8" stroke="#3a3a3a" stroke-width="2" />
<line x1="132.5" y1="1291.5" x2="132.5" y2="1316.8" stroke="#3a3a3a" stroke-width="2" />
<line x1="131.1" y1="1266.1" x2="145.6" y2="1266.1" stroke="#3a3a3a" stroke-width="2" />
<line x1="131.1" y1="1304.1" x2="132.5" y2="1304.1" stroke="#3a3a3a" stroke-width="2" />
<line x1="131.1" y1="1266.1" x2="131.1" y2="1304.1" stroke="#3a3a3a" stroke-width="2" />
<line x1="126.2" y1="1240.8" x2="145.6" y2="1240.8" stroke="#3a3a3a" stroke-width="2" />
<line x1="126.2" y1="1285.1" x2="131.1" y2="1285.1" stroke="#3a3a3a" stroke-width="2" />
<line x1="126.2" y1="1240.8" x2="126.2" y2="1285.1" stroke="#3a3a3a" stroke-width="2" />
<line x1="122.2" y1="1215.5" x2="145.6" y2="1215.5" stroke="#3a3a3a" stroke-width="2" />
<line x1="122.2" y1="1263.0" x2="126.2" y2="1263.0" stroke="#3a3a3a" stroke-width="2" />
<line x1="122.2" y1="1215.5" x2="122.2" y2="1263.0" stroke="#3a3a3a" stroke-width="2" />
<line x1="126.6" y1="1342.1" x2="145.6" y2="1342.1" stroke="#3a3a3a" stroke-width="2" />
<line x1="126.6" y1="1367.4" x2="145.6" y2="1367.4" stroke="#3a3a3a" stroke-width="2" />
<line x1="126.6" y1="1342.1" x2="126.6" y2="1367.4" stroke="#3a3a3a" stroke-width="2" />
<line x1="125.1" y1="1418.1" x2="145.6" y2="1418.1" stroke="#3a3a3a" stroke-width="2" />
<line x1="125.1" y1="1443.4" x2="145.6" y2="1443.4" stroke="#3a3a3a" stroke-width="2" />
<line x1="125.1" y1="1418.1" x2="125.1" y2="1443.4" stroke="#3a3a3a" stroke-width="2" />
<line x1="116.8" y1="1392.8" x2="145.6" y2="1392.8" stroke="#3a3a3a" stroke-width="2" />
<line x1="116.8" y1="1430.8" x2="125.1" y2="1430.8" stroke="#3a3a3a" stroke-width="2" />
<line x1="116.8" y1="1392.8" x2="116.8" y2="1430.8" stroke="#3a3a3a" stroke-width="2" />
<line x1="112.3" y1="1354.8" x2="126.6" y2="1354.8" stroke="#3a3a3a" stroke-width="2" />
<line x1="112.3" y1="1411.8" x2="116.8" y2="1411.8" stroke="#3a3a3a" stroke-width="2" />
<line x1="112.3" y1="1354.8" x2="112.3" y2="1411.8" stroke="#3a3a3a" stroke-width="2" />
<line x1="101.1" y1="1239.2" x2="122.2" y2="1239.2" stroke="#3a3a3a" stroke-width="2" />
<line x1="101.1" y1="1383.3" x2="112.3" y2="1383.3" stroke="#3a3a3a" stroke-width="2" />
<line x1="101.1" y1="1239.2" x2="101.1" y2="1383.3" stroke="#3a3a3a" stroke-width="2" />
<line x1="120.6" y1="1468.8" x2="145.6" y2="1468.8" stroke="#3a3a3a" stroke-width="2" />
<line x1="120.6" y1="1494.1" x2="145.6" y2="1494.1" stroke="#3a3a3a" stroke-width="2" />
<line x1="120.6" y1="1468.8" x2="120.6" y2="1494.1" stroke="#3a3a3a" stroke-width="2" />
<line x1="116.1" y1="1570.1" x2="145.6" y2="1570.1" stroke="#3a3a3a" stroke-width="2" />
<line x1="116.1" y1="1595.4" x2="145.6" y2="1595.4" stroke="#3a3a3a" stroke-width="2" />
<line x1="116.1" y1="1570.1" x2="116.1" y2="1595.4" stroke="#3a3a3a" stroke-width="2" />
<line x1="112.8" y1="1544.8" x2="145.6" y2="1544.8" stroke="#3a3a3a" stroke-width="2" />
<line x1="112.8" y1="1582.8" x2="116.1" y2="1582.8" stroke="#3a3a3a" stroke-width="2" />
<line x1="112.8" y1="1544.8" x2="112.8" y2="1582.8" stroke="#3a3a3a" stroke-width="2" />
<line x1="108.3" y1="1519.4" x2="145.6" y2="1519.4" stroke="#3a3a3a" stroke-width="2" />
<line x1="108.3" y1="1563.8" x2="112.8" y2="1563.8" stroke="#3a3a3a" stroke-width="2" />
<line x1="108.3" y1="1519.4" x2="108.3" y2="1563.8" stroke="#3a3a3a" stroke-width="2" />
<line x1="90.4" y1="1481.4" x2="120.6" y2="1481.4" stroke="#3a3a3a" stroke-width="2" />
<line x1="90.4" y1="1541.6" x2="108.3" y2="1541.6" stroke="#3a3a3a" stroke-width="2" />
<line x1="90.4" y1="1481.4" x2="90.4" y2="1541.6" stroke="#3a3a3a" stroke-width="2" />
<line x1="39.4" y1="1311.2" x2="101.1" y2="1311.2" stroke="#3a3a3a" stroke-width="2" />
<line x1="39.4" y1="1511.5" x2="90.4" y2="1511.5" stroke="#3a3a3a" stroke-width="2" />
<line x1="39.4" y1="1311.2" x2="39.4" y2="1511.5" stroke="#3a3a3a" stroke-width="2" />
<rect x="990.3" y="1164.6" width="19.6" height="301.2" fill="url(#cbar)" />
<text x="1020.0" y="1215.0" font-size="28">12</text>
<text x="1020.0" y="1275.1" font-size="28">10</text>
<text x="1020.0" y="1335.2" font-size="28">8</text>
<text x="1020.0" y="1395.3" font-size="28">6</text>
<text x="1020.0" y="1455.4" font-size="28">4</text>
<text x="1075.9" y="1186.1" font-size="29.6" font-weight="bold">Risk Group</text>
<rect x="1074.2" y="1197.3" width="45.0" height="43.4" fill="#00E3E8" rx="3"/>
<rect x="1074.2" y="1240.7" width="45.0" height="44.7" fill="#FBA9A4" rx="3"/>
<text x="1129.0" y="1230.0" font-size="27.7">high</text>
<text x="1129.0" y="1274.2" font-size="27.7">low</text>
<text x="1321.0" y="1117.2" font-size="75" font-weight="bold">D</text>
<text x="1704.5" y="1167.5" font-size="38" font-weight="bold">Training set (TCGA)</text>
<line x1="1456.2" y1="1718.8" x2="1466.9" y2="1718.8" stroke="#222" stroke-width="2" />
<text transform="translate(1438.0,1718.8) rotate(-90)" font-size="28" text-anchor="middle" >0.0</text>
<line x1="1496.8" y1="1738.6" x2="1496.8" y2="1749.0" stroke="#222" stroke-width="2" />
<text x="1496.8" y="1778.5" font-size="28" text-anchor="middle">0.0</text>
<line x1="1456.2" y1="1619.6" x2="1466.9" y2="1619.6" stroke="#222" stroke-width="2" />
<text transform="translate(1438.0,1619.6) rotate(-90)" font-size="28" text-anchor="middle" >0.2</text>
<line x1="1651.1" y1="1738.6" x2="1651.1" y2="1749.0" stroke="#222" stroke-width="2" />
<text x="1651.1" y="1778.5" font-size="28" text-anchor="middle">0.2</text>
<line x1="1456.2" y1="1520.4" x2="1466.9" y2="1520.4" stroke="#222" stroke-width="2" />
<text transform="translate(1438.0,1520.4) rotate(-90)" font-size="28" text-anchor="middle" >0.4</text>
<line x1="1805.4" y1="1738.6" x2="1805.4" y2="1749.0" stroke="#222" stroke-width="2" />
<text x="1805.4" y="1778.5" font-size="28" text-anchor="middle">0.4</text>
<line x1="1456.2" y1="1421.2" x2="1466.9" y2="1421.2" stroke="#222" stroke-width="2" />
<text transform="translate(1438.0,1421.2) rotate(-90)" font-size="28" text-anchor="middle" >0.6</text>
<line x1="1959.7" y1="1738.6" x2="1959.7" y2="1749.0" stroke="#222" stroke-width="2" />
<text x="1959.7" y="1778.5" font-size="28" text-anchor="middle">0.6</text>
<line x1="1456.2" y1="1322.0" x2="1466.9" y2="1322.0" stroke="#222" stroke-width="2" />
<text transform="translate(1438.0,1322.0) rotate(-90)" font-size="28" text-anchor="middle" >0.8</text>
<line x1="2114.0" y1="1738.6" x2="2114.0" y2="1749.0" stroke="#222" stroke-width="2" />
<text x="2114.0" y="1778.5" font-size="28" text-anchor="middle">0.8</text>
<line x1="1456.2" y1="1222.8" x2="1466.9" y2="1222.8" stroke="#222" stroke-width="2" />
<text transform="translate(1438.0,1222.8) rotate(-90)" font-size="28" text-anchor="middle" >1.0</text>
<line x1="2268.3" y1="1738.6" x2="2268.3" y2="1749.0" stroke="#222" stroke-width="2" />
<text x="2268.3" y="1778.5" font-size="28" text-anchor="middle">1.0</text>
<text transform="translate(1389.0,1470.5) rotate(-90)" font-size="28.5" text-anchor="middle" >Sensitivity</text>
<text x="1883.3" y="1824.5" font-size="28.5" text-anchor="middle">1-Specificity</text>
<line x1="1466.9" y1="1738.6" x2="2299.0" y2="1202.0" stroke="#111" stroke-width="2" stroke-dasharray="6,5"/>
<polyline points="1496.8,1718.8 1501.1,1697.0 1502.8,1675.2 1511.2,1658.4 1517.9,1650.0 1523.0,1638.3 1533.0,1636.6 1538.1,1611.4 1553.2,1608.1 1558.2,1596.3 1571.6,1586.2 1575.0,1564.4 1588.4,1564.4 1595.1,1556.0 1603.5,1551.0 1608.5,1537.6 1618.6,1525.8 1628.7,1522.5 1632.0,1510.7 1648.8,1502.3 1653.8,1488.9 1670.6,1487.2 1687.4,1475.5 1692.4,1462.1 1699.1,1443.6 1707.5,1436.9 1722.6,1432.9 1736.0,1430.2 1744.4,1422.8 1759.5,1420.8 1766.2,1408.4 1779.7,1403.4 1793.1,1400.0 1793.1,1399.1 1793.1,1389.0 1800.0,1385.6 1802.9,1379.8 1820.4,1366.7 1843.6,1357.9 1875.6,1357.9 1887.2,1344.9 1901.8,1341.9 1922.1,1324.5 1930.9,1307.0 1942.5,1296.9 1968.7,1296.9 1971.6,1286.7 1994.9,1285.2 2006.5,1272.1 2032.7,1272.1 2034.1,1256.2 2064.7,1254.7 2069.0,1248.9 2096.6,1247.4 2099.5,1243.1 2117.0,1243.1 2119.9,1235.8 2149.0,1234.3 2166.4,1228.5 2221.7,1228.5 2221.7,1225.0 2269.7,1220.7" fill="none" stroke="#FF1010" stroke-width="3.4" stroke-linejoin="miter"/>
<polyline points="1496.8,1718.8 1497.8,1673.5 1504.5,1665.1 1519.6,1661.7 1521.3,1643.3 1536.4,1643.3 1536.4,1540.9 1543.1,1540.9 1544.1,1514.1 1551.5,1514.1 1551.5,1494.6 1559.9,1494.6 1559.9,1467.1 1581.7,1467.1 1598.5,1462.1 1600.1,1453.7 1613.6,1452.0 1621.9,1440.3 1637.0,1438.6 1638.1,1430.2 1645.4,1430.2 1645.4,1408.4 1665.6,1406.7 1685.7,1400.0 1685.7,1389.0 1719.6,1382.3 1723.0,1362.1 1738.1,1362.1 1739.7,1352.1 1756.5,1347.0 1763.2,1340.3 1771.6,1335.3 1778.3,1313.5 1786.7,1308.5 1800.0,1308.5 1823.3,1302.7 1840.7,1294.0 1869.8,1289.6 1871.3,1280.9 1893.1,1278.0 1919.2,1269.2 1942.5,1263.4 1965.8,1259.1 1989.0,1254.7 2015.2,1248.9 2041.4,1246.0 2061.7,1237.2 2090.8,1234.3 2172.3,1234.3 2175.2,1227.1 2221.7,1225.0 2269.7,1220.7" fill="none" stroke="#141486" stroke-width="3.4" stroke-linejoin="miter"/>
<polyline points="1496.8,1718.8 1496.8,1452.0 1512.9,1452.0 1512.9,1418.5 1544.8,1416.1 1561.5,1413.4 1561.5,1403.4 1578.3,1400.0 1578.3,1393.4 1593.8,1393.4 1593.8,1374.9 1625.6,1374.9 1625.6,1365.5 1657.5,1365.5 1657.5,1363.2 1673.3,1363.2 1673.3,1329.6 1689.4,1329.6 1689.4,1325.2 1721.3,1325.2 1721.3,1320.2 1753.2,1320.2 1753.2,1316.8 1769.9,1316.8 1769.9,1291.7 1800.0,1289.6 1834.9,1283.8 1834.9,1278.0 1850.9,1278.0 1850.9,1271.6 1896.0,1269.8 1898.9,1266.3 1913.4,1266.3 1914.9,1257.6 1930.9,1254.7 1945.4,1250.3 1977.4,1247.4 1978.9,1237.2 2003.6,1235.8 2032.7,1234.3 2119.9,1234.3 2122.8,1226.5 2154.8,1224.2 2172.3,1220.7 2269.7,1220.7" fill="none" stroke="#007A33" stroke-width="3.4" stroke-linejoin="miter"/>
<rect x="1466.9" y="1202" width="832.1" height="536.6" fill="none" stroke="#555" stroke-width="2"/>
<line x1="1466.9" y1="1738.6" x2="2299.0" y2="1738.6" stroke="#666" stroke-width="3" />
<line x1="1942.0" y1="1634.6" x2="1997.0" y2="1634.6" stroke="#FF1010" stroke-width="3.4" />
<text x="2022.7" y="1644.9" font-size="28.5" xml:space="preserve">AUC at 1 year  : 0.7</text>
<line x1="1942.0" y1="1669.0" x2="1997.0" y2="1669.0" stroke="#141486" stroke-width="3.4" />
<text x="2022.7" y="1679.8" font-size="28.5" xml:space="preserve">AUC at 2 years: 0.79</text>
<line x1="1942.0" y1="1704.0" x2="1997.0" y2="1704.0" stroke="#007A33" stroke-width="3.4" />
<text x="2022.7" y="1714.3" font-size="28.5" xml:space="preserve">AUC at 3 years: 0.86</text>
<text x="64.0" y="1857.9" font-size="75" font-weight="bold">E</text>
<text x="470.8" y="1860.4" font-size="39.3" font-weight="bold">Training set (TCGA)</text>
<line x1="153.1" y1="2155.2" x2="1158.6" y2="2155.2" stroke="#666" stroke-width="2" stroke-dasharray="6,5"/>
<line x1="654.5" y1="1905.5" x2="654.5" y2="2219.3" stroke="#222" stroke-width="1.8" stroke-dasharray="5,5"/>
<polyline points="188.8,2207.4 195.0,2201.0 224.6,2194.4 261.5,2188.9 280.0,2186.3 298.4,2182.6 335.3,2178.9 372.2,2175.2 409.1,2172.3 446.0,2168.6 483.0,2164.9 519.9,2162.0 556.8,2159.4 593.7,2157.5 630.6,2154.6 653.0,2153.8" fill="none" stroke="#00EE22" stroke-width="7.5" stroke-linecap="round" stroke-linejoin="round"/>
<polyline points="655.0,2153.8 729.7,2147.6 794.6,2141.1 859.5,2136.3 924.4,2128.1 956.8,2124.9 989.3,2116.8 1015.2,2110.3 1031.4,2103.8 1067.1,2095.7 1089.8,2084.4 1099.5,2071.4 1107.6,2055.2" fill="none" stroke="#FF0000" stroke-width="6.5" stroke-linecap="round" stroke-linejoin="round"/>
<path d="M1110 2053.5h0M1113.2 2039h0M1115.8 2030.8h0M1118 2009.1h0M1119 1996.8h0M1120.6 1918h0" stroke="#FF0000" stroke-width="6.5" stroke-linecap="round"/>
<rect x="153.1" y="1905.5" width="1005.5" height="313.8" fill="none" stroke="#333" stroke-width="2"/>
<line x1="141.7" y1="2210.2" x2="153.1" y2="2210.2" stroke="#333" stroke-width="2" />
<text transform="translate(124.0,2210.2) rotate(-90)" font-size="29.5" text-anchor="middle" >0</text>
<line x1="141.7" y1="2159.2" x2="153.1" y2="2159.2" stroke="#333" stroke-width="2" />
<text transform="translate(124.0,2159.2) rotate(-90)" font-size="29.5" text-anchor="middle" >1</text>
<line x1="141.7" y1="2108.2" x2="153.1" y2="2108.2" stroke="#333" stroke-width="2" />
<text transform="translate(124.0,2108.2) rotate(-90)" font-size="29.5" text-anchor="middle" >2</text>
<line x1="141.7" y1="2057.2" x2="153.1" y2="2057.2" stroke="#333" stroke-width="2" />
<text transform="translate(124.0,2057.2) rotate(-90)" font-size="29.5" text-anchor="middle" >3</text>
<line x1="141.7" y1="2006.2" x2="153.1" y2="2006.2" stroke="#333" stroke-width="2" />
<text transform="translate(124.0,2006.2) rotate(-90)" font-size="29.5" text-anchor="middle" >4</text>
<line x1="141.7" y1="1955.2" x2="153.1" y2="1955.2" stroke="#333" stroke-width="2" />
<text transform="translate(124.0,1955.2) rotate(-90)" font-size="29.5" text-anchor="middle" >5</text>
<line x1="188.8" y1="2219.3" x2="188.8" y2="2230.0" stroke="#333" stroke-width="2" />
<text x="188.8" y="2260.8" font-size="29.5" text-anchor="middle">0</text>
<line x1="366.9" y1="2219.3" x2="366.9" y2="2230.0" stroke="#333" stroke-width="2" />
<text x="366.9" y="2260.8" font-size="29.5" text-anchor="middle">100</text>
<line x1="544.9" y1="2219.3" x2="544.9" y2="2230.0" stroke="#333" stroke-width="2" />
<text x="544.9" y="2260.8" font-size="29.5" text-anchor="middle">200</text>
<line x1="723.0" y1="2219.3" x2="723.0" y2="2230.0" stroke="#333" stroke-width="2" />
<text x="723.0" y="2260.8" font-size="29.5" text-anchor="middle">300</text>
<line x1="901.0" y1="2219.3" x2="901.0" y2="2230.0" stroke="#333" stroke-width="2" />
<text x="901.0" y="2260.8" font-size="29.5" text-anchor="middle">400</text>
<line x1="1079.1" y1="2219.3" x2="1079.1" y2="2230.0" stroke="#333" stroke-width="2" />
<text x="1079.1" y="2260.8" font-size="29.5" text-anchor="middle">500</text>
<text x="655.3" y="2308.0" font-size="29.6" text-anchor="middle">Patients (increasing risk socre)</text>
<text transform="translate(75.5,2062.7) rotate(-90)" font-size="29" text-anchor="middle" >Risk score</text>
<circle cx="191" cy="1944.4" r="5.5" fill="#00EE22"/><circle cx="191" cy="1980.7" r="5.5" fill="#FF0000"/>
<text x="207.8" y="1952.8" font-size="27.5">Low risk (<tspan font-style="italic">n</tspan> = 262)</text>
<text x="207.8" y="1992" font-size="27.5">High risk (<tspan font-style="italic">n</tspan> = 262)</text>
<line x1="653.7" y1="2345.1" x2="653.7" y2="2659.5" stroke="#777" stroke-width="2.2" stroke-dasharray="5,5"/>
<path d="M189.2 2439.0h0M190.5 2615.1h0M192.3 2442.8h0M195.1 2460.3h0M197.0 2420.4h0M200.4 2471.7h0M206.5 2593.9h0M208.2 2604.3h0M209.8 2447.3h0M211.8 2606.3h0M213.6 2638.2h0M218.9 2533.0h0M221.2 2539.7h0M222.4 2633.0h0M224.2 2611.1h0M226.0 2627.5h0M227.8 2571.8h0M229.5 2635.2h0M231.3 2605.5h0M235.8 2540.6h0M236.6 2615.9h0M240.2 2643.6h0M241.4 2544.6h0M244.8 2483.3h0M246.4 2549.8h0M248.9 2384.4h0M250.5 2514.0h0M252.6 2627.5h0M256.2 2582.9h0M257.6 2500.1h0M263.3 2607.8h0M264.3 2559.8h0M266.8 2601.3h0M268.6 2627.6h0M270.4 2599.7h0M272.2 2637.7h0M275.7 2645.1h0M277.5 2597.4h0M279.1 2567.2h0M281.0 2607.5h0M282.8 2628.6h0M284.6 2499.4h0M288.1 2622.6h0M289.9 2603.3h0M291.2 2556.5h0M293.5 2618.5h0M295.2 2564.6h0M298.8 2625.2h0M300.6 2628.1h0M304.1 2610.2h0M305.4 2541.3h0M307.7 2632.1h0M309.4 2581.4h0M313.0 2603.8h0M314.8 2618.8h0M316.5 2631.6h0M321.9 2599.0h0M325.4 2550.4h0M327.2 2594.7h0M329.0 2597.1h0M330.7 2550.6h0M332.9 2441.2h0M334.7 2450.2h0M336.1 2586.0h0M337.3 2536.3h0M341.4 2588.0h0M343.2 2617.8h0M345.0 2540.9h0M346.7 2529.3h0M348.5 2642.9h0M350.8 2512.0h0M352.1 2593.1h0M353.8 2606.8h0M355.6 2617.5h0M357.4 2636.0h0M359.2 2624.3h0M360.9 2611.5h0M364.5 2590.1h0M365.9 2432.3h0M368.0 2623.4h0M369.8 2640.9h0M371.6 2641.0h0M373.4 2612.0h0M376.9 2357.3h0M378.7 2593.2h0M380.5 2607.9h0M382.2 2628.7h0M384.0 2633.4h0M385.8 2620.1h0M387.6 2593.3h0M389.3 2580.3h0M391.1 2602.5h0M392.9 2595.7h0M394.5 2567.7h0M396.4 2610.8h0M398.2 2595.8h0M401.8 2629.5h0M403.5 2575.5h0M407.1 2642.9h0M408.9 2589.8h0M410.6 2616.3h0M412.4 2625.7h0M414.2 2587.2h0M416.0 2616.4h0M417.8 2624.6h0M421.3 2633.5h0M423.1 2599.0h0M426.6 2599.0h0M428.4 2629.5h0M430.7 2537.5h0M432.0 2638.9h0M434.1 2559.8h0M435.5 2572.3h0M437.3 2620.7h0M439.1 2630.1h0M440.8 2615.8h0M442.6 2580.9h0M444.9 2488.2h0M446.2 2642.4h0M448.3 2548.0h0M449.7 2620.5h0M451.5 2630.1h0M453.3 2599.4h0M455.0 2623.6h0M458.6 2602.8h0M460.4 2569.5h0M462.1 2598.8h0M463.9 2607.7h0M465.7 2630.7h0M467.5 2625.0h0M469.2 2610.3h0M471.0 2613.7h0M472.8 2588.1h0M476.3 2636.1h0M478.1 2628.8h0M479.9 2598.9h0M481.7 2623.6h0M483.4 2602.8h0M485.2 2547.9h0M487.0 2609.6h0M488.8 2596.5h0M490.6 2594.1h0M492.3 2618.4h0M494.1 2645.5h0M495.9 2629.3h0M499.4 2627.1h0M501.2 2624.1h0M502.6 2583.1h0M504.8 2644.8h0M506.5 2628.2h0M508.3 2583.9h0M510.1 2540.9h0M511.9 2557.0h0M515.4 2527.2h0M517.2 2568.5h0M522.5 2602.7h0M526.2 2561.4h0M527.8 2613.2h0M529.6 2599.3h0M531.4 2631.5h0M533.2 2631.0h0M534.9 2639.0h0M536.7 2625.1h0M538.5 2592.2h0M540.3 2589.9h0M542.0 2609.3h0M543.8 2626.3h0M545.6 2590.5h0M547.4 2620.7h0M549.7 2531.2h0M553.1 2562.1h0M554.5 2552.7h0M556.2 2605.8h0M558.0 2607.1h0M559.8 2592.8h0M561.6 2587.9h0M563.4 2640.9h0M565.1 2609.3h0M566.9 2636.1h0M568.7 2645.6h0M570.5 2622.8h0M572.2 2643.4h0M574.0 2628.8h0M575.8 2622.3h0M579.3 2623.0h0M581.1 2584.9h0M582.9 2597.3h0M585.4 2525.6h0M586.4 2638.8h0M588.2 2543.0h0M590.0 2617.9h0M591.8 2613.8h0M593.5 2637.8h0M595.3 2611.1h0M597.1 2611.1h0M598.9 2609.7h0M600.6 2624.3h0M602.4 2555.4h0M603.7 2555.4h0M606.0 2633.7h0M607.7 2644.6h0M609.5 2620.4h0M611.3 2621.5h0M613.1 2598.7h0M614.8 2633.0h0M618.4 2628.9h0M620.2 2645.4h0M624.8 2539.7h0M626.6 2539.7h0M629.9 2551.6h0M630.8 2605.9h0M633.3 2563.2h0M634.4 2644.4h0M636.2 2609.2h0M637.9 2608.8h0M639.7 2609.8h0M641.8 2571.7h0M643.3 2644.0h0M645.0 2594.0h0M646.8 2633.2h0M648.6 2621.0h0M650.4 2608.5h0M652.1 2642.5h0M655.7 2613.3h0M657.5 2589.3h0M659.2 2632.6h0M661.0 2615.0h0M662.8 2643.1h0M664.6 2645.1h0M666.3 2634.3h0M668.1 2613.5h0M669.9 2604.9h0M671.7 2629.1h0M673.4 2607.0h0M675.2 2616.3h0M677.0 2629.7h0M678.8 2629.6h0M680.5 2607.8h0M684.1 2638.2h0M685.9 2607.7h0M688.7 2518.7h0M691.2 2646.5h0M693.0 2598.4h0M694.7 2643.1h0M696.5 2576.4h0M698.3 2601.9h0M700.1 2639.8h0M701.8 2640.2h0M703.6 2626.9h0M705.4 2624.3h0M707.2 2618.5h0M709.0 2642.6h0M710.7 2611.5h0M712.5 2642.5h0M714.3 2632.1h0M716.1 2618.1h0M717.8 2607.9h0M719.6 2616.6h0M721.4 2622.3h0M723.2 2618.7h0M724.9 2616.0h0M726.7 2599.8h0M728.5 2616.6h0M730.3 2634.8h0M732.0 2630.2h0M733.8 2572.3h0M735.6 2624.9h0M737.4 2615.0h0M739.7 2567.9h0M740.9 2608.6h0M742.7 2632.1h0M744.5 2627.9h0M746.2 2621.0h0M748.0 2623.9h0M749.8 2639.5h0M751.6 2626.1h0M753.3 2633.5h0M755.1 2638.4h0M756.9 2609.9h0M758.7 2583.7h0M760.4 2605.1h0M764.0 2642.9h0M765.8 2645.3h0M767.5 2628.6h0M769.3 2593.2h0M771.1 2628.1h0M772.9 2627.9h0M778.2 2622.5h0M780.0 2619.6h0M781.8 2635.9h0M783.5 2576.4h0M785.3 2612.4h0M787.1 2614.7h0M788.9 2612.3h0M790.6 2625.6h0M792.4 2641.8h0M794.2 2645.6h0M796.0 2616.5h0M797.7 2596.9h0M799.5 2645.0h0M803.1 2596.4h0M804.8 2636.8h0M806.6 2621.9h0M808.4 2614.0h0M810.2 2632.2h0M811.9 2597.1h0M813.7 2636.5h0M815.5 2613.6h0M816.6 2567.9h0M819.0 2627.7h0M820.8 2604.5h0M822.6 2618.1h0M824.4 2631.6h0M826.1 2624.8h0M827.9 2604.0h0M829.7 2642.9h0M831.5 2597.8h0M833.2 2624.0h0M835.0 2631.5h0M836.8 2607.2h0M838.6 2610.1h0M840.3 2636.7h0M842.1 2632.7h0M843.9 2605.7h0M845.7 2640.5h0M849.2 2586.5h0M851.0 2630.1h0M852.8 2616.9h0M854.5 2600.3h0M858.1 2628.9h0M859.9 2595.4h0M861.7 2638.6h0M863.4 2643.9h0M865.2 2629.7h0M867.0 2619.6h0M868.8 2601.2h0M870.5 2632.2h0M872.3 2626.5h0M874.1 2582.7h0M875.9 2608.3h0M877.6 2601.4h0M879.4 2603.5h0M881.2 2590.3h0M884.7 2624.9h0M886.5 2634.4h0M888.3 2637.3h0M890.1 2637.6h0M891.8 2597.0h0M893.6 2612.7h0M895.4 2646.3h0M897.2 2637.3h0M898.9 2642.8h0M900.7 2602.4h0M904.3 2622.6h0M906.0 2629.6h0M907.8 2632.4h0M909.6 2592.9h0M913.1 2609.8h0M914.9 2622.3h0M916.7 2622.3h0M920.2 2633.0h0M922.0 2643.5h0M923.8 2642.2h0M925.6 2627.6h0M927.3 2624.3h0M929.1 2642.1h0M930.9 2627.9h0M932.7 2600.9h0M934.5 2642.1h0M936.2 2607.8h0M939.8 2568.7h0M941.6 2621.0h0M943.3 2586.8h0M946.9 2620.3h0M948.7 2594.4h0M950.4 2635.9h0M952.2 2574.2h0M954.0 2627.1h0M955.8 2624.3h0M957.5 2630.0h0M959.3 2615.7h0M961.1 2617.5h0M962.9 2647.0h0M964.6 2617.2h0M966.4 2617.8h0M968.2 2632.5h0M970.0 2635.7h0M971.7 2636.6h0M973.5 2612.6h0M975.3 2620.7h0M977.1 2629.5h0M978.8 2624.3h0M980.6 2604.1h0M982.4 2603.1h0M984.2 2626.4h0M985.9 2622.6h0M987.7 2622.3h0M989.5 2593.0h0M991.3 2621.4h0M993.0 2609.6h0M994.8 2593.6h0M996.6 2590.7h0M1000.1 2591.5h0M1001.9 2584.4h0M1003.7 2619.1h0M1005.5 2643.8h0M1009.0 2622.5h0M1010.8 2629.4h0M1012.6 2613.0h0M1016.1 2628.2h0M1017.9 2620.3h0M1019.7 2601.6h0M1021.5 2617.0h0M1023.2 2591.0h0M1025.0 2584.4h0M1026.8 2635.3h0M1028.6 2620.8h0M1030.3 2633.3h0M1032.1 2592.6h0M1033.9 2636.5h0M1035.7 2633.6h0M1037.4 2604.2h0M1039.2 2609.0h0M1041.0 2567.9h0M1042.1 2581.3h0M1044.5 2619.6h0M1046.3 2640.6h0M1048.1 2593.4h0M1049.9 2568.0h0M1051.6 2616.6h0M1053.4 2617.5h0M1055.2 2633.0h0M1058.7 2638.7h0M1060.5 2605.6h0M1062.3 2624.8h0M1064.1 2629.1h0M1065.8 2602.5h0M1069.4 2639.1h0M1071.2 2642.3h0M1072.9 2631.3h0M1074.7 2628.8h0M1076.5 2622.5h0M1078.3 2634.7h0M1080.1 2627.5h0M1081.8 2609.1h0M1083.6 2634.6h0M1085.4 2583.2h0M1087.2 2640.0h0M1088.9 2625.5h0M1090.7 2600.9h0M1092.5 2634.5h0M1094.3 2635.0h0M1096.0 2632.3h0M1099.6 2608.0h0M1101.4 2628.9h0M1103.1 2625.5h0M1104.2 2600.1h0M1106.7 2605.2h0M1108.5 2619.8h0M1110.2 2616.9h0M1112.0 2598.1h0M1113.8 2628.1h0M1115.6 2639.6h0M1117.3 2627.8h0" stroke="#FF0000" stroke-width="10.8" stroke-linecap="round"/>
<path d="M191.5 2636.6h0M199.2 2554.7h0M202.9 2588.9h0M203.8 2614.7h0M215.3 2575.5h0M215.3 2641.1h0M233.1 2647.1h0M239.3 2631.4h0M241.1 2575.5h0M254.4 2571.0h0M259.7 2516.9h0M258.8 2630.3h0M273.9 2614.7h0M284.6 2629.9h0M297.0 2437.4h0M302.3 2601.2h0M311.2 2618.9h0M318.3 2625.0h0M320.1 2577.7h0M323.6 2529.7h0M338.4 2645.3h0M363.2 2549.1h0M375.1 2440.6h0M400.0 2624.9h0M405.3 2597.9h0M419.5 2527.2h0M424.9 2636.0h0M457.3 2480.2h0M474.6 2636.4h0M497.7 2596.4h0M513.6 2597.9h0M519.0 2613.5h0M520.7 2627.8h0M524.8 2543.1h0M550.9 2606.8h0M577.6 2622.5h0M616.6 2638.2h0M621.9 2602.0h0M623.7 2628.1h0M654.8 2647.1h0M683.2 2635.9h0M687.6 2624.8h0M761.5 2630.8h0M775.5 2624.9h0M774.6 2640.4h0M801.3 2608.2h0M847.4 2632.1h0M856.3 2587.8h0M883.0 2632.1h0M901.6 2646.2h0M911.4 2636.1h0M918.5 2625.3h0M938.9 2627.2h0M945.1 2641.6h0M998.4 2617.1h0M1007.3 2590.0h0M1013.6 2647.1h0M1056.8 2647.1h0M1067.6 2579.1h0M1097.1 2627.2h0" stroke="#00EE22" stroke-width="10.8" stroke-linecap="round"/>
<rect x="153.1" y="2345.1" width="1003.9" height="314.4" fill="none" stroke="#333" stroke-width="2"/>
<line x1="141.7" y1="2647.1" x2="153.1" y2="2647.1" stroke="#333" stroke-width="2" />
<text transform="translate(124.0,2647.1) rotate(-90)" font-size="29.5" text-anchor="middle" >0</text>
<line x1="141.7" y1="2602.3" x2="153.1" y2="2602.3" stroke="#333" stroke-width="2" />
<line x1="141.7" y1="2557.6" x2="153.1" y2="2557.6" stroke="#333" stroke-width="2" />
<text transform="translate(124.0,2557.6) rotate(-90)" font-size="29.5" text-anchor="middle" >40</text>
<line x1="141.7" y1="2512.8" x2="153.1" y2="2512.8" stroke="#333" stroke-width="2" />
<line x1="141.7" y1="2468.1" x2="153.1" y2="2468.1" stroke="#333" stroke-width="2" />
<text transform="translate(124.0,2468.1) rotate(-90)" font-size="29.5" text-anchor="middle" >80</text>
<line x1="141.7" y1="2423.3" x2="153.1" y2="2423.3" stroke="#333" stroke-width="2" />
<line x1="141.7" y1="2378.6" x2="153.1" y2="2378.6" stroke="#333" stroke-width="2" />
<text transform="translate(124.0,2378.6) rotate(-90)" font-size="29.5" text-anchor="middle" >120</text>
<line x1="188.7" y1="2659.5" x2="188.7" y2="2670.0" stroke="#333" stroke-width="2" />
<text x="188.7" y="2699.8" font-size="29.5" text-anchor="middle">0</text>
<line x1="366.3" y1="2659.5" x2="366.3" y2="2670.0" stroke="#333" stroke-width="2" />
<text x="366.3" y="2699.8" font-size="29.5" text-anchor="middle">100</text>
<line x1="543.8" y1="2659.5" x2="543.8" y2="2670.0" stroke="#333" stroke-width="2" />
<text x="543.8" y="2699.8" font-size="29.5" text-anchor="middle">200</text>
<line x1="721.4" y1="2659.5" x2="721.4" y2="2670.0" stroke="#333" stroke-width="2" />
<text x="721.4" y="2699.8" font-size="29.5" text-anchor="middle">300</text>
<line x1="898.9" y1="2659.5" x2="898.9" y2="2670.0" stroke="#333" stroke-width="2" />
<text x="898.9" y="2699.8" font-size="29.5" text-anchor="middle">400</text>
<line x1="1076.5" y1="2659.5" x2="1076.5" y2="2670.0" stroke="#333" stroke-width="2" />
<text x="1076.5" y="2699.8" font-size="29.5" text-anchor="middle">500</text>
<text x="655.0" y="2747.8" font-size="29.6" text-anchor="middle">Patients (increasing risk socre)</text>
<text transform="translate(82.0,2501.0) rotate(-90)" font-size="29.4" text-anchor="middle" >Survival time (months)</text>
<circle cx="934.9" cy="2384.7" r="6.5" fill="#00EE22"/><circle cx="934.9" cy="2419.9" r="6.5" fill="#FF0000"/>
<text x="955" y="2392" font-size="27.5">Alive (<tspan font-style="italic">n</tspan> = 74)</text>
<text x="955" y="2428" font-size="27.5">Dead (<tspan font-style="italic">n</tspan> = 450)</text>
</svg></body></html>
